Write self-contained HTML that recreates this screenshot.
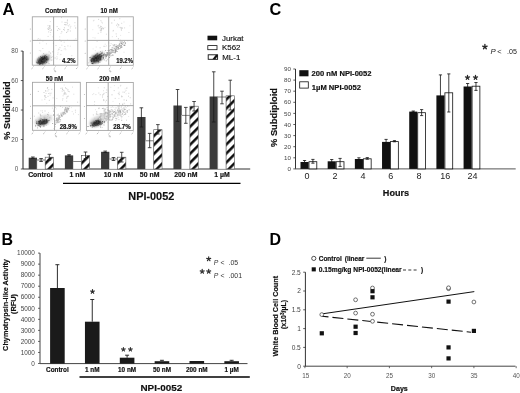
<!DOCTYPE html>
<html><head><meta charset="utf-8"><style>
html,body{margin:0;padding:0;background:#fff;}
svg{display:block;font-family:"Liberation Sans", sans-serif;will-change:transform;}
</style></head><body>
<svg width="520" height="393" viewBox="0 0 520 393">
<defs>
<pattern id="hatch" patternUnits="userSpaceOnUse" width="9" height="9" patternTransform="skewY(-45)">
<rect width="9" height="9" fill="#fff"/><rect y="0" width="9" height="3.6" fill="#111"/>
</pattern>
<pattern id="hatchL" patternUnits="userSpaceOnUse" width="8" height="8" patternTransform="rotate(-45)">
<rect width="8" height="8" fill="#fff"/><rect y="0" width="8" height="3" fill="#111"/>
</pattern>
<filter id="blur1" x="-50%" y="-50%" width="200%" height="200%"><feGaussianBlur stdDeviation="0.9"/></filter>
<filter id="soft" x="-10%" y="-10%" width="120%" height="120%"><feGaussianBlur stdDeviation="0.45"/></filter>
</defs>
<rect width="520" height="393" fill="#fff"/>
<text x="2.4" y="15.4" font-size="16.6" font-weight="bold" text-anchor="start" fill="#000">A</text>
<rect x="32.3" y="16.8" width="45.5" height="48.4" fill="#fff" stroke="none" stroke-width="1"/>
<circle cx="30.299999999999997" cy="28.9" r="0.5" fill="#aaa"/>
<circle cx="30.299999999999997" cy="41.0" r="0.5" fill="#aaa"/>
<circle cx="30.299999999999997" cy="53.099999999999994" r="0.5" fill="#aaa"/>
<path d="M31.5 68.9L32.8 67.7M33.1 66.8L33.6 66.4" stroke="#9a9a9a" stroke-width="0.7" fill="none"/>
<path d="M42.4 68.9L43.7 67.7M44.0 66.8L44.5 66.4" stroke="#9a9a9a" stroke-width="0.7" fill="none"/>
<path d="M53.6 68.9L54.9 67.7M55.2 66.8L55.7 66.4" stroke="#9a9a9a" stroke-width="0.7" fill="none"/>
<path d="M64.5 68.9L65.8 67.7M66.1 66.8L66.6 66.4" stroke="#9a9a9a" stroke-width="0.7" fill="none"/>
<path d="M76.1 68.9L77.4 67.7M77.7 66.8L78.2 66.4" stroke="#9a9a9a" stroke-width="0.7" fill="none"/>
<path d="M53.9 69.8l1.2 0.6M54.2 71.2l1.6 -0.2l-0.3 1.2" stroke="#aaa" stroke-width="0.7" fill="none"/>
<text x="55.95" y="12.9" font-size="6.6" font-weight="bold" text-anchor="middle" fill="#111" textLength="21.9" lengthAdjust="spacingAndGlyphs" stroke="#111" stroke-width="0.18">Control</text>
<g filter="url(#soft)">
<rect x="49.2" y="25.4" width="1.0" height="1.0" fill="#dcdcdc" opacity="1.0"/>
<rect x="39.2" y="42.6" width="1.0" height="1.0" fill="#d4d4d4" opacity="1.0"/>
<rect x="59.4" y="59.2" width="1.0" height="1.0" fill="#e2e2e2" opacity="1.0"/>
<rect x="37.8" y="38.0" width="1.0" height="1.0" fill="#dcdcdc" opacity="1.0"/>
<rect x="45.9" y="43.3" width="1.0" height="1.0" fill="#dcdcdc" opacity="1.0"/>
<rect x="69.1" y="24.2" width="1.0" height="1.0" fill="#e2e2e2" opacity="1.0"/>
<rect x="61.3" y="44.7" width="1.0" height="1.0" fill="#dcdcdc" opacity="1.0"/>
<rect x="59.2" y="36.4" width="1.0" height="1.0" fill="#e2e2e2" opacity="1.0"/>
<rect x="38.2" y="56.9" width="1.0" height="1.0" fill="#d4d4d4" opacity="1.0"/>
<rect x="52.9" y="42.8" width="1.0" height="1.0" fill="#d4d4d4" opacity="1.0"/>
<rect x="58.5" y="49.1" width="1.0" height="1.0" fill="#dcdcdc" opacity="1.0"/>
<rect x="59.4" y="47.2" width="1.0" height="1.0" fill="#d4d4d4" opacity="1.0"/>
<rect x="40.2" y="50.4" width="1.0" height="1.0" fill="#dcdcdc" opacity="1.0"/>
<rect x="60.9" y="40.8" width="1.0" height="1.0" fill="#e8e8e8" opacity="1.0"/>
<rect x="67.1" y="39.5" width="1.0" height="1.0" fill="#e8e8e8" opacity="1.0"/>
<rect x="50.7" y="29.8" width="1.0" height="1.0" fill="#e2e2e2" opacity="1.0"/>
<rect x="64.0" y="29.6" width="1.0" height="1.0" fill="#d4d4d4" opacity="1.0"/>
<rect x="57.1" y="57.7" width="1.0" height="1.0" fill="#e8e8e8" opacity="1.0"/>
<rect x="47.7" y="62.4" width="1.0" height="1.0" fill="#dcdcdc" opacity="1.0"/>
<rect x="56.6" y="26.1" width="1.0" height="1.0" fill="#d4d4d4" opacity="1.0"/>
<rect x="42.4" y="40.5" width="1.0" height="1.0" fill="#dcdcdc" opacity="1.0"/>
<rect x="74.4" y="22.2" width="1.0" height="1.0" fill="#d4d4d4" opacity="1.0"/>
<rect x="49.8" y="34.3" width="1.0" height="1.0" fill="#e8e8e8" opacity="1.0"/>
<rect x="59.3" y="39.0" width="1.0" height="1.0" fill="#dcdcdc" opacity="1.0"/>
<rect x="73.7" y="39.8" width="1.0" height="1.0" fill="#dcdcdc" opacity="1.0"/>
<rect x="38.8" y="50.0" width="1.0" height="1.0" fill="#e8e8e8" opacity="1.0"/>
<rect x="47.6" y="35.9" width="1.0" height="1.0" fill="#d4d4d4" opacity="1.0"/>
<rect x="37.2" y="39.3" width="1.0" height="1.0" fill="#e2e2e2" opacity="1.0"/>
<rect x="60.5" y="40.7" width="1.0" height="1.0" fill="#e2e2e2" opacity="1.0"/>
<rect x="66.8" y="24.5" width="1.0" height="1.0" fill="#e2e2e2" opacity="1.0"/>
<rect x="52.1" y="59.5" width="1.0" height="1.0" fill="#e8e8e8" opacity="1.0"/>
<rect x="39.5" y="38.7" width="1.0" height="1.0" fill="#d4d4d4" opacity="1.0"/>
<rect x="71.3" y="55.2" width="1.0" height="1.0" fill="#d4d4d4" opacity="1.0"/>
<rect x="64.3" y="62.6" width="1.0" height="1.0" fill="#e8e8e8" opacity="1.0"/>
<rect x="74.3" y="25.4" width="1.0" height="1.0" fill="#e2e2e2" opacity="1.0"/>
<rect x="42.3" y="48.0" width="1.0" height="1.0" fill="#dcdcdc" opacity="1.0"/>
<rect x="55.5" y="45.0" width="1.0" height="1.0" fill="#d4d4d4" opacity="1.0"/>
<rect x="47.5" y="25.2" width="1.0" height="1.0" fill="#d4d4d4" opacity="1.0"/>
<rect x="60.5" y="32.9" width="1.0" height="1.0" fill="#e2e2e2" opacity="1.0"/>
<rect x="63.7" y="41.7" width="1.0" height="1.0" fill="#dcdcdc" opacity="1.0"/>
<rect x="54.4" y="57.5" width="1.0" height="1.0" fill="#e8e8e8" opacity="1.0"/>
<rect x="52.1" y="36.3" width="1.0" height="1.0" fill="#e8e8e8" opacity="1.0"/>
<rect x="61.5" y="21.5" width="1.0" height="1.0" fill="#dcdcdc" opacity="1.0"/>
<rect x="75.3" y="38.3" width="1.0" height="1.0" fill="#dcdcdc" opacity="1.0"/>
<rect x="49.8" y="21.1" width="1.0" height="1.0" fill="#dcdcdc" opacity="1.0"/>
<rect x="48.1" y="27.2" width="1.0" height="1.0" fill="#d8d8d8" opacity="1.0"/>
<rect x="48.8" y="27.9" width="1.0" height="1.0" fill="#cfcfcf" opacity="1.0"/>
<rect x="48.7" y="27.6" width="1.0" height="1.0" fill="#d8d8d8" opacity="1.0"/>
<rect x="50.0" y="27.6" width="1.0" height="1.0" fill="#d8d8d8" opacity="1.0"/>
<rect x="50.1" y="31.9" width="1.0" height="1.0" fill="#d8d8d8" opacity="1.0"/>
<rect x="48.3" y="28.8" width="1.0" height="1.0" fill="#cfcfcf" opacity="1.0"/>
<rect x="49.6" y="29.9" width="1.0" height="1.0" fill="#d8d8d8" opacity="1.0"/>
<rect x="47.8" y="29.0" width="1.0" height="1.0" fill="#c8c8c8" opacity="1.0"/>
<rect x="50.9" y="29.4" width="1.0" height="1.0" fill="#c8c8c8" opacity="1.0"/>
<rect x="48.2" y="31.4" width="1.0" height="1.0" fill="#cfcfcf" opacity="1.0"/>
<rect x="49.0" y="26.4" width="1.0" height="1.0" fill="#c8c8c8" opacity="1.0"/>
<rect x="49.8" y="25.6" width="1.0" height="1.0" fill="#d8d8d8" opacity="1.0"/>
<rect x="47.3" y="27.9" width="1.0" height="1.0" fill="#d8d8d8" opacity="1.0"/>
<rect x="49.1" y="25.4" width="1.0" height="1.0" fill="#c8c8c8" opacity="1.0"/>
<rect x="63.1" y="29.0" width="1.0" height="1.0" fill="#cfcfcf" opacity="1.0"/>
<rect x="67.0" y="19.6" width="1.0" height="1.0" fill="#c8c8c8" opacity="1.0"/>
<rect x="65.4" y="24.0" width="1.0" height="1.0" fill="#d8d8d8" opacity="1.0"/>
<rect x="63.9" y="27.3" width="1.0" height="1.0" fill="#cfcfcf" opacity="1.0"/>
<rect x="65.6" y="22.1" width="1.0" height="1.0" fill="#cfcfcf" opacity="1.0"/>
<rect x="61.0" y="17.1" width="1.0" height="1.0" fill="#d8d8d8" opacity="1.0"/>
<rect x="66.8" y="20.5" width="1.0" height="1.0" fill="#d8d8d8" opacity="1.0"/>
<rect x="68.2" y="25.4" width="1.0" height="1.0" fill="#cfcfcf" opacity="1.0"/>
<rect x="68.1" y="29.2" width="1.0" height="1.0" fill="#d8d8d8" opacity="1.0"/>
<rect x="66.1" y="31.9" width="1.0" height="1.0" fill="#c8c8c8" opacity="1.0"/>
<rect x="67.0" y="22.6" width="1.0" height="1.0" fill="#c8c8c8" opacity="1.0"/>
<rect x="61.3" y="31.3" width="1.0" height="1.0" fill="#c8c8c8" opacity="1.0"/>
<rect x="67.4" y="29.2" width="1.0" height="1.0" fill="#c8c8c8" opacity="1.0"/>
<rect x="64.5" y="21.9" width="1.0" height="1.0" fill="#cfcfcf" opacity="1.0"/>
<rect x="59.3" y="28.8" width="1.0" height="1.0" fill="#cfcfcf" opacity="1.0"/>
<rect x="58.1" y="28.0" width="1.0" height="1.0" fill="#cfcfcf" opacity="1.0"/>
<rect x="64.1" y="24.1" width="1.0" height="1.0" fill="#cfcfcf" opacity="1.0"/>
<rect x="69.8" y="27.4" width="1.0" height="1.0" fill="#d8d8d8" opacity="1.0"/>
<rect x="65.3" y="24.4" width="1.0" height="1.0" fill="#c8c8c8" opacity="1.0"/>
<rect x="70.3" y="25.8" width="1.0" height="1.0" fill="#d8d8d8" opacity="1.0"/>
<rect x="67.3" y="30.7" width="1.0" height="1.0" fill="#cfcfcf" opacity="1.0"/>
<rect x="75.1" y="27.5" width="1.0" height="1.0" fill="#c8c8c8" opacity="1.0"/>
<rect x="69.8" y="30.5" width="1.0" height="1.0" fill="#cfcfcf" opacity="1.0"/>
<rect x="57.1" y="29.8" width="1.0" height="1.0" fill="#cfcfcf" opacity="1.0"/>
<ellipse cx="43.8" cy="59.900000000000006" rx="8" ry="4.3" fill="#a0a0a0" opacity="0.6" transform="rotate(-28 42.8 60.2)" filter="url(#blur1)"/>
<rect x="46.6" y="57.5" width="1.0" height="1.0" fill="#c4c4c4" opacity="0.8"/>
<rect x="45.7" y="61.5" width="1.0" height="1.0" fill="#bababa" opacity="0.8"/>
<rect x="35.9" y="61.4" width="1.0" height="1.0" fill="#a6a6a6" opacity="0.8"/>
<rect x="46.3" y="55.9" width="1.0" height="1.0" fill="#acacac" opacity="0.8"/>
<rect x="38.1" y="57.3" width="1.0" height="1.0" fill="#c4c4c4" opacity="0.8"/>
<rect x="45.8" y="58.8" width="1.0" height="1.0" fill="#c4c4c4" opacity="0.8"/>
<rect x="48.2" y="56.7" width="1.0" height="1.0" fill="#b0b0b0" opacity="0.8"/>
<rect x="37.2" y="59.1" width="1.0" height="1.0" fill="#b0b0b0" opacity="0.8"/>
<rect x="47.1" y="59.8" width="1.0" height="1.0" fill="#a6a6a6" opacity="0.8"/>
<rect x="40.1" y="59.8" width="1.0" height="1.0" fill="#c4c4c4" opacity="0.8"/>
<rect x="39.1" y="60.6" width="1.0" height="1.0" fill="#a6a6a6" opacity="0.8"/>
<rect x="44.5" y="57.7" width="1.0" height="1.0" fill="#b0b0b0" opacity="0.8"/>
<rect x="44.6" y="63.1" width="1.0" height="1.0" fill="#c4c4c4" opacity="0.8"/>
<rect x="43.0" y="59.3" width="1.0" height="1.0" fill="#a6a6a6" opacity="0.8"/>
<rect x="39.2" y="62.5" width="1.0" height="1.0" fill="#c4c4c4" opacity="0.8"/>
<rect x="41.2" y="58.9" width="1.0" height="1.0" fill="#bababa" opacity="0.8"/>
<rect x="39.5" y="62.0" width="1.0" height="1.0" fill="#acacac" opacity="0.8"/>
<rect x="40.8" y="60.2" width="1.0" height="1.0" fill="#c4c4c4" opacity="0.8"/>
<rect x="48.6" y="51.4" width="1.0" height="1.0" fill="#bababa" opacity="0.8"/>
<rect x="50.1" y="52.6" width="1.0" height="1.0" fill="#b0b0b0" opacity="0.8"/>
<rect x="44.4" y="57.1" width="1.0" height="1.0" fill="#a6a6a6" opacity="0.8"/>
<rect x="41.7" y="61.3" width="1.0" height="1.0" fill="#b0b0b0" opacity="0.8"/>
<rect x="41.7" y="60.7" width="1.0" height="1.0" fill="#bababa" opacity="0.8"/>
<rect x="43.1" y="53.1" width="1.0" height="1.0" fill="#b0b0b0" opacity="0.8"/>
<rect x="48.5" y="54.7" width="1.0" height="1.0" fill="#bababa" opacity="0.8"/>
<rect x="50.8" y="59.6" width="1.0" height="1.0" fill="#acacac" opacity="0.8"/>
<rect x="48.5" y="63.1" width="1.0" height="1.0" fill="#acacac" opacity="0.8"/>
<rect x="45.1" y="56.9" width="1.0" height="1.0" fill="#b0b0b0" opacity="0.8"/>
<rect x="47.1" y="59.5" width="1.0" height="1.0" fill="#c4c4c4" opacity="0.8"/>
<rect x="41.1" y="61.8" width="1.0" height="1.0" fill="#bababa" opacity="0.8"/>
<rect x="42.9" y="63.3" width="1.0" height="1.0" fill="#a6a6a6" opacity="0.8"/>
<rect x="42.6" y="62.0" width="1.0" height="1.0" fill="#a6a6a6" opacity="0.8"/>
<rect x="41.2" y="62.4" width="1.0" height="1.0" fill="#bababa" opacity="0.8"/>
<rect x="42.3" y="59.4" width="1.0" height="1.0" fill="#b0b0b0" opacity="0.8"/>
<rect x="45.5" y="57.5" width="1.0" height="1.0" fill="#bababa" opacity="0.8"/>
<rect x="44.1" y="60.0" width="1.0" height="1.0" fill="#acacac" opacity="0.8"/>
<rect x="45.9" y="54.2" width="1.0" height="1.0" fill="#bababa" opacity="0.8"/>
<rect x="40.5" y="62.4" width="1.0" height="1.0" fill="#c4c4c4" opacity="0.8"/>
<rect x="37.4" y="60.2" width="1.0" height="1.0" fill="#a6a6a6" opacity="0.8"/>
<rect x="44.6" y="63.3" width="1.0" height="1.0" fill="#b0b0b0" opacity="0.8"/>
<rect x="42.6" y="59.8" width="1.0" height="1.0" fill="#a6a6a6" opacity="0.8"/>
<rect x="37.5" y="58.3" width="1.0" height="1.0" fill="#a6a6a6" opacity="0.8"/>
<rect x="41.1" y="58.9" width="1.0" height="1.0" fill="#bababa" opacity="0.8"/>
<rect x="45.7" y="55.3" width="1.0" height="1.0" fill="#bababa" opacity="0.8"/>
<rect x="47.9" y="56.4" width="1.0" height="1.0" fill="#bababa" opacity="0.8"/>
<rect x="42.7" y="58.7" width="1.0" height="1.0" fill="#b0b0b0" opacity="0.8"/>
<rect x="52.3" y="51.3" width="1.0" height="1.0" fill="#bababa" opacity="0.8"/>
<rect x="46.6" y="57.8" width="1.0" height="1.0" fill="#bababa" opacity="0.8"/>
<rect x="60.6" y="50.0" width="1.0" height="1.0" fill="#e8e8e8" opacity="1.0"/>
<rect x="60.4" y="53.8" width="1.0" height="1.0" fill="#dcdcdc" opacity="1.0"/>
<rect x="69.8" y="45.7" width="1.0" height="1.0" fill="#e2e2e2" opacity="1.0"/>
<rect x="59.8" y="54.2" width="1.0" height="1.0" fill="#e8e8e8" opacity="1.0"/>
<rect x="58.2" y="48.7" width="1.0" height="1.0" fill="#d4d4d4" opacity="1.0"/>
<rect x="65.3" y="49.3" width="1.0" height="1.0" fill="#e2e2e2" opacity="1.0"/>
<rect x="57.2" y="53.8" width="1.0" height="1.0" fill="#e2e2e2" opacity="1.0"/>
<rect x="46.6" y="55.1" width="1.0" height="1.0" fill="#e8e8e8" opacity="1.0"/>
<rect x="56.4" y="58.5" width="1.0" height="1.0" fill="#d4d4d4" opacity="1.0"/>
<rect x="61.2" y="50.1" width="1.0" height="1.0" fill="#e2e2e2" opacity="1.0"/>
<rect x="51.0" y="57.0" width="1.0" height="1.0" fill="#d4d4d4" opacity="1.0"/>
<rect x="67.4" y="45.4" width="1.0" height="1.0" fill="#d4d4d4" opacity="1.0"/>
<rect x="54.7" y="57.5" width="1.0" height="1.0" fill="#dcdcdc" opacity="1.0"/>
<rect x="57.5" y="52.3" width="1.0" height="1.0" fill="#dcdcdc" opacity="1.0"/>
<rect x="51.8" y="56.2" width="1.0" height="1.0" fill="#dcdcdc" opacity="1.0"/>
<rect x="56.4" y="56.3" width="1.0" height="1.0" fill="#dcdcdc" opacity="1.0"/>
<rect x="57.6" y="50.2" width="1.0" height="1.0" fill="#e8e8e8" opacity="1.0"/>
<rect x="64.3" y="46.0" width="1.0" height="1.0" fill="#d4d4d4" opacity="1.0"/>
<rect x="63.6" y="48.6" width="1.0" height="1.0" fill="#e8e8e8" opacity="1.0"/>
<rect x="64.6" y="47.8" width="1.0" height="1.0" fill="#dcdcdc" opacity="1.0"/>
<ellipse cx="42.8" cy="60.2" rx="5.6" ry="3.4" fill="#222" opacity="1" transform="rotate(-25 42.8 60.2)" filter="url(#blur1)"/>
<rect x="42.9" y="57.4" width="1.0" height="1.0" fill="#555" opacity="0.7"/>
<rect x="39.9" y="58.6" width="1.0" height="1.0" fill="#2a2a2a" opacity="0.7"/>
<rect x="43.0" y="59.6" width="1.0" height="1.0" fill="#555" opacity="0.7"/>
<rect x="41.9" y="60.5" width="1.0" height="1.0" fill="#4a4a4a" opacity="0.7"/>
<rect x="38.9" y="60.6" width="1.0" height="1.0" fill="#555" opacity="0.7"/>
<rect x="40.5" y="60.4" width="1.0" height="1.0" fill="#3a3a3a" opacity="0.7"/>
<rect x="46.4" y="57.6" width="1.0" height="1.0" fill="#555" opacity="0.7"/>
<rect x="46.2" y="56.2" width="1.0" height="1.0" fill="#1a1a1a" opacity="0.7"/>
<rect x="41.6" y="59.5" width="1.0" height="1.0" fill="#555" opacity="0.7"/>
<rect x="38.4" y="62.3" width="1.0" height="1.0" fill="#3a3a3a" opacity="0.7"/>
<rect x="43.8" y="61.7" width="1.0" height="1.0" fill="#2a2a2a" opacity="0.7"/>
<rect x="40.0" y="56.3" width="1.0" height="1.0" fill="#4a4a4a" opacity="0.7"/>
<rect x="42.6" y="59.0" width="1.0" height="1.0" fill="#555" opacity="0.7"/>
<rect x="42.3" y="60.2" width="1.0" height="1.0" fill="#555" opacity="0.7"/>
<rect x="41.5" y="59.6" width="1.0" height="1.0" fill="#2a2a2a" opacity="0.7"/>
<rect x="41.6" y="62.2" width="1.0" height="1.0" fill="#555" opacity="0.7"/>
<rect x="42.2" y="61.8" width="1.0" height="1.0" fill="#1a1a1a" opacity="0.7"/>
<rect x="39.8" y="61.3" width="1.0" height="1.0" fill="#555" opacity="0.7"/>
<rect x="43.9" y="59.5" width="1.0" height="1.0" fill="#4a4a4a" opacity="0.7"/>
<rect x="42.4" y="61.6" width="1.0" height="1.0" fill="#4a4a4a" opacity="0.7"/>
<rect x="38.7" y="62.2" width="1.0" height="1.0" fill="#222" opacity="0.7"/>
<rect x="46.1" y="62.1" width="1.0" height="1.0" fill="#4a4a4a" opacity="0.7"/>
<rect x="44.9" y="58.5" width="1.0" height="1.0" fill="#222" opacity="0.7"/>
<rect x="44.6" y="58.1" width="1.0" height="1.0" fill="#3a3a3a" opacity="0.7"/>
<rect x="39.4" y="63.7" width="1.0" height="1.0" fill="#2a2a2a" opacity="0.7"/>
<rect x="43.3" y="59.5" width="1.0" height="1.0" fill="#555" opacity="0.7"/>
<rect x="36.4" y="62.2" width="1.0" height="1.0" fill="#2a2a2a" opacity="0.7"/>
<rect x="39.1" y="59.9" width="1.0" height="1.0" fill="#3a3a3a" opacity="0.7"/>
<rect x="44.3" y="56.9" width="1.0" height="1.0" fill="#2a2a2a" opacity="0.7"/>
<rect x="37.6" y="62.2" width="1.0" height="1.0" fill="#4a4a4a" opacity="0.7"/>
<rect x="42.5" y="59.6" width="1.0" height="1.0" fill="#4a4a4a" opacity="0.7"/>
<rect x="40.7" y="59.0" width="1.0" height="1.0" fill="#555" opacity="0.7"/>
<rect x="44.1" y="59.9" width="1.0" height="1.0" fill="#3a3a3a" opacity="0.7"/>
<rect x="44.2" y="59.7" width="1.0" height="1.0" fill="#3a3a3a" opacity="0.7"/>
<rect x="41.0" y="57.2" width="1.0" height="1.0" fill="#1a1a1a" opacity="0.7"/>
<rect x="43.5" y="58.6" width="1.0" height="1.0" fill="#1a1a1a" opacity="0.7"/>
<rect x="43.5" y="58.2" width="1.0" height="1.0" fill="#3a3a3a" opacity="0.7"/>
<rect x="44.7" y="59.1" width="1.0" height="1.0" fill="#222" opacity="0.7"/>
<rect x="47.7" y="58.6" width="1.0" height="1.0" fill="#3a3a3a" opacity="0.7"/>
<rect x="43.0" y="58.2" width="1.0" height="1.0" fill="#1a1a1a" opacity="0.7"/>
<rect x="42.8" y="58.3" width="1.0" height="1.0" fill="#2a2a2a" opacity="0.7"/>
<rect x="42.9" y="60.7" width="1.0" height="1.0" fill="#222" opacity="0.7"/>
<rect x="41.8" y="62.6" width="1.0" height="1.0" fill="#4a4a4a" opacity="0.7"/>
<rect x="44.6" y="56.4" width="1.0" height="1.0" fill="#555" opacity="0.7"/>
<rect x="39.4" y="63.3" width="1.0" height="1.0" fill="#222" opacity="0.7"/>
<rect x="38.5" y="60.9" width="1.0" height="1.0" fill="#1a1a1a" opacity="0.7"/>
<rect x="44.2" y="58.0" width="1.0" height="1.0" fill="#222" opacity="0.7"/>
<rect x="41.3" y="57.8" width="1.0" height="1.0" fill="#3a3a3a" opacity="0.7"/>
<rect x="37.4" y="62.6" width="1.0" height="1.0" fill="#222" opacity="0.7"/>
<rect x="44.7" y="59.8" width="1.0" height="1.0" fill="#3a3a3a" opacity="0.7"/>
<rect x="42.5" y="60.9" width="1.0" height="1.0" fill="#555" opacity="0.7"/>
<rect x="44.0" y="58.6" width="1.0" height="1.0" fill="#555" opacity="0.7"/>
<rect x="43.3" y="61.1" width="1.0" height="1.0" fill="#555" opacity="0.7"/>
<rect x="41.5" y="60.8" width="1.0" height="1.0" fill="#2a2a2a" opacity="0.7"/>
<rect x="45.1" y="59.1" width="1.0" height="1.0" fill="#4a4a4a" opacity="0.7"/>
<rect x="39.7" y="60.5" width="1.0" height="1.0" fill="#3a3a3a" opacity="0.7"/>
<rect x="44.8" y="58.3" width="1.0" height="1.0" fill="#2a2a2a" opacity="0.7"/>
<rect x="40.5" y="60.3" width="1.0" height="1.0" fill="#2a2a2a" opacity="0.7"/>
<rect x="42.0" y="60.5" width="1.0" height="1.0" fill="#2a2a2a" opacity="0.7"/>
<rect x="40.4" y="63.0" width="1.0" height="1.0" fill="#2a2a2a" opacity="0.7"/>
<rect x="44.4" y="56.7" width="1.0" height="1.0" fill="#4a4a4a" opacity="0.7"/>
<rect x="40.3" y="62.7" width="1.0" height="1.0" fill="#2a2a2a" opacity="0.7"/>
<rect x="41.3" y="61.3" width="1.0" height="1.0" fill="#1a1a1a" opacity="0.7"/>
<rect x="39.3" y="61.3" width="1.0" height="1.0" fill="#3a3a3a" opacity="0.7"/>
<rect x="44.8" y="59.8" width="1.0" height="1.0" fill="#555" opacity="0.7"/>
<rect x="42.1" y="56.6" width="1.0" height="1.0" fill="#1a1a1a" opacity="0.7"/>
<rect x="42.6" y="60.8" width="1.0" height="1.0" fill="#4a4a4a" opacity="0.7"/>
<rect x="40.2" y="59.4" width="1.0" height="1.0" fill="#3a3a3a" opacity="0.7"/>
<rect x="43.8" y="56.1" width="1.0" height="1.0" fill="#1a1a1a" opacity="0.7"/>
<rect x="44.5" y="59.8" width="1.0" height="1.0" fill="#4a4a4a" opacity="0.7"/>
<rect x="44.7" y="58.0" width="1.0" height="1.0" fill="#1a1a1a" opacity="0.7"/>
<rect x="39.2" y="63.8" width="1.0" height="1.0" fill="#222" opacity="0.7"/>
<rect x="44.6" y="54.9" width="1.0" height="1.0" fill="#2a2a2a" opacity="0.7"/>
<rect x="42.1" y="58.6" width="1.0" height="1.0" fill="#2a2a2a" opacity="0.7"/>
<rect x="38.7" y="61.2" width="1.0" height="1.0" fill="#555" opacity="0.7"/>
<rect x="39.7" y="58.0" width="1.0" height="1.0" fill="#4a4a4a" opacity="0.7"/>
<rect x="46.3" y="59.0" width="1.0" height="1.0" fill="#1a1a1a" opacity="0.7"/>
<rect x="42.1" y="58.6" width="1.0" height="1.0" fill="#1a1a1a" opacity="0.7"/>
<rect x="40.6" y="59.4" width="1.0" height="1.0" fill="#2a2a2a" opacity="0.7"/>
<rect x="39.7" y="59.6" width="1.0" height="1.0" fill="#4a4a4a" opacity="0.7"/>
<rect x="41.6" y="59.3" width="1.0" height="1.0" fill="#1a1a1a" opacity="0.7"/>
<rect x="42.2" y="63.6" width="1.0" height="1.0" fill="#2a2a2a" opacity="0.7"/>
<rect x="41.4" y="61.0" width="1.0" height="1.0" fill="#222" opacity="0.7"/>
<rect x="45.2" y="58.2" width="1.0" height="1.0" fill="#4a4a4a" opacity="0.7"/>
<rect x="42.5" y="61.0" width="1.0" height="1.0" fill="#2a2a2a" opacity="0.7"/>
<rect x="40.7" y="60.7" width="1.0" height="1.0" fill="#2a2a2a" opacity="0.7"/>
<rect x="44.8" y="58.7" width="1.0" height="1.0" fill="#555" opacity="0.7"/>
<rect x="42.3" y="60.1" width="1.0" height="1.0" fill="#4a4a4a" opacity="0.7"/>
<rect x="44.1" y="57.1" width="1.0" height="1.0" fill="#1a1a1a" opacity="0.7"/>
<rect x="43.2" y="61.7" width="1.0" height="1.0" fill="#3a3a3a" opacity="0.7"/>
</g>
<rect x="32.3" y="16.8" width="45.5" height="48.4" fill="none" stroke="#a2a2a2" stroke-width="0.85"/>
<line x1="53.6" y1="16.8" x2="53.6" y2="65.2" stroke="#999" stroke-width="0.85"/>
<line x1="32.3" y1="40.4" x2="77.8" y2="40.4" stroke="#999" stroke-width="0.85"/>
<text x="62" y="62.6" font-size="6.3" font-weight="bold" text-anchor="start" fill="#111" textLength="13.6" lengthAdjust="spacingAndGlyphs" stroke="#111" stroke-width="0.18">4.2%</text>
<rect x="87.2" y="16.8" width="46.1" height="48.5" fill="#fff" stroke="none" stroke-width="1"/>
<circle cx="85.2" cy="28.925" r="0.5" fill="#aaa"/>
<circle cx="85.2" cy="41.05" r="0.5" fill="#aaa"/>
<circle cx="85.2" cy="53.175" r="0.5" fill="#aaa"/>
<path d="M86.4 69.0L87.7 67.8M88.0 66.9L88.5 66.5" stroke="#9a9a9a" stroke-width="0.7" fill="none"/>
<path d="M97.5 69.0L98.8 67.8M99.1 66.9L99.6 66.5" stroke="#9a9a9a" stroke-width="0.7" fill="none"/>
<path d="M108.8 69.0L110.1 67.8M110.4 66.9L110.9 66.5" stroke="#9a9a9a" stroke-width="0.7" fill="none"/>
<path d="M119.9 69.0L121.2 67.8M121.5 66.9L122.0 66.5" stroke="#9a9a9a" stroke-width="0.7" fill="none"/>
<path d="M131.6 69.0L132.9 67.8M133.2 66.9L133.7 66.5" stroke="#9a9a9a" stroke-width="0.7" fill="none"/>
<path d="M109.0 69.9l1.2 0.6M109.3 71.3l1.6 -0.2l-0.3 1.2" stroke="#aaa" stroke-width="0.7" fill="none"/>
<text x="109.1" y="12.9" font-size="6.6" font-weight="bold" text-anchor="middle" fill="#111" textLength="17.3" lengthAdjust="spacingAndGlyphs" stroke="#111" stroke-width="0.18">10 nM</text>
<g filter="url(#soft)">
<rect x="100.4" y="20.2" width="1.0" height="1.0" fill="#d4d4d4" opacity="1.0"/>
<rect x="120.1" y="34.9" width="1.0" height="1.0" fill="#e8e8e8" opacity="1.0"/>
<rect x="99.3" y="54.3" width="1.0" height="1.0" fill="#dcdcdc" opacity="1.0"/>
<rect x="99.5" y="62.0" width="1.0" height="1.0" fill="#d4d4d4" opacity="1.0"/>
<rect x="122.0" y="27.4" width="1.0" height="1.0" fill="#e8e8e8" opacity="1.0"/>
<rect x="100.2" y="52.7" width="1.0" height="1.0" fill="#d4d4d4" opacity="1.0"/>
<rect x="95.7" y="46.5" width="1.0" height="1.0" fill="#e2e2e2" opacity="1.0"/>
<rect x="127.3" y="40.4" width="1.0" height="1.0" fill="#dcdcdc" opacity="1.0"/>
<rect x="129.4" y="25.3" width="1.0" height="1.0" fill="#e8e8e8" opacity="1.0"/>
<rect x="93.5" y="19.8" width="1.0" height="1.0" fill="#e2e2e2" opacity="1.0"/>
<rect x="108.0" y="50.4" width="1.0" height="1.0" fill="#e2e2e2" opacity="1.0"/>
<rect x="107.1" y="58.8" width="1.0" height="1.0" fill="#d4d4d4" opacity="1.0"/>
<rect x="120.7" y="63.2" width="1.0" height="1.0" fill="#e2e2e2" opacity="1.0"/>
<rect x="104.5" y="27.0" width="1.0" height="1.0" fill="#e8e8e8" opacity="1.0"/>
<rect x="92.6" y="48.4" width="1.0" height="1.0" fill="#e8e8e8" opacity="1.0"/>
<rect x="125.0" y="62.7" width="1.0" height="1.0" fill="#e8e8e8" opacity="1.0"/>
<rect x="98.1" y="18.9" width="1.0" height="1.0" fill="#d4d4d4" opacity="1.0"/>
<rect x="94.5" y="37.5" width="1.0" height="1.0" fill="#dcdcdc" opacity="1.0"/>
<rect x="113.8" y="52.6" width="1.0" height="1.0" fill="#e8e8e8" opacity="1.0"/>
<rect x="105.6" y="55.4" width="1.0" height="1.0" fill="#e8e8e8" opacity="1.0"/>
<rect x="94.8" y="50.2" width="1.0" height="1.0" fill="#e2e2e2" opacity="1.0"/>
<rect x="106.3" y="59.8" width="1.0" height="1.0" fill="#e2e2e2" opacity="1.0"/>
<rect x="104.3" y="51.6" width="1.0" height="1.0" fill="#e8e8e8" opacity="1.0"/>
<rect x="92.5" y="37.1" width="1.0" height="1.0" fill="#e8e8e8" opacity="1.0"/>
<rect x="92.9" y="20.3" width="1.0" height="1.0" fill="#dcdcdc" opacity="1.0"/>
<rect x="123.5" y="21.5" width="1.0" height="1.0" fill="#e2e2e2" opacity="1.0"/>
<rect x="121.3" y="58.8" width="1.0" height="1.0" fill="#d4d4d4" opacity="1.0"/>
<rect x="105.9" y="33.7" width="1.0" height="1.0" fill="#dcdcdc" opacity="1.0"/>
<rect x="101.8" y="50.7" width="1.0" height="1.0" fill="#d4d4d4" opacity="1.0"/>
<rect x="128.4" y="32.0" width="1.0" height="1.0" fill="#dcdcdc" opacity="1.0"/>
<rect x="92.3" y="29.2" width="1.0" height="1.0" fill="#e8e8e8" opacity="1.0"/>
<rect x="120.0" y="39.5" width="1.0" height="1.0" fill="#e8e8e8" opacity="1.0"/>
<rect x="123.0" y="59.5" width="1.0" height="1.0" fill="#e8e8e8" opacity="1.0"/>
<rect x="96.6" y="40.9" width="1.0" height="1.0" fill="#dcdcdc" opacity="1.0"/>
<rect x="123.5" y="51.7" width="1.0" height="1.0" fill="#e2e2e2" opacity="1.0"/>
<rect x="115.7" y="33.4" width="1.0" height="1.0" fill="#d4d4d4" opacity="1.0"/>
<rect x="109.8" y="53.7" width="1.0" height="1.0" fill="#dcdcdc" opacity="1.0"/>
<rect x="111.8" y="36.2" width="1.0" height="1.0" fill="#e2e2e2" opacity="1.0"/>
<rect x="101.2" y="21.6" width="1.0" height="1.0" fill="#dcdcdc" opacity="1.0"/>
<rect x="110.6" y="43.0" width="1.0" height="1.0" fill="#e2e2e2" opacity="1.0"/>
<rect x="130.6" y="58.1" width="1.0" height="1.0" fill="#dcdcdc" opacity="1.0"/>
<rect x="101.9" y="22.5" width="1.0" height="1.0" fill="#dcdcdc" opacity="1.0"/>
<rect x="108.2" y="62.8" width="1.0" height="1.0" fill="#e8e8e8" opacity="1.0"/>
<rect x="98.3" y="24.7" width="1.0" height="1.0" fill="#e8e8e8" opacity="1.0"/>
<rect x="116.2" y="48.8" width="1.0" height="1.0" fill="#dcdcdc" opacity="1.0"/>
<rect x="100.8" y="26.0" width="1.0" height="1.0" fill="#d8d8d8" opacity="1.0"/>
<rect x="98.7" y="27.3" width="1.0" height="1.0" fill="#c8c8c8" opacity="1.0"/>
<rect x="100.4" y="31.7" width="1.0" height="1.0" fill="#cfcfcf" opacity="1.0"/>
<rect x="100.5" y="30.2" width="1.0" height="1.0" fill="#c8c8c8" opacity="1.0"/>
<rect x="100.8" y="29.5" width="1.0" height="1.0" fill="#d8d8d8" opacity="1.0"/>
<rect x="102.9" y="28.3" width="1.0" height="1.0" fill="#cfcfcf" opacity="1.0"/>
<rect x="100.0" y="27.4" width="1.0" height="1.0" fill="#d8d8d8" opacity="1.0"/>
<rect x="101.4" y="28.4" width="1.0" height="1.0" fill="#d8d8d8" opacity="1.0"/>
<rect x="101.6" y="27.0" width="1.0" height="1.0" fill="#d8d8d8" opacity="1.0"/>
<rect x="101.0" y="28.1" width="1.0" height="1.0" fill="#d8d8d8" opacity="1.0"/>
<rect x="100.6" y="29.5" width="1.0" height="1.0" fill="#c8c8c8" opacity="1.0"/>
<rect x="103.1" y="27.8" width="1.0" height="1.0" fill="#cfcfcf" opacity="1.0"/>
<rect x="97.7" y="32.8" width="1.0" height="1.0" fill="#d8d8d8" opacity="1.0"/>
<rect x="97.7" y="25.4" width="1.0" height="1.0" fill="#c8c8c8" opacity="1.0"/>
<rect x="101.4" y="28.0" width="1.0" height="1.0" fill="#c8c8c8" opacity="1.0"/>
<rect x="100.0" y="25.8" width="1.0" height="1.0" fill="#cfcfcf" opacity="1.0"/>
<rect x="99.8" y="29.7" width="1.0" height="1.0" fill="#cfcfcf" opacity="1.0"/>
<rect x="101.1" y="28.5" width="1.0" height="1.0" fill="#c8c8c8" opacity="1.0"/>
<rect x="117.9" y="24.3" width="1.0" height="1.0" fill="#cfcfcf" opacity="1.0"/>
<rect x="121.2" y="22.8" width="1.0" height="1.0" fill="#d8d8d8" opacity="1.0"/>
<rect x="120.9" y="29.7" width="1.0" height="1.0" fill="#cfcfcf" opacity="1.0"/>
<rect x="124.1" y="27.4" width="1.0" height="1.0" fill="#d8d8d8" opacity="1.0"/>
<rect x="121.2" y="27.2" width="1.0" height="1.0" fill="#d8d8d8" opacity="1.0"/>
<rect x="118.3" y="24.5" width="1.0" height="1.0" fill="#c8c8c8" opacity="1.0"/>
<rect x="121.5" y="27.8" width="1.0" height="1.0" fill="#c8c8c8" opacity="1.0"/>
<rect x="117.9" y="38.3" width="1.0" height="1.0" fill="#c8c8c8" opacity="1.0"/>
<rect x="116.0" y="35.8" width="1.0" height="1.0" fill="#d8d8d8" opacity="1.0"/>
<rect x="119.3" y="18.2" width="1.0" height="1.0" fill="#d8d8d8" opacity="1.0"/>
<rect x="112.6" y="30.5" width="1.0" height="1.0" fill="#d8d8d8" opacity="1.0"/>
<rect x="117.0" y="23.4" width="1.0" height="1.0" fill="#d8d8d8" opacity="1.0"/>
<rect x="119.6" y="26.9" width="1.0" height="1.0" fill="#cfcfcf" opacity="1.0"/>
<rect x="112.9" y="29.9" width="1.0" height="1.0" fill="#d8d8d8" opacity="1.0"/>
<rect x="116.1" y="24.7" width="1.0" height="1.0" fill="#cfcfcf" opacity="1.0"/>
<rect x="120.4" y="27.4" width="1.0" height="1.0" fill="#cfcfcf" opacity="1.0"/>
<rect x="113.9" y="19.7" width="1.0" height="1.0" fill="#cfcfcf" opacity="1.0"/>
<rect x="111.3" y="22.5" width="1.0" height="1.0" fill="#c8c8c8" opacity="1.0"/>
<rect x="117.3" y="26.4" width="1.0" height="1.0" fill="#d8d8d8" opacity="1.0"/>
<rect x="120.8" y="28.6" width="1.0" height="1.0" fill="#cfcfcf" opacity="1.0"/>
<ellipse cx="97.5" cy="58.1" rx="8.5" ry="4.4" fill="#a0a0a0" opacity="0.55" transform="rotate(-30 96.5 58.4)" filter="url(#blur1)"/>
<rect x="102.9" y="56.3" width="1.0" height="1.0" fill="#b0b0b0" opacity="0.8"/>
<rect x="97.7" y="62.5" width="1.0" height="1.0" fill="#a6a6a6" opacity="0.8"/>
<rect x="102.7" y="53.7" width="1.0" height="1.0" fill="#a6a6a6" opacity="0.8"/>
<rect x="92.0" y="57.7" width="1.0" height="1.0" fill="#a6a6a6" opacity="0.8"/>
<rect x="101.9" y="52.3" width="1.0" height="1.0" fill="#b0b0b0" opacity="0.8"/>
<rect x="90.6" y="56.6" width="1.0" height="1.0" fill="#c4c4c4" opacity="0.8"/>
<rect x="92.5" y="63.4" width="1.0" height="1.0" fill="#acacac" opacity="0.8"/>
<rect x="100.1" y="57.6" width="1.0" height="1.0" fill="#acacac" opacity="0.8"/>
<rect x="100.1" y="55.1" width="1.0" height="1.0" fill="#bababa" opacity="0.8"/>
<rect x="101.0" y="56.7" width="1.0" height="1.0" fill="#b0b0b0" opacity="0.8"/>
<rect x="103.8" y="54.5" width="1.0" height="1.0" fill="#a6a6a6" opacity="0.8"/>
<rect x="95.1" y="56.3" width="1.0" height="1.0" fill="#acacac" opacity="0.8"/>
<rect x="92.6" y="57.8" width="1.0" height="1.0" fill="#bababa" opacity="0.8"/>
<rect x="94.9" y="56.6" width="1.0" height="1.0" fill="#b0b0b0" opacity="0.8"/>
<rect x="93.2" y="61.7" width="1.0" height="1.0" fill="#acacac" opacity="0.8"/>
<rect x="95.3" y="58.4" width="1.0" height="1.0" fill="#a6a6a6" opacity="0.8"/>
<rect x="93.3" y="57.3" width="1.0" height="1.0" fill="#b0b0b0" opacity="0.8"/>
<rect x="92.9" y="61.2" width="1.0" height="1.0" fill="#acacac" opacity="0.8"/>
<rect x="100.1" y="51.0" width="1.0" height="1.0" fill="#acacac" opacity="0.8"/>
<rect x="100.2" y="56.6" width="1.0" height="1.0" fill="#acacac" opacity="0.8"/>
<rect x="94.6" y="62.9" width="1.0" height="1.0" fill="#c4c4c4" opacity="0.8"/>
<rect x="96.7" y="57.6" width="1.0" height="1.0" fill="#b0b0b0" opacity="0.8"/>
<rect x="105.2" y="55.2" width="1.0" height="1.0" fill="#c4c4c4" opacity="0.8"/>
<rect x="105.4" y="55.1" width="1.0" height="1.0" fill="#acacac" opacity="0.8"/>
<rect x="91.8" y="56.2" width="1.0" height="1.0" fill="#a6a6a6" opacity="0.8"/>
<rect x="103.6" y="45.8" width="1.0" height="1.0" fill="#a6a6a6" opacity="0.8"/>
<rect x="105.7" y="60.4" width="1.0" height="1.0" fill="#acacac" opacity="0.8"/>
<rect x="98.4" y="62.0" width="1.0" height="1.0" fill="#b0b0b0" opacity="0.8"/>
<rect x="93.4" y="55.1" width="1.0" height="1.0" fill="#b0b0b0" opacity="0.8"/>
<rect x="102.2" y="55.6" width="1.0" height="1.0" fill="#bababa" opacity="0.8"/>
<rect x="105.3" y="58.0" width="1.0" height="1.0" fill="#bababa" opacity="0.8"/>
<rect x="101.1" y="53.2" width="1.0" height="1.0" fill="#bababa" opacity="0.8"/>
<rect x="88.2" y="62.4" width="1.0" height="1.0" fill="#b0b0b0" opacity="0.8"/>
<rect x="92.0" y="58.1" width="1.0" height="1.0" fill="#b0b0b0" opacity="0.8"/>
<rect x="97.8" y="57.7" width="1.0" height="1.0" fill="#b0b0b0" opacity="0.8"/>
<rect x="94.0" y="61.6" width="1.0" height="1.0" fill="#bababa" opacity="0.8"/>
<rect x="91.6" y="54.8" width="1.0" height="1.0" fill="#b0b0b0" opacity="0.8"/>
<rect x="97.9" y="54.7" width="1.0" height="1.0" fill="#c4c4c4" opacity="0.8"/>
<rect x="106.9" y="53.5" width="1.0" height="1.0" fill="#acacac" opacity="0.8"/>
<rect x="92.1" y="59.0" width="1.0" height="1.0" fill="#a6a6a6" opacity="0.8"/>
<rect x="99.5" y="59.7" width="1.0" height="1.0" fill="#acacac" opacity="0.8"/>
<rect x="96.4" y="54.9" width="1.0" height="1.0" fill="#acacac" opacity="0.8"/>
<rect x="103.6" y="53.4" width="1.0" height="1.0" fill="#bababa" opacity="0.8"/>
<rect x="97.6" y="58.2" width="1.0" height="1.0" fill="#b0b0b0" opacity="0.8"/>
<rect x="103.1" y="58.4" width="1.0" height="1.0" fill="#a6a6a6" opacity="0.8"/>
<rect x="98.0" y="60.4" width="1.0" height="1.0" fill="#bababa" opacity="0.8"/>
<rect x="105.1" y="50.0" width="1.0" height="1.0" fill="#a6a6a6" opacity="0.8"/>
<rect x="97.0" y="55.3" width="1.0" height="1.0" fill="#bababa" opacity="0.8"/>
<rect x="93.6" y="57.3" width="1.0" height="1.0" fill="#c4c4c4" opacity="0.8"/>
<rect x="97.4" y="57.9" width="1.0" height="1.0" fill="#acacac" opacity="0.8"/>
<rect x="100.8" y="59.6" width="1.0" height="1.0" fill="#a6a6a6" opacity="0.8"/>
<rect x="103.8" y="54.8" width="1.0" height="1.0" fill="#bababa" opacity="0.8"/>
<rect x="102.0" y="56.4" width="1.0" height="1.0" fill="#b0b0b0" opacity="0.8"/>
<rect x="95.4" y="59.7" width="1.0" height="1.0" fill="#b0b0b0" opacity="0.8"/>
<rect x="101.5" y="58.9" width="1.0" height="1.0" fill="#acacac" opacity="0.8"/>
<rect x="98.6" y="57.0" width="1.0" height="1.0" fill="#b0b0b0" opacity="0.8"/>
<rect x="95.4" y="55.2" width="1.0" height="1.0" fill="#a6a6a6" opacity="0.8"/>
<rect x="90.3" y="56.7" width="1.0" height="1.0" fill="#bababa" opacity="0.8"/>
<rect x="95.8" y="59.5" width="1.0" height="1.0" fill="#a6a6a6" opacity="0.8"/>
<rect x="106.0" y="52.9" width="1.0" height="1.0" fill="#b0b0b0" opacity="0.9"/>
<rect x="113.8" y="48.2" width="1.0" height="1.0" fill="#999" opacity="0.9"/>
<rect x="123.3" y="44.8" width="1.0" height="1.0" fill="#b0b0b0" opacity="0.9"/>
<rect x="109.0" y="56.8" width="1.0" height="1.0" fill="#888" opacity="0.9"/>
<rect x="100.4" y="55.2" width="1.0" height="1.0" fill="#999" opacity="0.9"/>
<rect x="109.6" y="50.7" width="1.0" height="1.0" fill="#b0b0b0" opacity="0.9"/>
<rect x="120.4" y="46.7" width="1.0" height="1.0" fill="#a5a5a5" opacity="0.9"/>
<rect x="118.4" y="48.0" width="1.0" height="1.0" fill="#b0b0b0" opacity="0.9"/>
<rect x="120.7" y="47.0" width="1.0" height="1.0" fill="#b0b0b0" opacity="0.9"/>
<rect x="104.6" y="54.6" width="1.0" height="1.0" fill="#888" opacity="0.9"/>
<rect x="108.3" y="52.4" width="1.0" height="1.0" fill="#a5a5a5" opacity="0.9"/>
<rect x="117.5" y="48.8" width="1.0" height="1.0" fill="#b0b0b0" opacity="0.9"/>
<rect x="120.7" y="45.3" width="1.0" height="1.0" fill="#a5a5a5" opacity="0.9"/>
<rect x="117.4" y="47.6" width="1.0" height="1.0" fill="#888" opacity="0.9"/>
<rect x="109.3" y="52.6" width="1.0" height="1.0" fill="#999" opacity="0.9"/>
<rect x="122.4" y="42.4" width="1.0" height="1.0" fill="#b0b0b0" opacity="0.9"/>
<rect x="110.3" y="55.3" width="1.0" height="1.0" fill="#b0b0b0" opacity="0.9"/>
<rect x="112.8" y="50.1" width="1.0" height="1.0" fill="#888" opacity="0.9"/>
<rect x="111.9" y="48.7" width="1.0" height="1.0" fill="#a5a5a5" opacity="0.9"/>
<rect x="117.7" y="47.1" width="1.0" height="1.0" fill="#999" opacity="0.9"/>
<rect x="107.1" y="54.7" width="1.0" height="1.0" fill="#999" opacity="0.9"/>
<rect x="110.6" y="52.1" width="1.0" height="1.0" fill="#888" opacity="0.9"/>
<rect x="106.0" y="54.3" width="1.0" height="1.0" fill="#888" opacity="0.9"/>
<rect x="120.1" y="47.4" width="1.0" height="1.0" fill="#a5a5a5" opacity="0.9"/>
<rect x="109.3" y="53.3" width="1.0" height="1.0" fill="#888" opacity="0.9"/>
<rect x="121.2" y="42.3" width="1.0" height="1.0" fill="#b0b0b0" opacity="0.9"/>
<rect x="105.8" y="55.8" width="1.0" height="1.0" fill="#888" opacity="0.9"/>
<rect x="124.6" y="42.4" width="1.0" height="1.0" fill="#888" opacity="0.9"/>
<rect x="119.2" y="44.5" width="1.0" height="1.0" fill="#888" opacity="0.9"/>
<rect x="106.7" y="52.6" width="1.0" height="1.0" fill="#a5a5a5" opacity="0.9"/>
<rect x="109.6" y="52.3" width="1.0" height="1.0" fill="#a5a5a5" opacity="0.9"/>
<rect x="124.5" y="44.7" width="1.0" height="1.0" fill="#a5a5a5" opacity="0.9"/>
<rect x="117.5" y="45.1" width="1.0" height="1.0" fill="#a5a5a5" opacity="0.9"/>
<rect x="117.4" y="48.5" width="1.0" height="1.0" fill="#b0b0b0" opacity="0.9"/>
<rect x="115.2" y="50.5" width="1.0" height="1.0" fill="#888" opacity="0.9"/>
<rect x="114.9" y="52.2" width="1.0" height="1.0" fill="#888" opacity="0.9"/>
<rect x="114.6" y="50.3" width="1.0" height="1.0" fill="#999" opacity="0.9"/>
<rect x="109.3" y="52.1" width="1.0" height="1.0" fill="#a5a5a5" opacity="0.9"/>
<rect x="110.6" y="50.0" width="1.0" height="1.0" fill="#999" opacity="0.9"/>
<rect x="119.7" y="41.4" width="1.0" height="1.0" fill="#a5a5a5" opacity="0.9"/>
<rect x="116.6" y="51.0" width="1.0" height="1.0" fill="#999" opacity="0.9"/>
<rect x="115.1" y="51.1" width="1.0" height="1.0" fill="#888" opacity="0.9"/>
<rect x="115.2" y="49.8" width="1.0" height="1.0" fill="#888" opacity="0.9"/>
<rect x="115.1" y="49.2" width="1.0" height="1.0" fill="#b0b0b0" opacity="0.9"/>
<rect x="121.3" y="42.9" width="1.0" height="1.0" fill="#888" opacity="0.9"/>
<rect x="110.4" y="53.0" width="1.0" height="1.0" fill="#999" opacity="0.9"/>
<rect x="111.9" y="50.7" width="1.0" height="1.0" fill="#b0b0b0" opacity="0.9"/>
<rect x="104.1" y="53.5" width="1.0" height="1.0" fill="#888" opacity="0.9"/>
<rect x="110.1" y="52.6" width="1.0" height="1.0" fill="#b0b0b0" opacity="0.9"/>
<rect x="116.7" y="46.6" width="1.0" height="1.0" fill="#b0b0b0" opacity="0.9"/>
<rect x="117.2" y="48.3" width="1.0" height="1.0" fill="#a5a5a5" opacity="0.9"/>
<rect x="113.6" y="49.5" width="1.0" height="1.0" fill="#999" opacity="0.9"/>
<rect x="108.9" y="50.1" width="1.0" height="1.0" fill="#999" opacity="0.9"/>
<rect x="120.3" y="46.4" width="1.0" height="1.0" fill="#a5a5a5" opacity="0.9"/>
<rect x="106.3" y="55.2" width="1.0" height="1.0" fill="#888" opacity="0.9"/>
<rect x="106.3" y="53.4" width="1.0" height="1.0" fill="#999" opacity="0.9"/>
<rect x="123.9" y="40.9" width="1.0" height="1.0" fill="#b0b0b0" opacity="0.9"/>
<rect x="111.5" y="54.9" width="1.0" height="1.0" fill="#a5a5a5" opacity="0.9"/>
<rect x="107.3" y="54.0" width="1.0" height="1.0" fill="#b0b0b0" opacity="0.9"/>
<rect x="119.6" y="45.4" width="1.0" height="1.0" fill="#a5a5a5" opacity="0.9"/>
<rect x="114.0" y="51.8" width="1.0" height="1.0" fill="#b0b0b0" opacity="0.9"/>
<rect x="103.8" y="59.4" width="1.0" height="1.0" fill="#b0b0b0" opacity="0.9"/>
<rect x="119.3" y="43.2" width="1.0" height="1.0" fill="#999" opacity="0.9"/>
<rect x="116.1" y="46.0" width="1.0" height="1.0" fill="#a5a5a5" opacity="0.9"/>
<rect x="107.7" y="50.0" width="1.0" height="1.0" fill="#999" opacity="0.9"/>
<rect x="118.7" y="43.9" width="1.0" height="1.0" fill="#a5a5a5" opacity="0.9"/>
<rect x="120.2" y="45.1" width="1.0" height="1.0" fill="#b0b0b0" opacity="0.9"/>
<rect x="112.3" y="46.9" width="1.0" height="1.0" fill="#a5a5a5" opacity="0.9"/>
<rect x="117.7" y="47.1" width="1.0" height="1.0" fill="#888" opacity="0.9"/>
<rect x="103.4" y="55.7" width="1.0" height="1.0" fill="#999" opacity="0.9"/>
<rect x="115.5" y="50.7" width="1.0" height="1.0" fill="#999" opacity="0.9"/>
<rect x="115.7" y="46.7" width="1.0" height="1.0" fill="#a5a5a5" opacity="0.9"/>
<rect x="110.9" y="51.4" width="1.0" height="1.0" fill="#999" opacity="0.9"/>
<rect x="124.0" y="44.8" width="1.0" height="1.0" fill="#888" opacity="0.9"/>
<rect x="116.5" y="45.3" width="1.0" height="1.0" fill="#a5a5a5" opacity="0.9"/>
<rect x="108.8" y="52.9" width="1.0" height="1.0" fill="#b0b0b0" opacity="0.9"/>
<rect x="120.3" y="42.5" width="1.0" height="1.0" fill="#a5a5a5" opacity="0.9"/>
<rect x="105.2" y="56.5" width="1.0" height="1.0" fill="#999" opacity="0.9"/>
<rect x="125.0" y="42.7" width="1.0" height="1.0" fill="#999" opacity="0.9"/>
<rect x="106.5" y="52.1" width="1.0" height="1.0" fill="#999" opacity="0.9"/>
<rect x="111.9" y="49.8" width="1.0" height="1.0" fill="#999" opacity="0.9"/>
<rect x="108.8" y="49.6" width="1.0" height="1.0" fill="#b0b0b0" opacity="0.9"/>
<rect x="112.3" y="52.0" width="1.0" height="1.0" fill="#999" opacity="0.9"/>
<rect x="116.5" y="46.5" width="1.0" height="1.0" fill="#999" opacity="0.9"/>
<rect x="108.0" y="53.7" width="1.0" height="1.0" fill="#b0b0b0" opacity="0.9"/>
<rect x="114.4" y="47.6" width="1.0" height="1.0" fill="#a5a5a5" opacity="0.9"/>
<rect x="109.9" y="50.6" width="1.0" height="1.0" fill="#b0b0b0" opacity="0.9"/>
<rect x="110.6" y="49.0" width="1.0" height="1.0" fill="#a5a5a5" opacity="0.9"/>
<rect x="106.1" y="55.8" width="1.0" height="1.0" fill="#888" opacity="0.9"/>
<rect x="122.2" y="43.9" width="1.0" height="1.0" fill="#999" opacity="0.9"/>
<rect x="113.0" y="51.0" width="1.0" height="1.0" fill="#888" opacity="0.9"/>
<rect x="108.8" y="54.2" width="1.0" height="1.0" fill="#888" opacity="0.9"/>
<rect x="115.7" y="47.9" width="1.0" height="1.0" fill="#b0b0b0" opacity="0.9"/>
<rect x="112.3" y="54.5" width="1.0" height="1.0" fill="#999" opacity="0.9"/>
<rect x="114.1" y="44.5" width="1.0" height="1.0" fill="#888" opacity="0.9"/>
<rect x="118.9" y="45.8" width="1.0" height="1.0" fill="#a5a5a5" opacity="0.9"/>
<rect x="106.8" y="52.1" width="1.0" height="1.0" fill="#b0b0b0" opacity="0.9"/>
<rect x="117.5" y="47.9" width="1.0" height="1.0" fill="#b0b0b0" opacity="0.9"/>
<rect x="109.3" y="54.7" width="1.0" height="1.0" fill="#888" opacity="0.9"/>
<rect x="115.1" y="48.7" width="1.0" height="1.0" fill="#999" opacity="0.9"/>
<rect x="110.6" y="49.0" width="1.0" height="1.0" fill="#888" opacity="0.9"/>
<rect x="105.7" y="56.4" width="1.0" height="1.0" fill="#b0b0b0" opacity="0.9"/>
<rect x="117.6" y="46.3" width="1.0" height="1.0" fill="#b0b0b0" opacity="0.9"/>
<rect x="123.1" y="42.2" width="1.0" height="1.0" fill="#a5a5a5" opacity="0.9"/>
<rect x="118.2" y="48.3" width="1.0" height="1.0" fill="#a5a5a5" opacity="0.9"/>
<rect x="121.1" y="46.5" width="1.0" height="1.0" fill="#999" opacity="0.9"/>
<rect x="103.8" y="54.0" width="1.0" height="1.0" fill="#a5a5a5" opacity="0.9"/>
<rect x="104.6" y="54.1" width="1.0" height="1.0" fill="#999" opacity="0.9"/>
<rect x="108.6" y="53.6" width="1.0" height="1.0" fill="#888" opacity="0.9"/>
<rect x="119.3" y="48.1" width="1.0" height="1.0" fill="#b0b0b0" opacity="0.9"/>
<rect x="113.2" y="51.7" width="1.0" height="1.0" fill="#a5a5a5" opacity="0.9"/>
<rect x="121.5" y="41.1" width="1.0" height="1.0" fill="#a5a5a5" opacity="0.9"/>
<rect x="107.2" y="53.1" width="1.0" height="1.0" fill="#888" opacity="0.9"/>
<rect x="121.5" y="46.5" width="1.0" height="1.0" fill="#b0b0b0" opacity="0.9"/>
<rect x="115.6" y="49.5" width="1.0" height="1.0" fill="#888" opacity="0.9"/>
<rect x="105.2" y="54.3" width="1.0" height="1.0" fill="#888" opacity="0.9"/>
<rect x="121.0" y="44.7" width="1.0" height="1.0" fill="#999" opacity="0.9"/>
<rect x="115.4" y="46.1" width="1.0" height="1.0" fill="#888" opacity="0.9"/>
<rect x="106.9" y="52.2" width="1.0" height="1.0" fill="#999" opacity="0.9"/>
<rect x="105.7" y="55.5" width="1.0" height="1.0" fill="#888" opacity="0.9"/>
<rect x="121.0" y="43.0" width="1.0" height="1.0" fill="#999" opacity="0.9"/>
<rect x="118.2" y="45.4" width="1.0" height="1.0" fill="#a5a5a5" opacity="0.9"/>
<rect x="107.5" y="54.1" width="1.0" height="1.0" fill="#888" opacity="0.9"/>
<rect x="110.7" y="49.4" width="1.0" height="1.0" fill="#b0b0b0" opacity="0.9"/>
<rect x="116.4" y="47.9" width="1.0" height="1.0" fill="#888" opacity="0.9"/>
<rect x="113.2" y="44.7" width="1.0" height="1.0" fill="#999" opacity="0.9"/>
<rect x="112.4" y="50.4" width="1.0" height="1.0" fill="#b0b0b0" opacity="0.9"/>
<rect x="107.9" y="53.9" width="1.0" height="1.0" fill="#888" opacity="0.9"/>
<rect x="101.5" y="52.5" width="1.0" height="1.0" fill="#888" opacity="0.9"/>
<rect x="109.1" y="54.7" width="1.0" height="1.0" fill="#a5a5a5" opacity="0.9"/>
<rect x="113.2" y="50.9" width="1.0" height="1.0" fill="#e2e2e2" opacity="1.0"/>
<rect x="113.0" y="47.9" width="1.0" height="1.0" fill="#e2e2e2" opacity="1.0"/>
<rect x="116.8" y="48.1" width="1.0" height="1.0" fill="#e8e8e8" opacity="1.0"/>
<rect x="111.0" y="47.4" width="1.0" height="1.0" fill="#dcdcdc" opacity="1.0"/>
<rect x="113.5" y="46.1" width="1.0" height="1.0" fill="#dcdcdc" opacity="1.0"/>
<rect x="106.2" y="52.8" width="1.0" height="1.0" fill="#e8e8e8" opacity="1.0"/>
<rect x="108.3" y="53.7" width="1.0" height="1.0" fill="#e8e8e8" opacity="1.0"/>
<rect x="112.9" y="55.0" width="1.0" height="1.0" fill="#dcdcdc" opacity="1.0"/>
<rect x="104.7" y="45.9" width="1.0" height="1.0" fill="#e8e8e8" opacity="1.0"/>
<rect x="109.7" y="45.0" width="1.0" height="1.0" fill="#d4d4d4" opacity="1.0"/>
<rect x="111.8" y="44.4" width="1.0" height="1.0" fill="#dcdcdc" opacity="1.0"/>
<rect x="108.3" y="42.5" width="1.0" height="1.0" fill="#d4d4d4" opacity="1.0"/>
<rect x="115.3" y="44.1" width="1.0" height="1.0" fill="#e2e2e2" opacity="1.0"/>
<rect x="110.0" y="50.1" width="1.0" height="1.0" fill="#e2e2e2" opacity="1.0"/>
<rect x="105.9" y="45.4" width="1.0" height="1.0" fill="#e2e2e2" opacity="1.0"/>
<rect x="114.4" y="45.4" width="1.0" height="1.0" fill="#d4d4d4" opacity="1.0"/>
<rect x="109.5" y="55.7" width="1.0" height="1.0" fill="#dcdcdc" opacity="1.0"/>
<rect x="110.1" y="54.8" width="1.0" height="1.0" fill="#e2e2e2" opacity="1.0"/>
<rect x="109.1" y="45.7" width="1.0" height="1.0" fill="#e8e8e8" opacity="1.0"/>
<rect x="110.3" y="51.3" width="1.0" height="1.0" fill="#e8e8e8" opacity="1.0"/>
<rect x="104.7" y="43.7" width="1.0" height="1.0" fill="#e2e2e2" opacity="1.0"/>
<rect x="109.3" y="50.8" width="1.0" height="1.0" fill="#e2e2e2" opacity="1.0"/>
<rect x="116.0" y="44.0" width="1.0" height="1.0" fill="#e8e8e8" opacity="1.0"/>
<rect x="113.5" y="51.2" width="1.0" height="1.0" fill="#dcdcdc" opacity="1.0"/>
<rect x="99.6" y="47.3" width="1.0" height="1.0" fill="#d4d4d4" opacity="1.0"/>
<ellipse cx="96.2" cy="58.699999999999996" rx="5.8" ry="3.3" fill="#262626" opacity="1" transform="rotate(-28 96.5 58.4)" filter="url(#blur1)"/>
<rect x="92.7" y="60.2" width="1.0" height="1.0" fill="#2a2a2a" opacity="0.7"/>
<rect x="96.6" y="58.4" width="1.0" height="1.0" fill="#555" opacity="0.7"/>
<rect x="96.2" y="60.3" width="1.0" height="1.0" fill="#3a3a3a" opacity="0.7"/>
<rect x="94.0" y="60.4" width="1.0" height="1.0" fill="#2a2a2a" opacity="0.7"/>
<rect x="98.1" y="61.2" width="1.0" height="1.0" fill="#4a4a4a" opacity="0.7"/>
<rect x="95.4" y="58.9" width="1.0" height="1.0" fill="#555" opacity="0.7"/>
<rect x="95.0" y="58.6" width="1.0" height="1.0" fill="#3a3a3a" opacity="0.7"/>
<rect x="93.6" y="58.3" width="1.0" height="1.0" fill="#222" opacity="0.7"/>
<rect x="94.9" y="58.0" width="1.0" height="1.0" fill="#2a2a2a" opacity="0.7"/>
<rect x="101.1" y="54.7" width="1.0" height="1.0" fill="#4a4a4a" opacity="0.7"/>
<rect x="94.2" y="58.3" width="1.0" height="1.0" fill="#3a3a3a" opacity="0.7"/>
<rect x="91.3" y="62.7" width="1.0" height="1.0" fill="#222" opacity="0.7"/>
<rect x="96.8" y="52.8" width="1.0" height="1.0" fill="#3a3a3a" opacity="0.7"/>
<rect x="96.7" y="56.0" width="1.0" height="1.0" fill="#2a2a2a" opacity="0.7"/>
<rect x="95.7" y="58.4" width="1.0" height="1.0" fill="#1a1a1a" opacity="0.7"/>
<rect x="90.5" y="59.7" width="1.0" height="1.0" fill="#4a4a4a" opacity="0.7"/>
<rect x="91.1" y="61.0" width="1.0" height="1.0" fill="#1a1a1a" opacity="0.7"/>
<rect x="97.5" y="54.9" width="1.0" height="1.0" fill="#1a1a1a" opacity="0.7"/>
<rect x="95.3" y="57.5" width="1.0" height="1.0" fill="#3a3a3a" opacity="0.7"/>
<rect x="92.1" y="59.0" width="1.0" height="1.0" fill="#555" opacity="0.7"/>
<rect x="94.3" y="58.8" width="1.0" height="1.0" fill="#2a2a2a" opacity="0.7"/>
<rect x="95.1" y="59.4" width="1.0" height="1.0" fill="#555" opacity="0.7"/>
<rect x="96.4" y="58.2" width="1.0" height="1.0" fill="#3a3a3a" opacity="0.7"/>
<rect x="96.7" y="57.2" width="1.0" height="1.0" fill="#222" opacity="0.7"/>
<rect x="99.2" y="54.0" width="1.0" height="1.0" fill="#1a1a1a" opacity="0.7"/>
<rect x="96.9" y="59.8" width="1.0" height="1.0" fill="#555" opacity="0.7"/>
<rect x="89.5" y="57.1" width="1.0" height="1.0" fill="#1a1a1a" opacity="0.7"/>
<rect x="98.3" y="57.6" width="1.0" height="1.0" fill="#1a1a1a" opacity="0.7"/>
<rect x="99.2" y="55.0" width="1.0" height="1.0" fill="#3a3a3a" opacity="0.7"/>
<rect x="93.1" y="58.4" width="1.0" height="1.0" fill="#555" opacity="0.7"/>
<rect x="98.3" y="57.7" width="1.0" height="1.0" fill="#3a3a3a" opacity="0.7"/>
<rect x="94.6" y="59.9" width="1.0" height="1.0" fill="#4a4a4a" opacity="0.7"/>
<rect x="97.5" y="58.3" width="1.0" height="1.0" fill="#2a2a2a" opacity="0.7"/>
<rect x="99.8" y="53.6" width="1.0" height="1.0" fill="#4a4a4a" opacity="0.7"/>
<rect x="95.1" y="57.2" width="1.0" height="1.0" fill="#1a1a1a" opacity="0.7"/>
<rect x="100.1" y="58.7" width="1.0" height="1.0" fill="#1a1a1a" opacity="0.7"/>
<rect x="100.1" y="54.0" width="1.0" height="1.0" fill="#555" opacity="0.7"/>
<rect x="98.5" y="58.1" width="1.0" height="1.0" fill="#1a1a1a" opacity="0.7"/>
<rect x="97.9" y="55.9" width="1.0" height="1.0" fill="#1a1a1a" opacity="0.7"/>
<rect x="93.4" y="57.9" width="1.0" height="1.0" fill="#3a3a3a" opacity="0.7"/>
<rect x="95.7" y="59.3" width="1.0" height="1.0" fill="#1a1a1a" opacity="0.7"/>
<rect x="94.7" y="57.9" width="1.0" height="1.0" fill="#2a2a2a" opacity="0.7"/>
<rect x="95.3" y="57.1" width="1.0" height="1.0" fill="#4a4a4a" opacity="0.7"/>
<rect x="94.5" y="58.4" width="1.0" height="1.0" fill="#2a2a2a" opacity="0.7"/>
<rect x="96.6" y="59.6" width="1.0" height="1.0" fill="#2a2a2a" opacity="0.7"/>
<rect x="99.5" y="56.3" width="1.0" height="1.0" fill="#3a3a3a" opacity="0.7"/>
<rect x="95.6" y="59.1" width="1.0" height="1.0" fill="#4a4a4a" opacity="0.7"/>
<rect x="98.8" y="57.6" width="1.0" height="1.0" fill="#4a4a4a" opacity="0.7"/>
<rect x="103.0" y="57.4" width="1.0" height="1.0" fill="#1a1a1a" opacity="0.7"/>
<rect x="91.8" y="57.8" width="1.0" height="1.0" fill="#2a2a2a" opacity="0.7"/>
<rect x="90.8" y="59.5" width="1.0" height="1.0" fill="#1a1a1a" opacity="0.7"/>
<rect x="96.5" y="58.9" width="1.0" height="1.0" fill="#3a3a3a" opacity="0.7"/>
<rect x="94.4" y="59.4" width="1.0" height="1.0" fill="#2a2a2a" opacity="0.7"/>
<rect x="96.9" y="57.0" width="1.0" height="1.0" fill="#3a3a3a" opacity="0.7"/>
<rect x="94.9" y="59.1" width="1.0" height="1.0" fill="#555" opacity="0.7"/>
<rect x="97.4" y="57.0" width="1.0" height="1.0" fill="#555" opacity="0.7"/>
<rect x="100.8" y="55.5" width="1.0" height="1.0" fill="#3a3a3a" opacity="0.7"/>
<rect x="93.1" y="59.4" width="1.0" height="1.0" fill="#222" opacity="0.7"/>
<rect x="96.2" y="59.6" width="1.0" height="1.0" fill="#1a1a1a" opacity="0.7"/>
<rect x="97.2" y="56.5" width="1.0" height="1.0" fill="#222" opacity="0.7"/>
<rect x="99.6" y="59.3" width="1.0" height="1.0" fill="#222" opacity="0.7"/>
<rect x="95.2" y="55.3" width="1.0" height="1.0" fill="#2a2a2a" opacity="0.7"/>
<rect x="91.1" y="58.5" width="1.0" height="1.0" fill="#222" opacity="0.7"/>
<rect x="94.0" y="55.7" width="1.0" height="1.0" fill="#2a2a2a" opacity="0.7"/>
<rect x="98.1" y="59.3" width="1.0" height="1.0" fill="#555" opacity="0.7"/>
<rect x="94.4" y="57.9" width="1.0" height="1.0" fill="#3a3a3a" opacity="0.7"/>
<rect x="96.6" y="58.3" width="1.0" height="1.0" fill="#555" opacity="0.7"/>
<rect x="90.9" y="60.4" width="1.0" height="1.0" fill="#1a1a1a" opacity="0.7"/>
<rect x="93.5" y="59.1" width="1.0" height="1.0" fill="#3a3a3a" opacity="0.7"/>
<rect x="97.4" y="53.8" width="1.0" height="1.0" fill="#4a4a4a" opacity="0.7"/>
<rect x="98.7" y="57.4" width="1.0" height="1.0" fill="#4a4a4a" opacity="0.7"/>
<rect x="99.5" y="58.0" width="1.0" height="1.0" fill="#2a2a2a" opacity="0.7"/>
<rect x="99.4" y="59.4" width="1.0" height="1.0" fill="#3a3a3a" opacity="0.7"/>
<rect x="100.2" y="56.2" width="1.0" height="1.0" fill="#222" opacity="0.7"/>
<rect x="95.7" y="57.9" width="1.0" height="1.0" fill="#222" opacity="0.7"/>
<rect x="101.3" y="52.7" width="1.0" height="1.0" fill="#1a1a1a" opacity="0.7"/>
<rect x="99.9" y="57.8" width="1.0" height="1.0" fill="#3a3a3a" opacity="0.7"/>
<rect x="95.3" y="54.4" width="1.0" height="1.0" fill="#222" opacity="0.7"/>
<rect x="95.7" y="57.4" width="1.0" height="1.0" fill="#1a1a1a" opacity="0.7"/>
<rect x="98.6" y="55.7" width="1.0" height="1.0" fill="#222" opacity="0.7"/>
<rect x="100.9" y="55.7" width="1.0" height="1.0" fill="#2a2a2a" opacity="0.7"/>
<rect x="103.0" y="54.5" width="1.0" height="1.0" fill="#2a2a2a" opacity="0.7"/>
<rect x="94.5" y="58.0" width="1.0" height="1.0" fill="#3a3a3a" opacity="0.7"/>
<rect x="97.6" y="60.6" width="1.0" height="1.0" fill="#1a1a1a" opacity="0.7"/>
<rect x="102.1" y="54.9" width="1.0" height="1.0" fill="#555" opacity="0.7"/>
<rect x="96.3" y="58.1" width="1.0" height="1.0" fill="#222" opacity="0.7"/>
<rect x="93.4" y="57.7" width="1.0" height="1.0" fill="#2a2a2a" opacity="0.7"/>
<rect x="95.3" y="57.4" width="1.0" height="1.0" fill="#1a1a1a" opacity="0.7"/>
<rect x="95.6" y="57.6" width="1.0" height="1.0" fill="#1a1a1a" opacity="0.7"/>
<rect x="92.9" y="60.3" width="1.0" height="1.0" fill="#3a3a3a" opacity="0.7"/>
<rect x="97.3" y="57.8" width="1.0" height="1.0" fill="#2a2a2a" opacity="0.7"/>
<rect x="94.0" y="58.7" width="1.0" height="1.0" fill="#2a2a2a" opacity="0.7"/>
<rect x="98.9" y="58.3" width="1.0" height="1.0" fill="#555" opacity="0.7"/>
<rect x="92.2" y="63.0" width="1.0" height="1.0" fill="#1a1a1a" opacity="0.7"/>
<rect x="98.1" y="56.0" width="1.0" height="1.0" fill="#4a4a4a" opacity="0.7"/>
<rect x="92.4" y="58.4" width="1.0" height="1.0" fill="#1a1a1a" opacity="0.7"/>
<rect x="92.3" y="62.9" width="1.0" height="1.0" fill="#3a3a3a" opacity="0.7"/>
<rect x="95.5" y="59.4" width="1.0" height="1.0" fill="#3a3a3a" opacity="0.7"/>
<rect x="93.3" y="55.8" width="1.0" height="1.0" fill="#222" opacity="0.7"/>
<rect x="96.2" y="53.7" width="1.0" height="1.0" fill="#4a4a4a" opacity="0.7"/>
</g>
<rect x="87.2" y="16.8" width="46.1" height="48.5" fill="none" stroke="#a2a2a2" stroke-width="0.85"/>
<line x1="108.7" y1="16.8" x2="108.7" y2="65.3" stroke="#999" stroke-width="0.85"/>
<line x1="87.2" y1="40.4" x2="133.3" y2="40.4" stroke="#999" stroke-width="0.85"/>
<text x="116.2" y="62.6" font-size="6.3" font-weight="bold" text-anchor="start" fill="#111" textLength="16.7" lengthAdjust="spacingAndGlyphs" stroke="#111" stroke-width="0.18">19.2%</text>
<rect x="32.5" y="82.3" width="47.8" height="48.0" fill="#fff" stroke="none" stroke-width="1"/>
<circle cx="30.5" cy="94.3" r="0.5" fill="#aaa"/>
<circle cx="30.5" cy="106.3" r="0.5" fill="#aaa"/>
<circle cx="30.5" cy="118.3" r="0.5" fill="#aaa"/>
<path d="M31.7 134.0L33.0 132.8M33.3 131.9L33.8 131.5" stroke="#9a9a9a" stroke-width="0.7" fill="none"/>
<path d="M43.2 134.0L44.5 132.8M44.8 131.9L45.3 131.5" stroke="#9a9a9a" stroke-width="0.7" fill="none"/>
<path d="M54.9 134.0L56.2 132.8M56.5 131.9L57.0 131.5" stroke="#9a9a9a" stroke-width="0.7" fill="none"/>
<path d="M66.4 134.0L67.7 132.8M68.0 131.9L68.5 131.5" stroke="#9a9a9a" stroke-width="0.7" fill="none"/>
<path d="M78.6 134.0L79.9 132.8M80.2 131.9L80.7 131.5" stroke="#9a9a9a" stroke-width="0.7" fill="none"/>
<path d="M54.8 134.9l1.2 0.6M55.1 136.3l1.6 -0.2l-0.3 1.2" stroke="#aaa" stroke-width="0.7" fill="none"/>
<text x="54.4" y="81" font-size="6.6" font-weight="bold" text-anchor="middle" fill="#111" textLength="17.3" lengthAdjust="spacingAndGlyphs" stroke="#111" stroke-width="0.18">50 nM</text>
<g filter="url(#soft)">
<rect x="72.0" y="86.6" width="1.0" height="1.0" fill="#e2e2e2" opacity="1.0"/>
<rect x="76.6" y="125.5" width="1.0" height="1.0" fill="#e2e2e2" opacity="1.0"/>
<rect x="73.0" y="113.5" width="1.0" height="1.0" fill="#dcdcdc" opacity="1.0"/>
<rect x="51.9" y="107.6" width="1.0" height="1.0" fill="#dcdcdc" opacity="1.0"/>
<rect x="50.3" y="93.1" width="1.0" height="1.0" fill="#dcdcdc" opacity="1.0"/>
<rect x="46.2" y="102.8" width="1.0" height="1.0" fill="#e8e8e8" opacity="1.0"/>
<rect x="69.1" y="125.6" width="1.0" height="1.0" fill="#dcdcdc" opacity="1.0"/>
<rect x="70.4" y="123.3" width="1.0" height="1.0" fill="#dcdcdc" opacity="1.0"/>
<rect x="38.2" y="112.5" width="1.0" height="1.0" fill="#d4d4d4" opacity="1.0"/>
<rect x="75.0" y="111.7" width="1.0" height="1.0" fill="#dcdcdc" opacity="1.0"/>
<rect x="62.6" y="95.3" width="1.0" height="1.0" fill="#dcdcdc" opacity="1.0"/>
<rect x="54.8" y="126.2" width="1.0" height="1.0" fill="#d4d4d4" opacity="1.0"/>
<rect x="41.5" y="99.5" width="1.0" height="1.0" fill="#e2e2e2" opacity="1.0"/>
<rect x="41.8" y="110.4" width="1.0" height="1.0" fill="#d4d4d4" opacity="1.0"/>
<rect x="40.3" y="110.3" width="1.0" height="1.0" fill="#e2e2e2" opacity="1.0"/>
<rect x="55.1" y="106.8" width="1.0" height="1.0" fill="#d4d4d4" opacity="1.0"/>
<rect x="74.9" y="109.7" width="1.0" height="1.0" fill="#d4d4d4" opacity="1.0"/>
<rect x="46.9" y="88.1" width="1.0" height="1.0" fill="#d4d4d4" opacity="1.0"/>
<rect x="71.7" y="111.1" width="1.0" height="1.0" fill="#e2e2e2" opacity="1.0"/>
<rect x="63.8" y="93.1" width="1.0" height="1.0" fill="#d4d4d4" opacity="1.0"/>
<rect x="55.9" y="108.4" width="1.0" height="1.0" fill="#e8e8e8" opacity="1.0"/>
<rect x="56.3" y="97.9" width="1.0" height="1.0" fill="#e2e2e2" opacity="1.0"/>
<rect x="50.7" y="92.5" width="1.0" height="1.0" fill="#e8e8e8" opacity="1.0"/>
<rect x="77.1" y="101.7" width="1.0" height="1.0" fill="#d4d4d4" opacity="1.0"/>
<rect x="43.5" y="126.2" width="1.0" height="1.0" fill="#d4d4d4" opacity="1.0"/>
<rect x="59.9" y="105.9" width="1.0" height="1.0" fill="#d4d4d4" opacity="1.0"/>
<rect x="73.3" y="93.7" width="1.0" height="1.0" fill="#dcdcdc" opacity="1.0"/>
<rect x="68.9" y="91.2" width="1.0" height="1.0" fill="#dcdcdc" opacity="1.0"/>
<rect x="62.0" y="99.6" width="1.0" height="1.0" fill="#dcdcdc" opacity="1.0"/>
<rect x="58.3" y="121.0" width="1.0" height="1.0" fill="#d4d4d4" opacity="1.0"/>
<rect x="67.4" y="89.0" width="1.0" height="1.0" fill="#e2e2e2" opacity="1.0"/>
<rect x="77.9" y="114.1" width="1.0" height="1.0" fill="#e2e2e2" opacity="1.0"/>
<rect x="54.1" y="113.7" width="1.0" height="1.0" fill="#e2e2e2" opacity="1.0"/>
<rect x="64.9" y="111.4" width="1.0" height="1.0" fill="#d4d4d4" opacity="1.0"/>
<rect x="70.9" y="107.1" width="1.0" height="1.0" fill="#e8e8e8" opacity="1.0"/>
<rect x="48.0" y="112.1" width="1.0" height="1.0" fill="#e2e2e2" opacity="1.0"/>
<rect x="54.0" y="88.8" width="1.0" height="1.0" fill="#e8e8e8" opacity="1.0"/>
<rect x="68.6" y="110.1" width="1.0" height="1.0" fill="#e8e8e8" opacity="1.0"/>
<rect x="53.3" y="128.0" width="1.0" height="1.0" fill="#e2e2e2" opacity="1.0"/>
<rect x="54.2" y="118.8" width="1.0" height="1.0" fill="#dcdcdc" opacity="1.0"/>
<rect x="52.6" y="104.2" width="1.0" height="1.0" fill="#e8e8e8" opacity="1.0"/>
<rect x="48.8" y="99.8" width="1.0" height="1.0" fill="#d4d4d4" opacity="1.0"/>
<rect x="53.0" y="108.7" width="1.0" height="1.0" fill="#e8e8e8" opacity="1.0"/>
<rect x="63.7" y="84.5" width="1.0" height="1.0" fill="#e8e8e8" opacity="1.0"/>
<rect x="52.6" y="97.4" width="1.0" height="1.0" fill="#d4d4d4" opacity="1.0"/>
<rect x="47.4" y="90.5" width="1.0" height="1.0" fill="#d8d8d8" opacity="1.0"/>
<rect x="45.6" y="92.9" width="1.0" height="1.0" fill="#d8d8d8" opacity="1.0"/>
<rect x="44.3" y="98.7" width="1.0" height="1.0" fill="#cfcfcf" opacity="1.0"/>
<rect x="48.1" y="93.0" width="1.0" height="1.0" fill="#d8d8d8" opacity="1.0"/>
<rect x="51.3" y="88.8" width="1.0" height="1.0" fill="#cfcfcf" opacity="1.0"/>
<rect x="49.6" y="94.6" width="1.0" height="1.0" fill="#d8d8d8" opacity="1.0"/>
<rect x="45.5" y="97.0" width="1.0" height="1.0" fill="#d8d8d8" opacity="1.0"/>
<rect x="37.8" y="90.9" width="1.0" height="1.0" fill="#c8c8c8" opacity="1.0"/>
<rect x="48.3" y="89.2" width="1.0" height="1.0" fill="#d8d8d8" opacity="1.0"/>
<rect x="44.7" y="95.3" width="1.0" height="1.0" fill="#c8c8c8" opacity="1.0"/>
<rect x="45.3" y="90.6" width="1.0" height="1.0" fill="#cfcfcf" opacity="1.0"/>
<rect x="45.1" y="90.2" width="1.0" height="1.0" fill="#cfcfcf" opacity="1.0"/>
<rect x="44.0" y="95.4" width="1.0" height="1.0" fill="#c8c8c8" opacity="1.0"/>
<rect x="43.5" y="92.0" width="1.0" height="1.0" fill="#cfcfcf" opacity="1.0"/>
<rect x="49.3" y="92.7" width="1.0" height="1.0" fill="#d8d8d8" opacity="1.0"/>
<rect x="47.1" y="87.1" width="1.0" height="1.0" fill="#c8c8c8" opacity="1.0"/>
<rect x="44.8" y="96.6" width="1.0" height="1.0" fill="#cfcfcf" opacity="1.0"/>
<rect x="47.5" y="95.8" width="1.0" height="1.0" fill="#cfcfcf" opacity="1.0"/>
<rect x="66.2" y="88.2" width="1.0" height="1.0" fill="#cfcfcf" opacity="1.0"/>
<rect x="63.1" y="89.7" width="1.0" height="1.0" fill="#d8d8d8" opacity="1.0"/>
<rect x="62.0" y="88.9" width="1.0" height="1.0" fill="#c8c8c8" opacity="1.0"/>
<rect x="66.2" y="100.7" width="1.0" height="1.0" fill="#d8d8d8" opacity="1.0"/>
<rect x="66.2" y="97.6" width="1.0" height="1.0" fill="#c8c8c8" opacity="1.0"/>
<rect x="67.6" y="95.7" width="1.0" height="1.0" fill="#c8c8c8" opacity="1.0"/>
<rect x="63.9" y="91.6" width="1.0" height="1.0" fill="#d8d8d8" opacity="1.0"/>
<rect x="64.7" y="92.5" width="1.0" height="1.0" fill="#c8c8c8" opacity="1.0"/>
<rect x="64.4" y="92.2" width="1.0" height="1.0" fill="#d8d8d8" opacity="1.0"/>
<rect x="63.4" y="93.6" width="1.0" height="1.0" fill="#cfcfcf" opacity="1.0"/>
<rect x="63.5" y="90.2" width="1.0" height="1.0" fill="#d8d8d8" opacity="1.0"/>
<rect x="65.0" y="87.4" width="1.0" height="1.0" fill="#c8c8c8" opacity="1.0"/>
<rect x="67.4" y="89.6" width="1.0" height="1.0" fill="#cfcfcf" opacity="1.0"/>
<rect x="61.7" y="90.6" width="1.0" height="1.0" fill="#cfcfcf" opacity="1.0"/>
<rect x="66.7" y="96.3" width="1.0" height="1.0" fill="#c8c8c8" opacity="1.0"/>
<rect x="65.6" y="93.6" width="1.0" height="1.0" fill="#cfcfcf" opacity="1.0"/>
<rect x="67.8" y="91.0" width="1.0" height="1.0" fill="#d8d8d8" opacity="1.0"/>
<rect x="60.4" y="87.8" width="1.0" height="1.0" fill="#cfcfcf" opacity="1.0"/>
<rect x="61.8" y="87.6" width="1.0" height="1.0" fill="#c8c8c8" opacity="1.0"/>
<rect x="62.4" y="98.2" width="1.0" height="1.0" fill="#d8d8d8" opacity="1.0"/>
<rect x="64.4" y="93.5" width="1.0" height="1.0" fill="#c8c8c8" opacity="1.0"/>
<ellipse cx="44.1" cy="120.4" rx="9.5" ry="4.6" fill="#b0b0b0" opacity="0.45" transform="rotate(-20 42.6 122.4)" filter="url(#blur1)"/>
<rect x="56.5" y="118.5" width="1.0" height="1.0" fill="#b0b0b0" opacity="0.8"/>
<rect x="42.6" y="122.1" width="1.0" height="1.0" fill="#e2e2e2" opacity="0.8"/>
<rect x="49.1" y="116.7" width="1.0" height="1.0" fill="#e2e2e2" opacity="0.8"/>
<rect x="49.3" y="117.3" width="1.0" height="1.0" fill="#acacac" opacity="0.8"/>
<rect x="58.4" y="115.4" width="1.0" height="1.0" fill="#bababa" opacity="0.8"/>
<rect x="42.7" y="126.1" width="1.0" height="1.0" fill="#d4d4d4" opacity="0.8"/>
<rect x="44.1" y="123.0" width="1.0" height="1.0" fill="#d4d4d4" opacity="0.8"/>
<rect x="47.1" y="117.0" width="1.0" height="1.0" fill="#e2e2e2" opacity="0.8"/>
<rect x="40.3" y="115.3" width="1.0" height="1.0" fill="#e2e2e2" opacity="0.8"/>
<rect x="43.2" y="125.7" width="1.0" height="1.0" fill="#d4d4d4" opacity="0.8"/>
<rect x="56.7" y="114.7" width="1.0" height="1.0" fill="#b0b0b0" opacity="0.8"/>
<rect x="48.6" y="119.8" width="1.0" height="1.0" fill="#bababa" opacity="0.8"/>
<rect x="56.9" y="114.0" width="1.0" height="1.0" fill="#e2e2e2" opacity="0.8"/>
<rect x="42.3" y="118.2" width="1.0" height="1.0" fill="#e8e8e8" opacity="0.8"/>
<rect x="47.8" y="114.5" width="1.0" height="1.0" fill="#b0b0b0" opacity="0.8"/>
<rect x="50.5" y="115.0" width="1.0" height="1.0" fill="#dcdcdc" opacity="0.8"/>
<rect x="39.4" y="118.7" width="1.0" height="1.0" fill="#d4d4d4" opacity="0.8"/>
<rect x="45.1" y="120.6" width="1.0" height="1.0" fill="#a6a6a6" opacity="0.8"/>
<rect x="45.1" y="118.7" width="1.0" height="1.0" fill="#bababa" opacity="0.8"/>
<rect x="45.9" y="119.6" width="1.0" height="1.0" fill="#acacac" opacity="0.8"/>
<rect x="46.0" y="124.6" width="1.0" height="1.0" fill="#bababa" opacity="0.8"/>
<rect x="38.7" y="118.8" width="1.0" height="1.0" fill="#acacac" opacity="0.8"/>
<rect x="48.9" y="119.4" width="1.0" height="1.0" fill="#e2e2e2" opacity="0.8"/>
<rect x="37.0" y="127.4" width="1.0" height="1.0" fill="#acacac" opacity="0.8"/>
<rect x="44.5" y="122.2" width="1.0" height="1.0" fill="#acacac" opacity="0.8"/>
<rect x="47.3" y="121.2" width="1.0" height="1.0" fill="#bababa" opacity="0.8"/>
<rect x="62.1" y="107.0" width="1.0" height="1.0" fill="#d4d4d4" opacity="0.8"/>
<rect x="39.9" y="117.9" width="1.0" height="1.0" fill="#acacac" opacity="0.8"/>
<rect x="40.4" y="122.1" width="1.0" height="1.0" fill="#bababa" opacity="0.8"/>
<rect x="46.7" y="116.0" width="1.0" height="1.0" fill="#e8e8e8" opacity="0.8"/>
<rect x="55.6" y="118.0" width="1.0" height="1.0" fill="#e2e2e2" opacity="0.8"/>
<rect x="54.3" y="115.6" width="1.0" height="1.0" fill="#bababa" opacity="0.8"/>
<rect x="44.1" y="121.7" width="1.0" height="1.0" fill="#b0b0b0" opacity="0.8"/>
<rect x="39.8" y="113.8" width="1.0" height="1.0" fill="#acacac" opacity="0.8"/>
<rect x="43.1" y="123.6" width="1.0" height="1.0" fill="#b0b0b0" opacity="0.8"/>
<rect x="57.6" y="116.8" width="1.0" height="1.0" fill="#e8e8e8" opacity="0.8"/>
<rect x="44.5" y="115.7" width="1.0" height="1.0" fill="#c4c4c4" opacity="0.8"/>
<rect x="49.6" y="117.9" width="1.0" height="1.0" fill="#e2e2e2" opacity="0.8"/>
<rect x="45.1" y="121.6" width="1.0" height="1.0" fill="#d4d4d4" opacity="0.8"/>
<rect x="44.5" y="110.5" width="1.0" height="1.0" fill="#bababa" opacity="0.8"/>
<rect x="48.1" y="115.9" width="1.0" height="1.0" fill="#dcdcdc" opacity="0.8"/>
<rect x="39.9" y="114.8" width="1.0" height="1.0" fill="#dcdcdc" opacity="0.8"/>
<rect x="46.0" y="117.1" width="1.0" height="1.0" fill="#d4d4d4" opacity="0.8"/>
<rect x="47.5" y="124.2" width="1.0" height="1.0" fill="#dcdcdc" opacity="0.8"/>
<rect x="46.9" y="116.3" width="1.0" height="1.0" fill="#c4c4c4" opacity="0.8"/>
<rect x="56.2" y="119.3" width="1.0" height="1.0" fill="#acacac" opacity="0.8"/>
<rect x="44.4" y="117.1" width="1.0" height="1.0" fill="#a6a6a6" opacity="0.8"/>
<rect x="39.7" y="117.4" width="1.0" height="1.0" fill="#c4c4c4" opacity="0.8"/>
<rect x="51.9" y="120.5" width="1.0" height="1.0" fill="#e8e8e8" opacity="0.8"/>
<rect x="43.7" y="123.3" width="1.0" height="1.0" fill="#bababa" opacity="0.8"/>
<rect x="41.0" y="118.3" width="1.0" height="1.0" fill="#d4d4d4" opacity="0.8"/>
<rect x="43.3" y="115.8" width="1.0" height="1.0" fill="#e2e2e2" opacity="0.8"/>
<rect x="40.2" y="115.4" width="1.0" height="1.0" fill="#a6a6a6" opacity="0.8"/>
<rect x="53.7" y="118.9" width="1.0" height="1.0" fill="#c4c4c4" opacity="0.8"/>
<rect x="53.0" y="110.6" width="1.0" height="1.0" fill="#a6a6a6" opacity="0.8"/>
<rect x="53.2" y="114.0" width="1.0" height="1.0" fill="#a6a6a6" opacity="0.8"/>
<rect x="45.3" y="115.4" width="1.0" height="1.0" fill="#dcdcdc" opacity="0.8"/>
<rect x="44.6" y="116.5" width="1.0" height="1.0" fill="#e2e2e2" opacity="0.8"/>
<rect x="52.9" y="115.0" width="1.0" height="1.0" fill="#acacac" opacity="0.8"/>
<rect x="45.1" y="119.5" width="1.0" height="1.0" fill="#e2e2e2" opacity="0.8"/>
<rect x="40.7" y="120.7" width="1.0" height="1.0" fill="#e8e8e8" opacity="0.8"/>
<rect x="42.1" y="112.0" width="1.0" height="1.0" fill="#d4d4d4" opacity="0.8"/>
<rect x="36.5" y="120.7" width="1.0" height="1.0" fill="#acacac" opacity="0.8"/>
<rect x="39.6" y="121.8" width="1.0" height="1.0" fill="#bababa" opacity="0.8"/>
<rect x="41.5" y="119.4" width="1.0" height="1.0" fill="#e8e8e8" opacity="0.8"/>
<rect x="46.1" y="122.2" width="1.0" height="1.0" fill="#acacac" opacity="0.8"/>
<rect x="40.7" y="118.7" width="1.0" height="1.0" fill="#a6a6a6" opacity="0.8"/>
<rect x="48.6" y="119.6" width="1.0" height="1.0" fill="#b0b0b0" opacity="0.8"/>
<rect x="47.5" y="120.1" width="1.0" height="1.0" fill="#bababa" opacity="0.8"/>
<rect x="41.3" y="115.3" width="1.0" height="1.0" fill="#d4d4d4" opacity="0.8"/>
<rect x="46.3" y="120.2" width="1.0" height="1.0" fill="#e8e8e8" opacity="0.8"/>
<rect x="43.4" y="116.7" width="1.0" height="1.0" fill="#dcdcdc" opacity="0.8"/>
<rect x="43.5" y="116.6" width="1.0" height="1.0" fill="#bababa" opacity="0.8"/>
<rect x="41.1" y="117.9" width="1.0" height="1.0" fill="#b0b0b0" opacity="0.8"/>
<rect x="35.4" y="119.6" width="1.0" height="1.0" fill="#bababa" opacity="0.8"/>
<rect x="43.0" y="116.7" width="1.0" height="1.0" fill="#d4d4d4" opacity="0.8"/>
<rect x="47.1" y="113.9" width="1.0" height="1.0" fill="#acacac" opacity="0.8"/>
<rect x="49.3" y="118.4" width="1.0" height="1.0" fill="#dcdcdc" opacity="0.8"/>
<rect x="43.5" y="118.6" width="1.0" height="1.0" fill="#c4c4c4" opacity="0.8"/>
<rect x="44.7" y="119.7" width="1.0" height="1.0" fill="#c4c4c4" opacity="0.8"/>
<rect x="42.7" y="119.4" width="1.0" height="1.0" fill="#dcdcdc" opacity="0.8"/>
<rect x="38.7" y="121.9" width="1.0" height="1.0" fill="#c4c4c4" opacity="0.8"/>
<rect x="46.6" y="118.6" width="1.0" height="1.0" fill="#a6a6a6" opacity="0.8"/>
<rect x="53.8" y="117.7" width="1.0" height="1.0" fill="#c4c4c4" opacity="0.8"/>
<rect x="51.0" y="118.5" width="1.0" height="1.0" fill="#e2e2e2" opacity="0.8"/>
<rect x="35.4" y="121.9" width="1.0" height="1.0" fill="#dcdcdc" opacity="0.8"/>
<rect x="57.9" y="113.7" width="1.0" height="1.0" fill="#c4c4c4" opacity="0.8"/>
<rect x="33.9" y="115.7" width="1.0" height="1.0" fill="#c4c4c4" opacity="0.8"/>
<rect x="65.1" y="113.2" width="1.0" height="1.0" fill="#a6a6a6" opacity="0.9"/>
<rect x="65.6" y="109.7" width="1.0" height="1.0" fill="#b0b0b0" opacity="0.9"/>
<rect x="65.2" y="107.2" width="1.0" height="1.0" fill="#b0b0b0" opacity="0.9"/>
<rect x="56.1" y="120.0" width="1.0" height="1.0" fill="#c4c4c4" opacity="0.9"/>
<rect x="60.1" y="119.3" width="1.0" height="1.0" fill="#bababa" opacity="0.9"/>
<rect x="59.6" y="120.8" width="1.0" height="1.0" fill="#bababa" opacity="0.9"/>
<rect x="59.5" y="119.2" width="1.0" height="1.0" fill="#acacac" opacity="0.9"/>
<rect x="68.0" y="108.0" width="1.0" height="1.0" fill="#acacac" opacity="0.9"/>
<rect x="66.0" y="111.1" width="1.0" height="1.0" fill="#a6a6a6" opacity="0.9"/>
<rect x="56.9" y="120.9" width="1.0" height="1.0" fill="#acacac" opacity="0.9"/>
<rect x="57.3" y="121.4" width="1.0" height="1.0" fill="#b0b0b0" opacity="0.9"/>
<rect x="57.6" y="119.3" width="1.0" height="1.0" fill="#c4c4c4" opacity="0.9"/>
<rect x="66.4" y="108.1" width="1.0" height="1.0" fill="#bababa" opacity="0.9"/>
<rect x="57.6" y="122.0" width="1.0" height="1.0" fill="#bababa" opacity="0.9"/>
<rect x="58.6" y="121.7" width="1.0" height="1.0" fill="#b0b0b0" opacity="0.9"/>
<rect x="67.2" y="109.3" width="1.0" height="1.0" fill="#acacac" opacity="0.9"/>
<rect x="64.8" y="108.8" width="1.0" height="1.0" fill="#acacac" opacity="0.9"/>
<rect x="55.6" y="122.3" width="1.0" height="1.0" fill="#c4c4c4" opacity="0.9"/>
<rect x="68.8" y="106.2" width="1.0" height="1.0" fill="#c4c4c4" opacity="0.9"/>
<rect x="63.2" y="112.5" width="1.0" height="1.0" fill="#bababa" opacity="0.9"/>
<rect x="62.5" y="114.4" width="1.0" height="1.0" fill="#bababa" opacity="0.9"/>
<rect x="60.7" y="114.3" width="1.0" height="1.0" fill="#bababa" opacity="0.9"/>
<rect x="60.5" y="112.7" width="1.0" height="1.0" fill="#b0b0b0" opacity="0.9"/>
<rect x="63.4" y="112.1" width="1.0" height="1.0" fill="#c4c4c4" opacity="0.9"/>
<rect x="58.8" y="116.2" width="1.0" height="1.0" fill="#c4c4c4" opacity="0.9"/>
<rect x="57.3" y="119.1" width="1.0" height="1.0" fill="#b0b0b0" opacity="0.9"/>
<rect x="58.4" y="118.8" width="1.0" height="1.0" fill="#a6a6a6" opacity="0.9"/>
<rect x="58.7" y="117.7" width="1.0" height="1.0" fill="#b0b0b0" opacity="0.9"/>
<rect x="61.9" y="115.5" width="1.0" height="1.0" fill="#c4c4c4" opacity="0.9"/>
<rect x="59.3" y="115.0" width="1.0" height="1.0" fill="#c4c4c4" opacity="0.9"/>
<rect x="64.9" y="107.5" width="1.0" height="1.0" fill="#a6a6a6" opacity="0.9"/>
<rect x="66.3" y="111.1" width="1.0" height="1.0" fill="#c4c4c4" opacity="0.9"/>
<rect x="64.3" y="110.9" width="1.0" height="1.0" fill="#c4c4c4" opacity="0.9"/>
<rect x="56.9" y="120.0" width="1.0" height="1.0" fill="#b0b0b0" opacity="0.9"/>
<rect x="68.0" y="108.7" width="1.0" height="1.0" fill="#a6a6a6" opacity="0.9"/>
<rect x="56.8" y="120.0" width="1.0" height="1.0" fill="#b0b0b0" opacity="0.9"/>
<rect x="57.3" y="122.2" width="1.0" height="1.0" fill="#b0b0b0" opacity="0.9"/>
<rect x="61.4" y="115.8" width="1.0" height="1.0" fill="#a6a6a6" opacity="0.9"/>
<rect x="64.1" y="111.9" width="1.0" height="1.0" fill="#bababa" opacity="0.9"/>
<rect x="57.2" y="118.9" width="1.0" height="1.0" fill="#a6a6a6" opacity="0.9"/>
<rect x="66.5" y="110.4" width="1.0" height="1.0" fill="#c4c4c4" opacity="0.9"/>
<rect x="67.3" y="107.5" width="1.0" height="1.0" fill="#c4c4c4" opacity="0.9"/>
<rect x="59.0" y="117.8" width="1.0" height="1.0" fill="#c4c4c4" opacity="0.9"/>
<rect x="57.9" y="120.0" width="1.0" height="1.0" fill="#bababa" opacity="0.9"/>
<rect x="59.5" y="116.8" width="1.0" height="1.0" fill="#c4c4c4" opacity="0.9"/>
<rect x="61.0" y="114.5" width="1.0" height="1.0" fill="#a6a6a6" opacity="0.9"/>
<rect x="66.0" y="111.4" width="1.0" height="1.0" fill="#bababa" opacity="0.9"/>
<rect x="65.3" y="107.1" width="1.0" height="1.0" fill="#c4c4c4" opacity="0.9"/>
<rect x="64.7" y="108.5" width="1.0" height="1.0" fill="#bababa" opacity="0.9"/>
<rect x="68.3" y="107.9" width="1.0" height="1.0" fill="#b0b0b0" opacity="0.9"/>
<rect x="61.1" y="115.0" width="1.0" height="1.0" fill="#a6a6a6" opacity="0.9"/>
<rect x="54.8" y="120.3" width="1.0" height="1.0" fill="#c4c4c4" opacity="0.9"/>
<rect x="59.5" y="116.5" width="1.0" height="1.0" fill="#acacac" opacity="0.9"/>
<rect x="61.2" y="115.3" width="1.0" height="1.0" fill="#a6a6a6" opacity="0.9"/>
<rect x="58.8" y="116.7" width="1.0" height="1.0" fill="#b0b0b0" opacity="0.9"/>
<rect x="63.3" y="113.5" width="1.0" height="1.0" fill="#bababa" opacity="0.9"/>
<rect x="63.8" y="112.3" width="1.0" height="1.0" fill="#bababa" opacity="0.9"/>
<rect x="58.4" y="118.7" width="1.0" height="1.0" fill="#b0b0b0" opacity="0.9"/>
<rect x="52.1" y="123.0" width="1.0" height="1.0" fill="#a6a6a6" opacity="0.9"/>
<rect x="63.1" y="112.1" width="1.0" height="1.0" fill="#acacac" opacity="0.9"/>
<rect x="57.7" y="118.3" width="1.0" height="1.0" fill="#c4c4c4" opacity="0.9"/>
<rect x="61.9" y="113.3" width="1.0" height="1.0" fill="#a6a6a6" opacity="0.9"/>
<rect x="67.3" y="108.0" width="1.0" height="1.0" fill="#b0b0b0" opacity="0.9"/>
<rect x="64.0" y="109.3" width="1.0" height="1.0" fill="#bababa" opacity="0.9"/>
<rect x="65.5" y="109.4" width="1.0" height="1.0" fill="#b0b0b0" opacity="0.9"/>
<rect x="63.2" y="113.7" width="1.0" height="1.0" fill="#bababa" opacity="0.9"/>
<rect x="60.9" y="113.8" width="1.0" height="1.0" fill="#c4c4c4" opacity="0.9"/>
<rect x="63.4" y="112.9" width="1.0" height="1.0" fill="#bababa" opacity="0.9"/>
<rect x="66.8" y="107.5" width="1.0" height="1.0" fill="#b0b0b0" opacity="0.9"/>
<rect x="66.1" y="109.9" width="1.0" height="1.0" fill="#b0b0b0" opacity="0.9"/>
<rect x="55.9" y="121.5" width="1.0" height="1.0" fill="#acacac" opacity="0.9"/>
<rect x="60.5" y="113.9" width="1.0" height="1.0" fill="#c4c4c4" opacity="0.9"/>
<rect x="55.6" y="122.4" width="1.0" height="1.0" fill="#c4c4c4" opacity="0.9"/>
<rect x="63.1" y="113.6" width="1.0" height="1.0" fill="#b0b0b0" opacity="0.9"/>
<rect x="63.2" y="113.8" width="1.0" height="1.0" fill="#c4c4c4" opacity="0.9"/>
<rect x="56.7" y="117.6" width="1.0" height="1.0" fill="#acacac" opacity="0.9"/>
<rect x="66.2" y="110.3" width="1.0" height="1.0" fill="#bababa" opacity="0.9"/>
<rect x="66.6" y="109.4" width="1.0" height="1.0" fill="#a6a6a6" opacity="0.9"/>
<rect x="64.3" y="110.2" width="1.0" height="1.0" fill="#a6a6a6" opacity="0.9"/>
<rect x="57.2" y="119.6" width="1.0" height="1.0" fill="#c4c4c4" opacity="0.9"/>
<rect x="58.2" y="118.1" width="1.0" height="1.0" fill="#b0b0b0" opacity="0.9"/>
<rect x="66.0" y="110.8" width="1.0" height="1.0" fill="#a6a6a6" opacity="0.9"/>
<rect x="56.5" y="120.0" width="1.0" height="1.0" fill="#b0b0b0" opacity="0.9"/>
<rect x="54.9" y="124.0" width="1.0" height="1.0" fill="#a6a6a6" opacity="0.9"/>
<rect x="64.0" y="112.2" width="1.0" height="1.0" fill="#bababa" opacity="0.9"/>
<rect x="67.5" y="109.3" width="1.0" height="1.0" fill="#c4c4c4" opacity="0.9"/>
<rect x="63.6" y="112.3" width="1.0" height="1.0" fill="#acacac" opacity="0.9"/>
<rect x="66.6" y="110.9" width="1.0" height="1.0" fill="#acacac" opacity="0.9"/>
<rect x="65.7" y="108.7" width="1.0" height="1.0" fill="#a6a6a6" opacity="0.9"/>
<rect x="54.7" y="123.6" width="1.0" height="1.0" fill="#bababa" opacity="0.9"/>
<rect x="54.4" y="120.5" width="1.0" height="1.0" fill="#bababa" opacity="0.9"/>
<rect x="57.8" y="120.2" width="1.0" height="1.0" fill="#c4c4c4" opacity="0.9"/>
<rect x="66.7" y="111.7" width="1.0" height="1.0" fill="#acacac" opacity="0.9"/>
<rect x="58.5" y="115.2" width="1.0" height="1.0" fill="#b0b0b0" opacity="0.9"/>
<rect x="62.8" y="111.7" width="1.0" height="1.0" fill="#c4c4c4" opacity="0.9"/>
<rect x="57.9" y="116.7" width="1.0" height="1.0" fill="#bababa" opacity="0.9"/>
<rect x="61.8" y="111.9" width="1.0" height="1.0" fill="#c4c4c4" opacity="0.9"/>
<rect x="56.0" y="117.8" width="1.0" height="1.0" fill="#b0b0b0" opacity="0.9"/>
<rect x="57.8" y="118.4" width="1.0" height="1.0" fill="#bababa" opacity="0.9"/>
<rect x="56.2" y="119.4" width="1.0" height="1.0" fill="#a6a6a6" opacity="0.9"/>
<ellipse cx="42.6" cy="122.4" rx="5.6" ry="2.4" fill="#2e2e2e" opacity="0.95" transform="rotate(-14 42.6 122.4)" filter="url(#blur1)"/>
<rect x="46.1" y="120.2" width="1.0" height="1.0" fill="#1a1a1a" opacity="0.6"/>
<rect x="45.8" y="121.6" width="1.0" height="1.0" fill="#222" opacity="0.6"/>
<rect x="42.3" y="120.8" width="1.0" height="1.0" fill="#222" opacity="0.6"/>
<rect x="41.0" y="122.7" width="1.0" height="1.0" fill="#2a2a2a" opacity="0.6"/>
<rect x="46.0" y="119.0" width="1.0" height="1.0" fill="#2a2a2a" opacity="0.6"/>
<rect x="39.1" y="122.4" width="1.0" height="1.0" fill="#555" opacity="0.6"/>
<rect x="43.4" y="125.4" width="1.0" height="1.0" fill="#4a4a4a" opacity="0.6"/>
<rect x="44.4" y="124.2" width="1.0" height="1.0" fill="#4a4a4a" opacity="0.6"/>
<rect x="39.4" y="122.9" width="1.0" height="1.0" fill="#1a1a1a" opacity="0.6"/>
<rect x="46.5" y="122.2" width="1.0" height="1.0" fill="#1a1a1a" opacity="0.6"/>
<rect x="43.9" y="118.7" width="1.0" height="1.0" fill="#555" opacity="0.6"/>
<rect x="42.8" y="121.4" width="1.0" height="1.0" fill="#222" opacity="0.6"/>
<rect x="37.6" y="125.1" width="1.0" height="1.0" fill="#4a4a4a" opacity="0.6"/>
<rect x="46.2" y="120.2" width="1.0" height="1.0" fill="#2a2a2a" opacity="0.6"/>
<rect x="42.8" y="121.8" width="1.0" height="1.0" fill="#555" opacity="0.6"/>
<rect x="40.1" y="122.8" width="1.0" height="1.0" fill="#2a2a2a" opacity="0.6"/>
<rect x="40.8" y="123.5" width="1.0" height="1.0" fill="#3a3a3a" opacity="0.6"/>
<rect x="40.0" y="126.5" width="1.0" height="1.0" fill="#2a2a2a" opacity="0.6"/>
<rect x="47.7" y="120.2" width="1.0" height="1.0" fill="#4a4a4a" opacity="0.6"/>
<rect x="45.8" y="118.9" width="1.0" height="1.0" fill="#3a3a3a" opacity="0.6"/>
<rect x="43.7" y="121.3" width="1.0" height="1.0" fill="#3a3a3a" opacity="0.6"/>
<rect x="41.8" y="123.2" width="1.0" height="1.0" fill="#4a4a4a" opacity="0.6"/>
<rect x="43.6" y="120.8" width="1.0" height="1.0" fill="#3a3a3a" opacity="0.6"/>
<rect x="39.9" y="120.8" width="1.0" height="1.0" fill="#4a4a4a" opacity="0.6"/>
<rect x="42.4" y="122.2" width="1.0" height="1.0" fill="#2a2a2a" opacity="0.6"/>
<rect x="44.8" y="119.5" width="1.0" height="1.0" fill="#1a1a1a" opacity="0.6"/>
<rect x="42.7" y="119.1" width="1.0" height="1.0" fill="#2a2a2a" opacity="0.6"/>
<rect x="40.6" y="122.6" width="1.0" height="1.0" fill="#3a3a3a" opacity="0.6"/>
<rect x="39.3" y="120.4" width="1.0" height="1.0" fill="#2a2a2a" opacity="0.6"/>
<rect x="42.5" y="121.8" width="1.0" height="1.0" fill="#3a3a3a" opacity="0.6"/>
<rect x="45.6" y="122.8" width="1.0" height="1.0" fill="#1a1a1a" opacity="0.6"/>
<rect x="41.8" y="120.5" width="1.0" height="1.0" fill="#4a4a4a" opacity="0.6"/>
<rect x="44.7" y="121.9" width="1.0" height="1.0" fill="#555" opacity="0.6"/>
<rect x="40.1" y="119.7" width="1.0" height="1.0" fill="#1a1a1a" opacity="0.6"/>
<rect x="40.1" y="121.9" width="1.0" height="1.0" fill="#555" opacity="0.6"/>
<rect x="41.7" y="121.7" width="1.0" height="1.0" fill="#222" opacity="0.6"/>
<rect x="38.4" y="121.8" width="1.0" height="1.0" fill="#555" opacity="0.6"/>
<rect x="42.6" y="121.9" width="1.0" height="1.0" fill="#3a3a3a" opacity="0.6"/>
<rect x="43.6" y="121.8" width="1.0" height="1.0" fill="#4a4a4a" opacity="0.6"/>
<rect x="45.9" y="120.7" width="1.0" height="1.0" fill="#1a1a1a" opacity="0.6"/>
<rect x="44.6" y="123.1" width="1.0" height="1.0" fill="#2a2a2a" opacity="0.6"/>
<rect x="39.1" y="121.4" width="1.0" height="1.0" fill="#1a1a1a" opacity="0.6"/>
<rect x="36.0" y="122.9" width="1.0" height="1.0" fill="#1a1a1a" opacity="0.6"/>
<rect x="41.0" y="122.9" width="1.0" height="1.0" fill="#2a2a2a" opacity="0.6"/>
<rect x="41.6" y="121.0" width="1.0" height="1.0" fill="#2a2a2a" opacity="0.6"/>
<rect x="44.6" y="121.4" width="1.0" height="1.0" fill="#1a1a1a" opacity="0.6"/>
<rect x="42.5" y="122.2" width="1.0" height="1.0" fill="#222" opacity="0.6"/>
<rect x="44.4" y="121.0" width="1.0" height="1.0" fill="#3a3a3a" opacity="0.6"/>
<rect x="39.9" y="120.6" width="1.0" height="1.0" fill="#222" opacity="0.6"/>
<rect x="41.8" y="123.2" width="1.0" height="1.0" fill="#4a4a4a" opacity="0.6"/>
<rect x="48.5" y="120.0" width="1.0" height="1.0" fill="#555" opacity="0.6"/>
<rect x="42.0" y="123.3" width="1.0" height="1.0" fill="#222" opacity="0.6"/>
<rect x="35.0" y="125.4" width="1.0" height="1.0" fill="#4a4a4a" opacity="0.6"/>
<rect x="41.9" y="119.2" width="1.0" height="1.0" fill="#2a2a2a" opacity="0.6"/>
<rect x="45.5" y="119.9" width="1.0" height="1.0" fill="#2a2a2a" opacity="0.6"/>
<rect x="36.0" y="121.5" width="1.0" height="1.0" fill="#3a3a3a" opacity="0.6"/>
<rect x="39.8" y="120.4" width="1.0" height="1.0" fill="#2a2a2a" opacity="0.6"/>
<rect x="43.8" y="119.7" width="1.0" height="1.0" fill="#1a1a1a" opacity="0.6"/>
<rect x="44.7" y="119.3" width="1.0" height="1.0" fill="#555" opacity="0.6"/>
<rect x="46.9" y="121.3" width="1.0" height="1.0" fill="#3a3a3a" opacity="0.6"/>
<rect x="40.4" y="121.0" width="1.0" height="1.0" fill="#555" opacity="0.6"/>
<rect x="39.4" y="125.8" width="1.0" height="1.0" fill="#1a1a1a" opacity="0.6"/>
<rect x="37.6" y="123.3" width="1.0" height="1.0" fill="#4a4a4a" opacity="0.6"/>
<rect x="37.8" y="122.9" width="1.0" height="1.0" fill="#4a4a4a" opacity="0.6"/>
<rect x="43.0" y="123.6" width="1.0" height="1.0" fill="#555" opacity="0.6"/>
<rect x="43.9" y="120.5" width="1.0" height="1.0" fill="#1a1a1a" opacity="0.6"/>
<rect x="39.3" y="123.6" width="1.0" height="1.0" fill="#222" opacity="0.6"/>
<rect x="38.4" y="120.7" width="1.0" height="1.0" fill="#1a1a1a" opacity="0.6"/>
<rect x="39.1" y="121.4" width="1.0" height="1.0" fill="#2a2a2a" opacity="0.6"/>
<rect x="46.7" y="119.7" width="1.0" height="1.0" fill="#3a3a3a" opacity="0.6"/>
<rect x="45.0" y="120.4" width="1.0" height="1.0" fill="#555" opacity="0.6"/>
<rect x="40.0" y="123.9" width="1.0" height="1.0" fill="#222" opacity="0.6"/>
<rect x="42.6" y="122.5" width="1.0" height="1.0" fill="#222" opacity="0.6"/>
<rect x="40.8" y="122.9" width="1.0" height="1.0" fill="#2a2a2a" opacity="0.6"/>
<rect x="42.8" y="120.8" width="1.0" height="1.0" fill="#2a2a2a" opacity="0.6"/>
<rect x="45.2" y="122.7" width="1.0" height="1.0" fill="#2a2a2a" opacity="0.6"/>
<rect x="37.8" y="121.0" width="1.0" height="1.0" fill="#555" opacity="0.6"/>
<rect x="42.7" y="121.5" width="1.0" height="1.0" fill="#4a4a4a" opacity="0.6"/>
<rect x="38.5" y="124.9" width="1.0" height="1.0" fill="#4a4a4a" opacity="0.6"/>
<rect x="43.6" y="122.1" width="1.0" height="1.0" fill="#3a3a3a" opacity="0.6"/>
<rect x="40.2" y="123.3" width="1.0" height="1.0" fill="#555" opacity="0.6"/>
<rect x="43.0" y="120.1" width="1.0" height="1.0" fill="#4a4a4a" opacity="0.6"/>
<rect x="40.5" y="121.4" width="1.0" height="1.0" fill="#3a3a3a" opacity="0.6"/>
<rect x="47.0" y="120.6" width="1.0" height="1.0" fill="#4a4a4a" opacity="0.6"/>
<rect x="38.3" y="121.2" width="1.0" height="1.0" fill="#2a2a2a" opacity="0.6"/>
<rect x="42.0" y="121.2" width="1.0" height="1.0" fill="#555" opacity="0.6"/>
<rect x="44.9" y="122.3" width="1.0" height="1.0" fill="#555" opacity="0.6"/>
<rect x="42.6" y="123.1" width="1.0" height="1.0" fill="#3a3a3a" opacity="0.6"/>
<rect x="42.7" y="120.8" width="1.0" height="1.0" fill="#222" opacity="0.6"/>
<rect x="43.8" y="123.1" width="1.0" height="1.0" fill="#1a1a1a" opacity="0.6"/>
</g>
<rect x="32.5" y="82.3" width="47.8" height="48.0" fill="none" stroke="#a2a2a2" stroke-width="0.85"/>
<line x1="54.5" y1="82.3" x2="54.5" y2="130.3" stroke="#999" stroke-width="0.85"/>
<line x1="32.5" y1="105.8" x2="80.3" y2="105.8" stroke="#999" stroke-width="0.85"/>
<text x="59.75" y="128.5" font-size="6.3" font-weight="bold" text-anchor="start" fill="#111" textLength="17" lengthAdjust="spacingAndGlyphs" stroke="#111" stroke-width="0.18">28.9%</text>
<rect x="86.4" y="82.5" width="46.9" height="47.9" fill="#fff" stroke="none" stroke-width="1"/>
<circle cx="84.4" cy="94.475" r="0.5" fill="#aaa"/>
<circle cx="84.4" cy="106.45" r="0.5" fill="#aaa"/>
<circle cx="84.4" cy="118.425" r="0.5" fill="#aaa"/>
<path d="M85.6 134.1L86.9 132.9M87.2 132.0L87.7 131.6" stroke="#9a9a9a" stroke-width="0.7" fill="none"/>
<path d="M96.9 134.1L98.2 132.9M98.5 132.0L99.0 131.6" stroke="#9a9a9a" stroke-width="0.7" fill="none"/>
<path d="M108.4 134.1L109.7 132.9M110.0 132.0L110.5 131.6" stroke="#9a9a9a" stroke-width="0.7" fill="none"/>
<path d="M119.6 134.1L120.9 132.9M121.2 132.0L121.7 131.6" stroke="#9a9a9a" stroke-width="0.7" fill="none"/>
<path d="M131.6 134.1L132.9 132.9M133.2 132.0L133.7 131.6" stroke="#9a9a9a" stroke-width="0.7" fill="none"/>
<path d="M108.5 135.0l1.2 0.6M108.8 136.4l1.6 -0.2l-0.3 1.2" stroke="#aaa" stroke-width="0.7" fill="none"/>
<text x="109.6" y="81" font-size="6.6" font-weight="bold" text-anchor="middle" fill="#111" textLength="20.5" lengthAdjust="spacingAndGlyphs" stroke="#111" stroke-width="0.18">200 nM</text>
<g filter="url(#soft)">
<rect x="114.7" y="97.9" width="1.0" height="1.0" fill="#d4d4d4" opacity="1.0"/>
<rect x="128.0" y="95.7" width="1.0" height="1.0" fill="#d4d4d4" opacity="1.0"/>
<rect x="124.6" y="88.4" width="1.0" height="1.0" fill="#e8e8e8" opacity="1.0"/>
<rect x="125.6" y="93.3" width="1.0" height="1.0" fill="#e8e8e8" opacity="1.0"/>
<rect x="129.7" y="97.2" width="1.0" height="1.0" fill="#d4d4d4" opacity="1.0"/>
<rect x="128.1" y="116.0" width="1.0" height="1.0" fill="#e8e8e8" opacity="1.0"/>
<rect x="105.6" y="115.8" width="1.0" height="1.0" fill="#d4d4d4" opacity="1.0"/>
<rect x="130.2" y="103.4" width="1.0" height="1.0" fill="#d4d4d4" opacity="1.0"/>
<rect x="105.0" y="101.4" width="1.0" height="1.0" fill="#e2e2e2" opacity="1.0"/>
<rect x="128.3" y="92.8" width="1.0" height="1.0" fill="#d4d4d4" opacity="1.0"/>
<rect x="93.2" y="93.3" width="1.0" height="1.0" fill="#dcdcdc" opacity="1.0"/>
<rect x="93.9" y="104.0" width="1.0" height="1.0" fill="#e8e8e8" opacity="1.0"/>
<rect x="112.0" y="106.3" width="1.0" height="1.0" fill="#dcdcdc" opacity="1.0"/>
<rect x="95.0" y="109.2" width="1.0" height="1.0" fill="#e8e8e8" opacity="1.0"/>
<rect x="119.2" y="103.6" width="1.0" height="1.0" fill="#e8e8e8" opacity="1.0"/>
<rect x="97.8" y="87.3" width="1.0" height="1.0" fill="#e8e8e8" opacity="1.0"/>
<rect x="110.6" y="106.9" width="1.0" height="1.0" fill="#dcdcdc" opacity="1.0"/>
<rect x="117.9" y="117.0" width="1.0" height="1.0" fill="#e8e8e8" opacity="1.0"/>
<rect x="112.7" y="125.2" width="1.0" height="1.0" fill="#d4d4d4" opacity="1.0"/>
<rect x="113.2" y="118.3" width="1.0" height="1.0" fill="#e8e8e8" opacity="1.0"/>
<rect x="95.4" y="94.1" width="1.0" height="1.0" fill="#dcdcdc" opacity="1.0"/>
<rect x="113.9" y="85.1" width="1.0" height="1.0" fill="#e8e8e8" opacity="1.0"/>
<rect x="94.2" y="117.6" width="1.0" height="1.0" fill="#e8e8e8" opacity="1.0"/>
<rect x="92.8" y="114.4" width="1.0" height="1.0" fill="#d4d4d4" opacity="1.0"/>
<rect x="110.3" y="86.8" width="1.0" height="1.0" fill="#e8e8e8" opacity="1.0"/>
<rect x="125.0" y="90.6" width="1.0" height="1.0" fill="#e8e8e8" opacity="1.0"/>
<rect x="123.9" y="122.8" width="1.0" height="1.0" fill="#e2e2e2" opacity="1.0"/>
<rect x="103.7" y="92.8" width="1.0" height="1.0" fill="#dcdcdc" opacity="1.0"/>
<rect x="98.2" y="108.1" width="1.0" height="1.0" fill="#d4d4d4" opacity="1.0"/>
<rect x="94.1" y="101.3" width="1.0" height="1.0" fill="#d4d4d4" opacity="1.0"/>
<rect x="113.3" y="106.9" width="1.0" height="1.0" fill="#e8e8e8" opacity="1.0"/>
<rect x="118.4" y="97.9" width="1.0" height="1.0" fill="#e2e2e2" opacity="1.0"/>
<rect x="126.0" y="119.7" width="1.0" height="1.0" fill="#d4d4d4" opacity="1.0"/>
<rect x="103.0" y="90.2" width="1.0" height="1.0" fill="#e2e2e2" opacity="1.0"/>
<rect x="112.5" y="100.9" width="1.0" height="1.0" fill="#e8e8e8" opacity="1.0"/>
<rect x="117.4" y="115.7" width="1.0" height="1.0" fill="#e2e2e2" opacity="1.0"/>
<rect x="105.5" y="119.7" width="1.0" height="1.0" fill="#e2e2e2" opacity="1.0"/>
<rect x="109.2" y="115.5" width="1.0" height="1.0" fill="#dcdcdc" opacity="1.0"/>
<rect x="120.3" y="84.8" width="1.0" height="1.0" fill="#dcdcdc" opacity="1.0"/>
<rect x="107.3" y="109.3" width="1.0" height="1.0" fill="#d4d4d4" opacity="1.0"/>
<rect x="92.0" y="94.1" width="1.0" height="1.0" fill="#e8e8e8" opacity="1.0"/>
<rect x="102.5" y="115.7" width="1.0" height="1.0" fill="#e8e8e8" opacity="1.0"/>
<rect x="107.2" y="116.5" width="1.0" height="1.0" fill="#e2e2e2" opacity="1.0"/>
<rect x="126.4" y="86.9" width="1.0" height="1.0" fill="#e8e8e8" opacity="1.0"/>
<rect x="125.6" y="89.9" width="1.0" height="1.0" fill="#e2e2e2" opacity="1.0"/>
<rect x="103.1" y="93.6" width="1.0" height="1.0" fill="#c8c8c8" opacity="1.0"/>
<rect x="102.1" y="94.5" width="1.0" height="1.0" fill="#c8c8c8" opacity="1.0"/>
<rect x="98.3" y="92.5" width="1.0" height="1.0" fill="#d8d8d8" opacity="1.0"/>
<rect x="103.2" y="99.2" width="1.0" height="1.0" fill="#c8c8c8" opacity="1.0"/>
<rect x="102.0" y="96.5" width="1.0" height="1.0" fill="#cfcfcf" opacity="1.0"/>
<rect x="105.9" y="99.8" width="1.0" height="1.0" fill="#cfcfcf" opacity="1.0"/>
<rect x="99.7" y="94.2" width="1.0" height="1.0" fill="#cfcfcf" opacity="1.0"/>
<rect x="103.8" y="87.3" width="1.0" height="1.0" fill="#d8d8d8" opacity="1.0"/>
<rect x="103.3" y="100.1" width="1.0" height="1.0" fill="#c8c8c8" opacity="1.0"/>
<rect x="105.7" y="92.0" width="1.0" height="1.0" fill="#cfcfcf" opacity="1.0"/>
<rect x="106.3" y="89.5" width="1.0" height="1.0" fill="#cfcfcf" opacity="1.0"/>
<rect x="107.1" y="96.0" width="1.0" height="1.0" fill="#d8d8d8" opacity="1.0"/>
<rect x="119.9" y="85.4" width="1.0" height="1.0" fill="#d8d8d8" opacity="1.0"/>
<rect x="117.8" y="87.4" width="1.0" height="1.0" fill="#d8d8d8" opacity="1.0"/>
<rect x="122.5" y="91.6" width="1.0" height="1.0" fill="#cfcfcf" opacity="1.0"/>
<rect x="123.6" y="99.4" width="1.0" height="1.0" fill="#cfcfcf" opacity="1.0"/>
<rect x="118.7" y="94.2" width="1.0" height="1.0" fill="#d8d8d8" opacity="1.0"/>
<rect x="121.3" y="96.3" width="1.0" height="1.0" fill="#c8c8c8" opacity="1.0"/>
<rect x="117.8" y="93.0" width="1.0" height="1.0" fill="#d8d8d8" opacity="1.0"/>
<rect x="121.0" y="95.6" width="1.0" height="1.0" fill="#d8d8d8" opacity="1.0"/>
<rect x="118.6" y="91.7" width="1.0" height="1.0" fill="#d8d8d8" opacity="1.0"/>
<rect x="126.0" y="99.8" width="1.0" height="1.0" fill="#c8c8c8" opacity="1.0"/>
<rect x="124.0" y="91.7" width="1.0" height="1.0" fill="#d8d8d8" opacity="1.0"/>
<rect x="118.7" y="93.5" width="1.0" height="1.0" fill="#d8d8d8" opacity="1.0"/>
<rect x="126.3" y="87.8" width="1.0" height="1.0" fill="#cfcfcf" opacity="1.0"/>
<rect x="111.5" y="94.3" width="1.0" height="1.0" fill="#c8c8c8" opacity="1.0"/>
<rect x="113.7" y="90.1" width="1.0" height="1.0" fill="#cfcfcf" opacity="1.0"/>
<rect x="121.5" y="95.9" width="1.0" height="1.0" fill="#cfcfcf" opacity="1.0"/>
<ellipse cx="98.4" cy="121.3" rx="9" ry="4.4" fill="#a8a8a8" opacity="0.5" transform="rotate(-25 96.4 123.3)" filter="url(#blur1)"/>
<rect x="112.6" y="117.0" width="1.0" height="1.0" fill="#b0b0b0" opacity="0.9"/>
<rect x="120.1" y="114.4" width="1.0" height="1.0" fill="#c4c4c4" opacity="0.9"/>
<rect x="98.2" y="122.7" width="1.0" height="1.0" fill="#acacac" opacity="0.9"/>
<rect x="106.3" y="117.5" width="1.0" height="1.0" fill="#c4c4c4" opacity="0.9"/>
<rect x="119.4" y="107.1" width="1.0" height="1.0" fill="#e8e8e8" opacity="0.9"/>
<rect x="103.1" y="121.6" width="1.0" height="1.0" fill="#a6a6a6" opacity="0.9"/>
<rect x="98.0" y="120.0" width="1.0" height="1.0" fill="#bababa" opacity="0.9"/>
<rect x="110.1" y="114.3" width="1.0" height="1.0" fill="#bababa" opacity="0.9"/>
<rect x="107.3" y="114.9" width="1.0" height="1.0" fill="#a6a6a6" opacity="0.9"/>
<rect x="123.2" y="107.5" width="1.0" height="1.0" fill="#bababa" opacity="0.9"/>
<rect x="107.2" y="118.6" width="1.0" height="1.0" fill="#bababa" opacity="0.9"/>
<rect x="110.2" y="114.0" width="1.0" height="1.0" fill="#d4d4d4" opacity="0.9"/>
<rect x="104.2" y="117.1" width="1.0" height="1.0" fill="#c4c4c4" opacity="0.9"/>
<rect x="109.2" y="118.8" width="1.0" height="1.0" fill="#acacac" opacity="0.9"/>
<rect x="128.7" y="105.5" width="1.0" height="1.0" fill="#e8e8e8" opacity="0.9"/>
<rect x="112.2" y="113.9" width="1.0" height="1.0" fill="#a6a6a6" opacity="0.9"/>
<rect x="112.4" y="110.6" width="1.0" height="1.0" fill="#acacac" opacity="0.9"/>
<rect x="103.5" y="124.5" width="1.0" height="1.0" fill="#a6a6a6" opacity="0.9"/>
<rect x="108.7" y="114.2" width="1.0" height="1.0" fill="#b0b0b0" opacity="0.9"/>
<rect x="98.8" y="118.4" width="1.0" height="1.0" fill="#e8e8e8" opacity="0.9"/>
<rect x="119.4" y="112.5" width="1.0" height="1.0" fill="#dcdcdc" opacity="0.9"/>
<rect x="128.6" y="109.3" width="1.0" height="1.0" fill="#bababa" opacity="0.9"/>
<rect x="117.1" y="114.9" width="1.0" height="1.0" fill="#d4d4d4" opacity="0.9"/>
<rect x="115.3" y="115.5" width="1.0" height="1.0" fill="#e2e2e2" opacity="0.9"/>
<rect x="124.5" y="111.7" width="1.0" height="1.0" fill="#bababa" opacity="0.9"/>
<rect x="117.2" y="109.8" width="1.0" height="1.0" fill="#dcdcdc" opacity="0.9"/>
<rect x="120.9" y="117.4" width="1.0" height="1.0" fill="#dcdcdc" opacity="0.9"/>
<rect x="117.5" y="111.7" width="1.0" height="1.0" fill="#d4d4d4" opacity="0.9"/>
<rect x="96.8" y="119.6" width="1.0" height="1.0" fill="#b0b0b0" opacity="0.9"/>
<rect x="117.1" y="109.6" width="1.0" height="1.0" fill="#a6a6a6" opacity="0.9"/>
<rect x="121.2" y="108.6" width="1.0" height="1.0" fill="#dcdcdc" opacity="0.9"/>
<rect x="115.1" y="109.9" width="1.0" height="1.0" fill="#d4d4d4" opacity="0.9"/>
<rect x="105.4" y="112.6" width="1.0" height="1.0" fill="#a6a6a6" opacity="0.9"/>
<rect x="120.9" y="106.5" width="1.0" height="1.0" fill="#bababa" opacity="0.9"/>
<rect x="112.4" y="110.4" width="1.0" height="1.0" fill="#e8e8e8" opacity="0.9"/>
<rect x="110.0" y="115.9" width="1.0" height="1.0" fill="#b0b0b0" opacity="0.9"/>
<rect x="101.4" y="114.4" width="1.0" height="1.0" fill="#acacac" opacity="0.9"/>
<rect x="101.6" y="115.5" width="1.0" height="1.0" fill="#d4d4d4" opacity="0.9"/>
<rect x="119.5" y="110.7" width="1.0" height="1.0" fill="#a6a6a6" opacity="0.9"/>
<rect x="110.0" y="110.4" width="1.0" height="1.0" fill="#dcdcdc" opacity="0.9"/>
<rect x="119.3" y="110.9" width="1.0" height="1.0" fill="#dcdcdc" opacity="0.9"/>
<rect x="118.7" y="110.4" width="1.0" height="1.0" fill="#c4c4c4" opacity="0.9"/>
<rect x="98.1" y="120.5" width="1.0" height="1.0" fill="#b0b0b0" opacity="0.9"/>
<rect x="118.7" y="110.0" width="1.0" height="1.0" fill="#c4c4c4" opacity="0.9"/>
<rect x="109.6" y="116.6" width="1.0" height="1.0" fill="#dcdcdc" opacity="0.9"/>
<rect x="108.2" y="115.7" width="1.0" height="1.0" fill="#dcdcdc" opacity="0.9"/>
<rect x="100.2" y="124.0" width="1.0" height="1.0" fill="#d4d4d4" opacity="0.9"/>
<rect x="107.1" y="114.9" width="1.0" height="1.0" fill="#acacac" opacity="0.9"/>
<rect x="122.0" y="113.4" width="1.0" height="1.0" fill="#bababa" opacity="0.9"/>
<rect x="108.0" y="117.1" width="1.0" height="1.0" fill="#bababa" opacity="0.9"/>
<rect x="107.6" y="115.1" width="1.0" height="1.0" fill="#e2e2e2" opacity="0.9"/>
<rect x="104.1" y="122.2" width="1.0" height="1.0" fill="#acacac" opacity="0.9"/>
<rect x="124.1" y="109.2" width="1.0" height="1.0" fill="#a6a6a6" opacity="0.9"/>
<rect x="101.8" y="126.9" width="1.0" height="1.0" fill="#d4d4d4" opacity="0.9"/>
<rect x="110.8" y="109.3" width="1.0" height="1.0" fill="#b0b0b0" opacity="0.9"/>
<rect x="124.1" y="103.2" width="1.0" height="1.0" fill="#e2e2e2" opacity="0.9"/>
<rect x="102.1" y="116.5" width="1.0" height="1.0" fill="#e2e2e2" opacity="0.9"/>
<rect x="98.2" y="117.3" width="1.0" height="1.0" fill="#c4c4c4" opacity="0.9"/>
<rect x="105.8" y="112.4" width="1.0" height="1.0" fill="#e2e2e2" opacity="0.9"/>
<rect x="123.7" y="107.8" width="1.0" height="1.0" fill="#d4d4d4" opacity="0.9"/>
<rect x="111.4" y="113.8" width="1.0" height="1.0" fill="#b0b0b0" opacity="0.9"/>
<rect x="108.5" y="115.1" width="1.0" height="1.0" fill="#bababa" opacity="0.9"/>
<rect x="117.8" y="110.6" width="1.0" height="1.0" fill="#dcdcdc" opacity="0.9"/>
<rect x="118.3" y="114.8" width="1.0" height="1.0" fill="#c4c4c4" opacity="0.9"/>
<rect x="99.0" y="116.6" width="1.0" height="1.0" fill="#a6a6a6" opacity="0.9"/>
<rect x="126.8" y="111.6" width="1.0" height="1.0" fill="#c4c4c4" opacity="0.9"/>
<rect x="115.4" y="117.8" width="1.0" height="1.0" fill="#a6a6a6" opacity="0.9"/>
<rect x="113.9" y="114.6" width="1.0" height="1.0" fill="#e2e2e2" opacity="0.9"/>
<rect x="114.4" y="113.9" width="1.0" height="1.0" fill="#c4c4c4" opacity="0.9"/>
<rect x="108.8" y="113.4" width="1.0" height="1.0" fill="#a6a6a6" opacity="0.9"/>
<rect x="118.6" y="111.9" width="1.0" height="1.0" fill="#e8e8e8" opacity="0.9"/>
<rect x="122.3" y="111.4" width="1.0" height="1.0" fill="#e8e8e8" opacity="0.9"/>
<rect x="102.6" y="119.3" width="1.0" height="1.0" fill="#c4c4c4" opacity="0.9"/>
<rect x="124.7" y="105.6" width="1.0" height="1.0" fill="#bababa" opacity="0.9"/>
<rect x="108.4" y="114.9" width="1.0" height="1.0" fill="#dcdcdc" opacity="0.9"/>
<rect x="119.4" y="111.5" width="1.0" height="1.0" fill="#dcdcdc" opacity="0.9"/>
<rect x="103.1" y="120.7" width="1.0" height="1.0" fill="#c4c4c4" opacity="0.9"/>
<rect x="105.2" y="117.2" width="1.0" height="1.0" fill="#e8e8e8" opacity="0.9"/>
<rect x="117.3" y="106.1" width="1.0" height="1.0" fill="#dcdcdc" opacity="0.9"/>
<rect x="99.0" y="123.6" width="1.0" height="1.0" fill="#e8e8e8" opacity="0.9"/>
<rect x="120.0" y="110.5" width="1.0" height="1.0" fill="#e2e2e2" opacity="0.9"/>
<rect x="111.3" y="114.1" width="1.0" height="1.0" fill="#c4c4c4" opacity="0.9"/>
<rect x="123.4" y="112.1" width="1.0" height="1.0" fill="#a6a6a6" opacity="0.9"/>
<rect x="101.4" y="116.5" width="1.0" height="1.0" fill="#dcdcdc" opacity="0.9"/>
<rect x="109.1" y="119.5" width="1.0" height="1.0" fill="#b0b0b0" opacity="0.9"/>
<rect x="125.1" y="111.9" width="1.0" height="1.0" fill="#e2e2e2" opacity="0.9"/>
<rect x="119.0" y="103.3" width="1.0" height="1.0" fill="#bababa" opacity="0.9"/>
<rect x="119.7" y="111.6" width="1.0" height="1.0" fill="#b0b0b0" opacity="0.9"/>
<rect x="113.4" y="115.2" width="1.0" height="1.0" fill="#dcdcdc" opacity="0.9"/>
<rect x="106.4" y="115.5" width="1.0" height="1.0" fill="#bababa" opacity="0.9"/>
<rect x="120.4" y="115.4" width="1.0" height="1.0" fill="#e2e2e2" opacity="0.9"/>
<rect x="117.5" y="111.2" width="1.0" height="1.0" fill="#dcdcdc" opacity="0.9"/>
<rect x="117.6" y="111.5" width="1.0" height="1.0" fill="#a6a6a6" opacity="0.9"/>
<rect x="119.1" y="106.4" width="1.0" height="1.0" fill="#e2e2e2" opacity="0.9"/>
<rect x="103.5" y="112.6" width="1.0" height="1.0" fill="#bababa" opacity="0.9"/>
<rect x="100.1" y="114.2" width="1.0" height="1.0" fill="#e8e8e8" opacity="0.9"/>
<rect x="101.7" y="119.7" width="1.0" height="1.0" fill="#e2e2e2" opacity="0.9"/>
<rect x="125.0" y="113.0" width="1.0" height="1.0" fill="#e2e2e2" opacity="0.9"/>
<rect x="114.6" y="114.0" width="1.0" height="1.0" fill="#e8e8e8" opacity="0.9"/>
<rect x="106.2" y="119.2" width="1.0" height="1.0" fill="#b0b0b0" opacity="0.9"/>
<rect x="102.3" y="113.4" width="1.0" height="1.0" fill="#b0b0b0" opacity="0.9"/>
<rect x="107.7" y="114.9" width="1.0" height="1.0" fill="#dcdcdc" opacity="0.9"/>
<rect x="99.4" y="119.1" width="1.0" height="1.0" fill="#d4d4d4" opacity="0.9"/>
<rect x="108.8" y="118.2" width="1.0" height="1.0" fill="#e8e8e8" opacity="0.9"/>
<rect x="117.9" y="113.8" width="1.0" height="1.0" fill="#d4d4d4" opacity="0.9"/>
<rect x="102.1" y="123.3" width="1.0" height="1.0" fill="#dcdcdc" opacity="0.9"/>
<rect x="121.9" y="108.0" width="1.0" height="1.0" fill="#e8e8e8" opacity="0.9"/>
<rect x="121.0" y="116.1" width="1.0" height="1.0" fill="#e8e8e8" opacity="0.9"/>
<rect x="117.7" y="113.4" width="1.0" height="1.0" fill="#e8e8e8" opacity="0.9"/>
<rect x="100.3" y="122.4" width="1.0" height="1.0" fill="#c4c4c4" opacity="0.9"/>
<rect x="115.1" y="109.9" width="1.0" height="1.0" fill="#e8e8e8" opacity="0.9"/>
<rect x="120.1" y="111.0" width="1.0" height="1.0" fill="#a6a6a6" opacity="0.9"/>
<rect x="122.4" y="109.8" width="1.0" height="1.0" fill="#c4c4c4" opacity="0.9"/>
<rect x="98.8" y="119.8" width="1.0" height="1.0" fill="#d4d4d4" opacity="0.9"/>
<rect x="127.2" y="105.5" width="1.0" height="1.0" fill="#acacac" opacity="0.9"/>
<rect x="108.7" y="119.1" width="1.0" height="1.0" fill="#c4c4c4" opacity="0.9"/>
<rect x="124.3" y="114.0" width="1.0" height="1.0" fill="#a6a6a6" opacity="0.9"/>
<rect x="111.6" y="119.4" width="1.0" height="1.0" fill="#acacac" opacity="0.9"/>
<rect x="120.5" y="115.6" width="1.0" height="1.0" fill="#c4c4c4" opacity="0.9"/>
<rect x="124.7" y="109.0" width="1.0" height="1.0" fill="#a6a6a6" opacity="0.9"/>
<rect x="100.3" y="120.2" width="1.0" height="1.0" fill="#e8e8e8" opacity="0.9"/>
<rect x="104.4" y="118.6" width="1.0" height="1.0" fill="#dcdcdc" opacity="0.9"/>
<rect x="124.5" y="109.0" width="1.0" height="1.0" fill="#bababa" opacity="0.9"/>
<rect x="116.2" y="112.2" width="1.0" height="1.0" fill="#d4d4d4" opacity="0.9"/>
<rect x="115.7" y="115.8" width="1.0" height="1.0" fill="#dcdcdc" opacity="0.9"/>
<rect x="110.1" y="112.4" width="1.0" height="1.0" fill="#dcdcdc" opacity="0.9"/>
<rect x="114.0" y="111.4" width="1.0" height="1.0" fill="#bababa" opacity="0.9"/>
<rect x="118.8" y="109.5" width="1.0" height="1.0" fill="#e2e2e2" opacity="0.9"/>
<rect x="104.0" y="118.5" width="1.0" height="1.0" fill="#acacac" opacity="0.9"/>
<rect x="125.2" y="108.8" width="1.0" height="1.0" fill="#e2e2e2" opacity="0.9"/>
<rect x="118.8" y="109.1" width="1.0" height="1.0" fill="#e2e2e2" opacity="0.9"/>
<rect x="104.1" y="119.0" width="1.0" height="1.0" fill="#e8e8e8" opacity="0.9"/>
<rect x="114.2" y="116.1" width="1.0" height="1.0" fill="#b0b0b0" opacity="0.9"/>
<rect x="116.8" y="116.4" width="1.0" height="1.0" fill="#e8e8e8" opacity="0.9"/>
<rect x="124.4" y="107.0" width="1.0" height="1.0" fill="#e8e8e8" opacity="0.9"/>
<rect x="117.7" y="109.8" width="1.0" height="1.0" fill="#acacac" opacity="0.9"/>
<rect x="99.5" y="123.1" width="1.0" height="1.0" fill="#b0b0b0" opacity="0.9"/>
<rect x="106.3" y="114.3" width="1.0" height="1.0" fill="#d4d4d4" opacity="0.9"/>
<rect x="106.9" y="112.6" width="1.0" height="1.0" fill="#d4d4d4" opacity="0.9"/>
<rect x="114.4" y="108.9" width="1.0" height="1.0" fill="#d4d4d4" opacity="0.9"/>
<rect x="99.5" y="113.5" width="1.0" height="1.0" fill="#acacac" opacity="0.9"/>
<rect x="111.4" y="112.7" width="1.0" height="1.0" fill="#bababa" opacity="0.9"/>
<rect x="98.7" y="119.1" width="1.0" height="1.0" fill="#acacac" opacity="0.9"/>
<rect x="119.9" y="110.3" width="1.0" height="1.0" fill="#acacac" opacity="0.9"/>
<rect x="115.3" y="111.7" width="1.0" height="1.0" fill="#b0b0b0" opacity="0.9"/>
<rect x="122.6" y="109.3" width="1.0" height="1.0" fill="#d4d4d4" opacity="0.9"/>
<rect x="100.2" y="126.8" width="1.0" height="1.0" fill="#acacac" opacity="0.9"/>
<rect x="122.7" y="111.9" width="1.0" height="1.0" fill="#e2e2e2" opacity="0.9"/>
<rect x="105.8" y="117.7" width="1.0" height="1.0" fill="#b0b0b0" opacity="0.9"/>
<rect x="119.6" y="110.1" width="1.0" height="1.0" fill="#bababa" opacity="0.9"/>
<rect x="121.8" y="113.5" width="1.0" height="1.0" fill="#b0b0b0" opacity="0.9"/>
<rect x="114.8" y="113.3" width="1.0" height="1.0" fill="#a6a6a6" opacity="0.9"/>
<rect x="104.7" y="120.4" width="1.0" height="1.0" fill="#b0b0b0" opacity="0.9"/>
<rect x="108.9" y="111.5" width="1.0" height="1.0" fill="#e8e8e8" opacity="0.9"/>
<rect x="104.1" y="120.8" width="1.0" height="1.0" fill="#c4c4c4" opacity="0.9"/>
<rect x="108.8" y="111.4" width="1.0" height="1.0" fill="#acacac" opacity="0.9"/>
<rect x="101.8" y="115.4" width="1.0" height="1.0" fill="#d4d4d4" opacity="0.9"/>
<rect x="102.8" y="113.2" width="1.0" height="1.0" fill="#e2e2e2" opacity="0.9"/>
<rect x="123.6" y="107.4" width="1.0" height="1.0" fill="#e8e8e8" opacity="0.9"/>
<rect x="111.9" y="118.8" width="1.0" height="1.0" fill="#b0b0b0" opacity="0.9"/>
<rect x="100.5" y="121.9" width="1.0" height="1.0" fill="#c4c4c4" opacity="0.9"/>
<rect x="95.9" y="113.5" width="1.0" height="1.0" fill="#acacac" opacity="0.9"/>
<rect x="100.0" y="121.1" width="1.0" height="1.0" fill="#acacac" opacity="0.9"/>
<rect x="109.3" y="114.8" width="1.0" height="1.0" fill="#acacac" opacity="0.9"/>
<rect x="122.2" y="103.7" width="1.0" height="1.0" fill="#a6a6a6" opacity="0.9"/>
<rect x="120.5" y="109.3" width="1.0" height="1.0" fill="#bababa" opacity="0.9"/>
<rect x="115.4" y="112.5" width="1.0" height="1.0" fill="#bababa" opacity="0.9"/>
<rect x="114.3" y="115.0" width="1.0" height="1.0" fill="#bababa" opacity="0.9"/>
<rect x="104.3" y="120.0" width="1.0" height="1.0" fill="#dcdcdc" opacity="0.9"/>
<rect x="109.6" y="117.2" width="1.0" height="1.0" fill="#d4d4d4" opacity="0.9"/>
<rect x="123.7" y="102.7" width="1.0" height="1.0" fill="#dcdcdc" opacity="0.9"/>
<rect x="105.8" y="120.2" width="1.0" height="1.0" fill="#a6a6a6" opacity="0.9"/>
<rect x="104.8" y="115.5" width="1.0" height="1.0" fill="#dcdcdc" opacity="0.9"/>
<rect x="98.8" y="118.3" width="1.0" height="1.0" fill="#dcdcdc" opacity="0.9"/>
<rect x="118.2" y="110.3" width="1.0" height="1.0" fill="#dcdcdc" opacity="0.9"/>
<rect x="109.2" y="116.1" width="1.0" height="1.0" fill="#b0b0b0" opacity="0.9"/>
<rect x="126.0" y="111.6" width="1.0" height="1.0" fill="#e8e8e8" opacity="0.9"/>
<rect x="111.0" y="114.0" width="1.0" height="1.0" fill="#e8e8e8" opacity="0.9"/>
<rect x="118.1" y="111.6" width="1.0" height="1.0" fill="#acacac" opacity="0.9"/>
<rect x="104.5" y="111.5" width="1.0" height="1.0" fill="#c4c4c4" opacity="0.9"/>
<rect x="115.3" y="120.0" width="1.0" height="1.0" fill="#d4d4d4" opacity="0.9"/>
<rect x="118.4" y="119.1" width="1.0" height="1.0" fill="#c4c4c4" opacity="0.9"/>
<rect x="118.5" y="113.4" width="1.0" height="1.0" fill="#a6a6a6" opacity="0.9"/>
<rect x="103.8" y="116.2" width="1.0" height="1.0" fill="#bababa" opacity="0.9"/>
<rect x="112.1" y="109.6" width="1.0" height="1.0" fill="#c4c4c4" opacity="0.9"/>
<rect x="100.1" y="115.8" width="1.0" height="1.0" fill="#b0b0b0" opacity="0.9"/>
<rect x="109.0" y="117.1" width="1.0" height="1.0" fill="#d4d4d4" opacity="0.9"/>
<rect x="109.5" y="112.0" width="1.0" height="1.0" fill="#d4d4d4" opacity="0.9"/>
<rect x="105.3" y="119.8" width="1.0" height="1.0" fill="#e2e2e2" opacity="0.9"/>
<rect x="121.2" y="119.8" width="1.0" height="1.0" fill="#b0b0b0" opacity="0.9"/>
<rect x="118.8" y="110.4" width="1.0" height="1.0" fill="#acacac" opacity="0.9"/>
<rect x="100.3" y="118.2" width="1.0" height="1.0" fill="#acacac" opacity="0.9"/>
<rect x="118.6" y="108.3" width="1.0" height="1.0" fill="#a6a6a6" opacity="0.9"/>
<rect x="122.1" y="110.5" width="1.0" height="1.0" fill="#c4c4c4" opacity="0.9"/>
<rect x="116.7" y="113.7" width="1.0" height="1.0" fill="#b0b0b0" opacity="0.9"/>
<rect x="122.8" y="110.8" width="1.0" height="1.0" fill="#b0b0b0" opacity="0.9"/>
<rect x="113.8" y="114.5" width="1.0" height="1.0" fill="#a6a6a6" opacity="0.9"/>
<rect x="112.0" y="114.2" width="1.0" height="1.0" fill="#dcdcdc" opacity="0.9"/>
<rect x="107.9" y="114.3" width="1.0" height="1.0" fill="#c4c4c4" opacity="0.9"/>
<rect x="110.5" y="119.7" width="1.0" height="1.0" fill="#acacac" opacity="0.9"/>
<rect x="125.2" y="113.5" width="1.0" height="1.0" fill="#a6a6a6" opacity="0.9"/>
<rect x="105.2" y="119.7" width="1.0" height="1.0" fill="#e2e2e2" opacity="0.9"/>
<rect x="121.5" y="116.2" width="1.0" height="1.0" fill="#c4c4c4" opacity="0.9"/>
<rect x="125.8" y="111.0" width="1.0" height="1.0" fill="#dcdcdc" opacity="0.9"/>
<rect x="107.9" y="118.2" width="1.0" height="1.0" fill="#b0b0b0" opacity="0.9"/>
<rect x="98.1" y="117.9" width="1.0" height="1.0" fill="#e2e2e2" opacity="0.9"/>
<rect x="99.8" y="119.3" width="1.0" height="1.0" fill="#acacac" opacity="0.9"/>
<rect x="111.6" y="115.9" width="1.0" height="1.0" fill="#c4c4c4" opacity="0.9"/>
<rect x="101.2" y="117.3" width="1.0" height="1.0" fill="#e8e8e8" opacity="0.9"/>
<rect x="96.6" y="119.6" width="1.0" height="1.0" fill="#acacac" opacity="0.9"/>
<rect x="118.7" y="107.9" width="1.0" height="1.0" fill="#e2e2e2" opacity="0.9"/>
<rect x="104.8" y="117.9" width="1.0" height="1.0" fill="#acacac" opacity="0.9"/>
<rect x="109.7" y="113.8" width="1.0" height="1.0" fill="#b0b0b0" opacity="0.9"/>
<rect x="100.0" y="126.2" width="1.0" height="1.0" fill="#d4d4d4" opacity="0.9"/>
<rect x="123.0" y="114.7" width="1.0" height="1.0" fill="#dcdcdc" opacity="0.9"/>
<rect x="100.1" y="124.5" width="1.0" height="1.0" fill="#b0b0b0" opacity="0.9"/>
<rect x="105.1" y="118.7" width="1.0" height="1.0" fill="#bababa" opacity="0.9"/>
<rect x="108.2" y="110.2" width="1.0" height="1.0" fill="#a6a6a6" opacity="0.9"/>
<rect x="115.3" y="111.7" width="1.0" height="1.0" fill="#acacac" opacity="0.9"/>
<rect x="118.1" y="109.4" width="1.0" height="1.0" fill="#dcdcdc" opacity="0.9"/>
<rect x="104.7" y="111.9" width="1.0" height="1.0" fill="#a6a6a6" opacity="0.9"/>
<rect x="116.9" y="114.6" width="1.0" height="1.0" fill="#bababa" opacity="0.9"/>
<rect x="120.4" y="112.1" width="1.0" height="1.0" fill="#b0b0b0" opacity="0.9"/>
<rect x="111.9" y="112.9" width="1.0" height="1.0" fill="#bababa" opacity="0.9"/>
<rect x="119.9" y="112.5" width="1.0" height="1.0" fill="#acacac" opacity="0.9"/>
<rect x="119.7" y="111.4" width="1.0" height="1.0" fill="#a6a6a6" opacity="0.9"/>
<rect x="106.9" y="116.1" width="1.0" height="1.0" fill="#dcdcdc" opacity="0.9"/>
<rect x="115.4" y="113.0" width="1.0" height="1.0" fill="#acacac" opacity="0.9"/>
<rect x="116.2" y="118.3" width="1.0" height="1.0" fill="#acacac" opacity="0.9"/>
<rect x="107.2" y="114.3" width="1.0" height="1.0" fill="#dcdcdc" opacity="0.9"/>
<rect x="100.7" y="122.9" width="1.0" height="1.0" fill="#a6a6a6" opacity="0.9"/>
<rect x="113.8" y="111.2" width="1.0" height="1.0" fill="#a6a6a6" opacity="0.9"/>
<rect x="104.2" y="114.8" width="1.0" height="1.0" fill="#d4d4d4" opacity="0.9"/>
<rect x="113.0" y="111.9" width="1.0" height="1.0" fill="#acacac" opacity="0.9"/>
<rect x="112.9" y="116.6" width="1.0" height="1.0" fill="#bababa" opacity="0.9"/>
<rect x="126.7" y="110.0" width="1.0" height="1.0" fill="#a6a6a6" opacity="0.9"/>
<rect x="101.9" y="119.0" width="1.0" height="1.0" fill="#d4d4d4" opacity="0.9"/>
<rect x="119.4" y="114.5" width="1.0" height="1.0" fill="#acacac" opacity="0.9"/>
<rect x="123.6" y="109.1" width="1.0" height="1.0" fill="#e2e2e2" opacity="0.9"/>
<rect x="95.9" y="121.5" width="1.0" height="1.0" fill="#a6a6a6" opacity="0.9"/>
<rect x="127.0" y="111.4" width="1.0" height="1.0" fill="#bababa" opacity="0.9"/>
<rect x="118.3" y="111.4" width="1.0" height="1.0" fill="#c4c4c4" opacity="0.9"/>
<rect x="117.8" y="107.5" width="1.0" height="1.0" fill="#b0b0b0" opacity="0.9"/>
<rect x="106.6" y="114.9" width="1.0" height="1.0" fill="#dcdcdc" opacity="0.9"/>
<rect x="124.2" y="108.8" width="1.0" height="1.0" fill="#b0b0b0" opacity="0.9"/>
<rect x="114.1" y="116.0" width="1.0" height="1.0" fill="#c4c4c4" opacity="0.9"/>
<rect x="109.2" y="116.4" width="1.0" height="1.0" fill="#c4c4c4" opacity="0.9"/>
<rect x="120.9" y="114.2" width="1.0" height="1.0" fill="#d4d4d4" opacity="0.9"/>
<rect x="100.9" y="123.8" width="1.0" height="1.0" fill="#d4d4d4" opacity="0.9"/>
<rect x="109.0" y="110.3" width="1.0" height="1.0" fill="#bababa" opacity="0.9"/>
<rect x="107.2" y="121.8" width="1.0" height="1.0" fill="#e2e2e2" opacity="0.9"/>
<rect x="104.5" y="118.7" width="1.0" height="1.0" fill="#e2e2e2" opacity="0.9"/>
<rect x="125.7" y="107.2" width="1.0" height="1.0" fill="#dcdcdc" opacity="0.9"/>
<rect x="105.7" y="115.9" width="1.0" height="1.0" fill="#acacac" opacity="0.9"/>
<rect x="116.5" y="111.5" width="1.0" height="1.0" fill="#e8e8e8" opacity="0.9"/>
<rect x="99.5" y="120.5" width="1.0" height="1.0" fill="#b0b0b0" opacity="0.9"/>
<rect x="108.4" y="115.4" width="1.0" height="1.0" fill="#e8e8e8" opacity="0.9"/>
<rect x="107.0" y="113.0" width="1.0" height="1.0" fill="#bababa" opacity="0.9"/>
<rect x="118.4" y="106.1" width="1.0" height="1.0" fill="#bababa" opacity="0.9"/>
<rect x="112.1" y="118.4" width="1.0" height="1.0" fill="#c4c4c4" opacity="0.9"/>
<rect x="105.2" y="108.6" width="1.0" height="1.0" fill="#b0b0b0" opacity="0.8"/>
<rect x="98.6" y="107.6" width="1.0" height="1.0" fill="#b0b0b0" opacity="0.8"/>
<rect x="99.7" y="117.7" width="1.0" height="1.0" fill="#bababa" opacity="0.8"/>
<rect x="104.5" y="113.0" width="1.0" height="1.0" fill="#acacac" opacity="0.8"/>
<rect x="106.6" y="107.0" width="1.0" height="1.0" fill="#c4c4c4" opacity="0.8"/>
<rect x="111.7" y="111.1" width="1.0" height="1.0" fill="#c4c4c4" opacity="0.8"/>
<rect x="97.3" y="113.8" width="1.0" height="1.0" fill="#bababa" opacity="0.8"/>
<rect x="110.4" y="110.9" width="1.0" height="1.0" fill="#b0b0b0" opacity="0.8"/>
<rect x="106.3" y="112.5" width="1.0" height="1.0" fill="#b0b0b0" opacity="0.8"/>
<rect x="104.5" y="114.2" width="1.0" height="1.0" fill="#b0b0b0" opacity="0.8"/>
<rect x="105.4" y="112.0" width="1.0" height="1.0" fill="#a6a6a6" opacity="0.8"/>
<rect x="105.5" y="111.5" width="1.0" height="1.0" fill="#bababa" opacity="0.8"/>
<rect x="107.0" y="112.3" width="1.0" height="1.0" fill="#bababa" opacity="0.8"/>
<rect x="100.3" y="115.2" width="1.0" height="1.0" fill="#bababa" opacity="0.8"/>
<rect x="100.9" y="118.7" width="1.0" height="1.0" fill="#bababa" opacity="0.8"/>
<rect x="104.7" y="113.1" width="1.0" height="1.0" fill="#c4c4c4" opacity="0.8"/>
<rect x="113.8" y="111.1" width="1.0" height="1.0" fill="#b0b0b0" opacity="0.8"/>
<rect x="103.7" y="108.3" width="1.0" height="1.0" fill="#bababa" opacity="0.8"/>
<rect x="101.4" y="113.2" width="1.0" height="1.0" fill="#c4c4c4" opacity="0.8"/>
<rect x="107.4" y="109.6" width="1.0" height="1.0" fill="#a6a6a6" opacity="0.8"/>
<rect x="101.9" y="108.0" width="1.0" height="1.0" fill="#acacac" opacity="0.8"/>
<rect x="99.9" y="116.6" width="1.0" height="1.0" fill="#b0b0b0" opacity="0.8"/>
<rect x="103.3" y="113.5" width="1.0" height="1.0" fill="#acacac" opacity="0.8"/>
<rect x="108.3" y="112.7" width="1.0" height="1.0" fill="#b0b0b0" opacity="0.8"/>
<rect x="103.7" y="109.6" width="1.0" height="1.0" fill="#acacac" opacity="0.8"/>
<rect x="103.6" y="110.6" width="1.0" height="1.0" fill="#a6a6a6" opacity="0.8"/>
<rect x="104.6" y="109.4" width="1.0" height="1.0" fill="#acacac" opacity="0.8"/>
<rect x="105.5" y="113.1" width="1.0" height="1.0" fill="#c4c4c4" opacity="0.8"/>
<rect x="106.6" y="116.3" width="1.0" height="1.0" fill="#acacac" opacity="0.8"/>
<rect x="104.3" y="114.3" width="1.0" height="1.0" fill="#acacac" opacity="0.8"/>
<rect x="100.1" y="113.4" width="1.0" height="1.0" fill="#a6a6a6" opacity="0.8"/>
<rect x="109.7" y="111.1" width="1.0" height="1.0" fill="#b0b0b0" opacity="0.8"/>
<rect x="100.9" y="113.3" width="1.0" height="1.0" fill="#acacac" opacity="0.8"/>
<rect x="96.2" y="111.4" width="1.0" height="1.0" fill="#b0b0b0" opacity="0.8"/>
<rect x="115.5" y="107.4" width="1.0" height="1.0" fill="#bababa" opacity="0.8"/>
<rect x="104.6" y="112.8" width="1.0" height="1.0" fill="#acacac" opacity="0.8"/>
<rect x="102.9" y="107.8" width="1.0" height="1.0" fill="#bababa" opacity="0.8"/>
<rect x="100.5" y="115.6" width="1.0" height="1.0" fill="#bababa" opacity="0.8"/>
<rect x="108.7" y="111.8" width="1.0" height="1.0" fill="#a6a6a6" opacity="0.8"/>
<rect x="103.3" y="114.8" width="1.0" height="1.0" fill="#b0b0b0" opacity="0.8"/>
<ellipse cx="96.4" cy="123.3" rx="5.2" ry="2.5" fill="#2e2e2e" opacity="0.95" transform="rotate(-16 96.4 123.3)" filter="url(#blur1)"/>
<rect x="100.5" y="124.0" width="1.0" height="1.0" fill="#2a2a2a" opacity="0.6"/>
<rect x="94.1" y="123.5" width="1.0" height="1.0" fill="#1a1a1a" opacity="0.6"/>
<rect x="96.3" y="120.6" width="1.0" height="1.0" fill="#3a3a3a" opacity="0.6"/>
<rect x="94.2" y="121.9" width="1.0" height="1.0" fill="#3a3a3a" opacity="0.6"/>
<rect x="95.9" y="122.2" width="1.0" height="1.0" fill="#1a1a1a" opacity="0.6"/>
<rect x="93.4" y="122.5" width="1.0" height="1.0" fill="#1a1a1a" opacity="0.6"/>
<rect x="96.4" y="124.7" width="1.0" height="1.0" fill="#2a2a2a" opacity="0.6"/>
<rect x="90.8" y="125.1" width="1.0" height="1.0" fill="#555" opacity="0.6"/>
<rect x="92.2" y="124.9" width="1.0" height="1.0" fill="#222" opacity="0.6"/>
<rect x="89.9" y="125.5" width="1.0" height="1.0" fill="#3a3a3a" opacity="0.6"/>
<rect x="94.8" y="122.7" width="1.0" height="1.0" fill="#4a4a4a" opacity="0.6"/>
<rect x="101.9" y="122.7" width="1.0" height="1.0" fill="#2a2a2a" opacity="0.6"/>
<rect x="104.0" y="121.4" width="1.0" height="1.0" fill="#222" opacity="0.6"/>
<rect x="98.4" y="123.2" width="1.0" height="1.0" fill="#222" opacity="0.6"/>
<rect x="100.1" y="122.0" width="1.0" height="1.0" fill="#555" opacity="0.6"/>
<rect x="95.9" y="121.4" width="1.0" height="1.0" fill="#1a1a1a" opacity="0.6"/>
<rect x="99.1" y="123.5" width="1.0" height="1.0" fill="#555" opacity="0.6"/>
<rect x="96.8" y="122.4" width="1.0" height="1.0" fill="#3a3a3a" opacity="0.6"/>
<rect x="99.2" y="120.8" width="1.0" height="1.0" fill="#222" opacity="0.6"/>
<rect x="96.9" y="122.8" width="1.0" height="1.0" fill="#2a2a2a" opacity="0.6"/>
<rect x="97.1" y="120.8" width="1.0" height="1.0" fill="#4a4a4a" opacity="0.6"/>
<rect x="97.0" y="123.2" width="1.0" height="1.0" fill="#4a4a4a" opacity="0.6"/>
<rect x="94.9" y="121.9" width="1.0" height="1.0" fill="#2a2a2a" opacity="0.6"/>
<rect x="92.5" y="124.2" width="1.0" height="1.0" fill="#1a1a1a" opacity="0.6"/>
<rect x="96.2" y="124.9" width="1.0" height="1.0" fill="#555" opacity="0.6"/>
<rect x="98.4" y="121.2" width="1.0" height="1.0" fill="#2a2a2a" opacity="0.6"/>
<rect x="93.8" y="122.7" width="1.0" height="1.0" fill="#4a4a4a" opacity="0.6"/>
<rect x="94.5" y="123.8" width="1.0" height="1.0" fill="#2a2a2a" opacity="0.6"/>
<rect x="95.1" y="120.0" width="1.0" height="1.0" fill="#4a4a4a" opacity="0.6"/>
<rect x="100.4" y="123.0" width="1.0" height="1.0" fill="#3a3a3a" opacity="0.6"/>
<rect x="96.0" y="122.5" width="1.0" height="1.0" fill="#222" opacity="0.6"/>
<rect x="87.5" y="126.0" width="1.0" height="1.0" fill="#2a2a2a" opacity="0.6"/>
<rect x="99.8" y="121.4" width="1.0" height="1.0" fill="#3a3a3a" opacity="0.6"/>
<rect x="98.6" y="124.0" width="1.0" height="1.0" fill="#3a3a3a" opacity="0.6"/>
<rect x="93.7" y="121.6" width="1.0" height="1.0" fill="#1a1a1a" opacity="0.6"/>
<rect x="97.8" y="119.8" width="1.0" height="1.0" fill="#222" opacity="0.6"/>
<rect x="93.6" y="125.4" width="1.0" height="1.0" fill="#3a3a3a" opacity="0.6"/>
<rect x="90.6" y="122.5" width="1.0" height="1.0" fill="#3a3a3a" opacity="0.6"/>
<rect x="96.6" y="123.8" width="1.0" height="1.0" fill="#3a3a3a" opacity="0.6"/>
<rect x="98.1" y="121.8" width="1.0" height="1.0" fill="#222" opacity="0.6"/>
<rect x="94.5" y="124.3" width="1.0" height="1.0" fill="#1a1a1a" opacity="0.6"/>
<rect x="96.3" y="122.6" width="1.0" height="1.0" fill="#555" opacity="0.6"/>
<rect x="92.7" y="124.7" width="1.0" height="1.0" fill="#222" opacity="0.6"/>
<rect x="95.7" y="121.8" width="1.0" height="1.0" fill="#555" opacity="0.6"/>
<rect x="97.8" y="118.4" width="1.0" height="1.0" fill="#555" opacity="0.6"/>
<rect x="96.9" y="123.2" width="1.0" height="1.0" fill="#3a3a3a" opacity="0.6"/>
<rect x="96.3" y="124.6" width="1.0" height="1.0" fill="#4a4a4a" opacity="0.6"/>
<rect x="93.7" y="123.9" width="1.0" height="1.0" fill="#2a2a2a" opacity="0.6"/>
<rect x="93.3" y="123.3" width="1.0" height="1.0" fill="#1a1a1a" opacity="0.6"/>
<rect x="93.3" y="125.7" width="1.0" height="1.0" fill="#3a3a3a" opacity="0.6"/>
<rect x="96.9" y="122.0" width="1.0" height="1.0" fill="#555" opacity="0.6"/>
<rect x="98.1" y="121.0" width="1.0" height="1.0" fill="#1a1a1a" opacity="0.6"/>
<rect x="96.7" y="120.1" width="1.0" height="1.0" fill="#4a4a4a" opacity="0.6"/>
<rect x="98.8" y="121.5" width="1.0" height="1.0" fill="#4a4a4a" opacity="0.6"/>
<rect x="96.4" y="120.0" width="1.0" height="1.0" fill="#2a2a2a" opacity="0.6"/>
<rect x="95.2" y="121.7" width="1.0" height="1.0" fill="#1a1a1a" opacity="0.6"/>
<rect x="98.2" y="122.9" width="1.0" height="1.0" fill="#1a1a1a" opacity="0.6"/>
<rect x="96.4" y="122.5" width="1.0" height="1.0" fill="#3a3a3a" opacity="0.6"/>
<rect x="96.9" y="122.7" width="1.0" height="1.0" fill="#555" opacity="0.6"/>
<rect x="101.5" y="122.1" width="1.0" height="1.0" fill="#555" opacity="0.6"/>
<rect x="92.0" y="125.3" width="1.0" height="1.0" fill="#4a4a4a" opacity="0.6"/>
<rect x="94.9" y="124.9" width="1.0" height="1.0" fill="#222" opacity="0.6"/>
<rect x="90.0" y="125.0" width="1.0" height="1.0" fill="#555" opacity="0.6"/>
<rect x="97.9" y="120.3" width="1.0" height="1.0" fill="#3a3a3a" opacity="0.6"/>
<rect x="94.6" y="122.9" width="1.0" height="1.0" fill="#222" opacity="0.6"/>
<rect x="102.0" y="121.0" width="1.0" height="1.0" fill="#1a1a1a" opacity="0.6"/>
<rect x="93.0" y="123.8" width="1.0" height="1.0" fill="#555" opacity="0.6"/>
<rect x="96.4" y="123.6" width="1.0" height="1.0" fill="#222" opacity="0.6"/>
<rect x="91.8" y="126.6" width="1.0" height="1.0" fill="#555" opacity="0.6"/>
<rect x="98.2" y="120.6" width="1.0" height="1.0" fill="#222" opacity="0.6"/>
<rect x="99.8" y="122.1" width="1.0" height="1.0" fill="#4a4a4a" opacity="0.6"/>
<rect x="97.4" y="122.5" width="1.0" height="1.0" fill="#1a1a1a" opacity="0.6"/>
<rect x="97.1" y="123.5" width="1.0" height="1.0" fill="#222" opacity="0.6"/>
<rect x="96.2" y="121.5" width="1.0" height="1.0" fill="#2a2a2a" opacity="0.6"/>
<rect x="96.5" y="120.9" width="1.0" height="1.0" fill="#1a1a1a" opacity="0.6"/>
<rect x="97.8" y="125.0" width="1.0" height="1.0" fill="#555" opacity="0.6"/>
<rect x="93.5" y="124.0" width="1.0" height="1.0" fill="#555" opacity="0.6"/>
<rect x="98.7" y="122.6" width="1.0" height="1.0" fill="#3a3a3a" opacity="0.6"/>
<rect x="95.4" y="124.1" width="1.0" height="1.0" fill="#555" opacity="0.6"/>
<rect x="99.1" y="121.6" width="1.0" height="1.0" fill="#222" opacity="0.6"/>
</g>
<rect x="86.4" y="82.5" width="46.9" height="47.9" fill="none" stroke="#a2a2a2" stroke-width="0.85"/>
<line x1="108.2" y1="82.5" x2="108.2" y2="130.4" stroke="#999" stroke-width="0.85"/>
<line x1="86.4" y1="105.6" x2="133.3" y2="105.6" stroke="#999" stroke-width="0.85"/>
<text x="113.25" y="128.5" font-size="6.3" font-weight="bold" text-anchor="start" fill="#111" textLength="17.5" lengthAdjust="spacingAndGlyphs" stroke="#111" stroke-width="0.18">28.7%</text>
<line x1="23" y1="51.08" x2="23" y2="169" stroke="#333" stroke-width="1.1"/>
<line x1="20.8" y1="169.0" x2="23" y2="169.0" stroke="#333" stroke-width="0.8"/>
<text x="18.3" y="171.2" font-size="6.3" font-weight="normal" text-anchor="end" fill="#555">0</text>
<line x1="20.8" y1="139.52" x2="23" y2="139.52" stroke="#333" stroke-width="0.8"/>
<text x="18.3" y="141.72" font-size="6.3" font-weight="normal" text-anchor="end" fill="#555">20</text>
<line x1="20.8" y1="110.03999999999999" x2="23" y2="110.03999999999999" stroke="#333" stroke-width="0.8"/>
<text x="18.3" y="112.24" font-size="6.3" font-weight="normal" text-anchor="end" fill="#555">40</text>
<line x1="20.8" y1="80.56" x2="23" y2="80.56" stroke="#333" stroke-width="0.8"/>
<text x="18.3" y="82.76" font-size="6.3" font-weight="normal" text-anchor="end" fill="#555">60</text>
<line x1="20.8" y1="51.08" x2="23" y2="51.08" stroke="#333" stroke-width="0.8"/>
<text x="18.3" y="53.28" font-size="6.3" font-weight="normal" text-anchor="end" fill="#555">80</text>
<line x1="23" y1="169" x2="250.2" y2="169" stroke="#333" stroke-width="1.1"/>
<text x="10.2" y="110.6" font-size="9.2" font-weight="bold" text-anchor="middle" fill="#111" transform="rotate(-90 10.2 110.6)" stroke="#111" stroke-width="0.18">% Subdiploid</text>
<rect x="28.700000000000003" y="157.7" width="8.3" height="11.300000000000011" fill="#3b3b3b" stroke="none" stroke-width="1"/>
<line x1="32.85" y1="157" x2="32.85" y2="158.4" stroke="#1a1a1a" stroke-width="0.8"/>
<line x1="31.05" y1="157" x2="34.65" y2="157" stroke="#1a1a1a" stroke-width="0.8"/>
<line x1="31.05" y1="158.4" x2="34.65" y2="158.4" stroke="#1a1a1a" stroke-width="0.8"/>
<rect x="37.0" y="160" width="8.2" height="9" fill="#fff" stroke="#bbb" stroke-width="0.5"/>
<line x1="37.0" y1="160" x2="45.2" y2="160" stroke="#666" stroke-width="0.7"/>
<line x1="41.1" y1="158.5" x2="41.1" y2="161.5" stroke="#222" stroke-width="0.8"/>
<line x1="39.300000000000004" y1="158.5" x2="42.9" y2="158.5" stroke="#222" stroke-width="0.8"/>
<line x1="39.300000000000004" y1="161.5" x2="42.9" y2="161.5" stroke="#222" stroke-width="0.8"/>
<rect x="45.2" y="157.2" width="8.3" height="11.800000000000011" fill="url(#hatch)" stroke="#555" stroke-width="0.6"/>
<line x1="49.35" y1="154.3" x2="49.35" y2="160" stroke="#222" stroke-width="0.8"/>
<line x1="47.550000000000004" y1="154.3" x2="51.15" y2="154.3" stroke="#222" stroke-width="0.8"/>
<line x1="47.550000000000004" y1="160" x2="51.15" y2="160" stroke="#222" stroke-width="0.8"/>
<rect x="64.88" y="155.4" width="8.3" height="13.599999999999994" fill="#3b3b3b" stroke="none" stroke-width="1"/>
<line x1="69.03" y1="154.7" x2="69.03" y2="156.1" stroke="#1a1a1a" stroke-width="0.8"/>
<line x1="67.23" y1="154.7" x2="70.83" y2="154.7" stroke="#1a1a1a" stroke-width="0.8"/>
<line x1="67.23" y1="156.1" x2="70.83" y2="156.1" stroke="#1a1a1a" stroke-width="0.8"/>
<rect x="73.18" y="161.5" width="8.2" height="7.5" fill="#fff" stroke="#bbb" stroke-width="0.5"/>
<line x1="73.18" y1="161.5" x2="81.38" y2="161.5" stroke="#666" stroke-width="0.7"/>
<rect x="81.38" y="155.4" width="8.3" height="13.599999999999994" fill="url(#hatch)" stroke="#555" stroke-width="0.6"/>
<line x1="85.53" y1="152" x2="85.53" y2="158.5" stroke="#222" stroke-width="0.8"/>
<line x1="83.73" y1="152" x2="87.33" y2="152" stroke="#222" stroke-width="0.8"/>
<line x1="83.73" y1="158.5" x2="87.33" y2="158.5" stroke="#222" stroke-width="0.8"/>
<rect x="101.06" y="151.8" width="8.3" height="17.19999999999999" fill="#3b3b3b" stroke="none" stroke-width="1"/>
<line x1="105.21000000000001" y1="151.1" x2="105.21000000000001" y2="152.5" stroke="#1a1a1a" stroke-width="0.8"/>
<line x1="103.41000000000001" y1="151.1" x2="107.01" y2="151.1" stroke="#1a1a1a" stroke-width="0.8"/>
<line x1="103.41000000000001" y1="152.5" x2="107.01" y2="152.5" stroke="#1a1a1a" stroke-width="0.8"/>
<rect x="109.36000000000001" y="159" width="8.2" height="10" fill="#fff" stroke="#bbb" stroke-width="0.5"/>
<line x1="109.36000000000001" y1="159" x2="117.56" y2="159" stroke="#666" stroke-width="0.7"/>
<line x1="113.46000000000001" y1="157.5" x2="113.46000000000001" y2="160.5" stroke="#222" stroke-width="0.8"/>
<line x1="111.66000000000001" y1="157.5" x2="115.26" y2="157.5" stroke="#222" stroke-width="0.8"/>
<line x1="111.66000000000001" y1="160.5" x2="115.26" y2="160.5" stroke="#222" stroke-width="0.8"/>
<rect x="117.56" y="157.2" width="8.3" height="11.800000000000011" fill="url(#hatch)" stroke="#555" stroke-width="0.6"/>
<line x1="121.71000000000001" y1="152.3" x2="121.71000000000001" y2="162" stroke="#222" stroke-width="0.8"/>
<line x1="119.91000000000001" y1="152.3" x2="123.51" y2="152.3" stroke="#222" stroke-width="0.8"/>
<line x1="119.91000000000001" y1="162" x2="123.51" y2="162" stroke="#222" stroke-width="0.8"/>
<rect x="137.23999999999998" y="117" width="8.3" height="52" fill="#3b3b3b" stroke="none" stroke-width="1"/>
<line x1="141.39" y1="107.8" x2="141.39" y2="127" stroke="#1a1a1a" stroke-width="0.8"/>
<line x1="139.58999999999997" y1="107.8" x2="143.19" y2="107.8" stroke="#1a1a1a" stroke-width="0.8"/>
<line x1="139.58999999999997" y1="127" x2="143.19" y2="127" stroke="#1a1a1a" stroke-width="0.8"/>
<rect x="145.54" y="140.8" width="8.2" height="28.19999999999999" fill="#fff" stroke="#bbb" stroke-width="0.5"/>
<line x1="145.54" y1="140.8" x2="153.73999999999998" y2="140.8" stroke="#666" stroke-width="0.7"/>
<line x1="149.64" y1="133.4" x2="149.64" y2="147.7" stroke="#222" stroke-width="0.8"/>
<line x1="147.83999999999997" y1="133.4" x2="151.44" y2="133.4" stroke="#222" stroke-width="0.8"/>
<line x1="147.83999999999997" y1="147.7" x2="151.44" y2="147.7" stroke="#222" stroke-width="0.8"/>
<rect x="153.73999999999998" y="129.7" width="8.3" height="39.30000000000001" fill="url(#hatch)" stroke="#555" stroke-width="0.6"/>
<line x1="157.89" y1="124.6" x2="157.89" y2="134" stroke="#222" stroke-width="0.8"/>
<line x1="156.08999999999997" y1="124.6" x2="159.69" y2="124.6" stroke="#222" stroke-width="0.8"/>
<line x1="156.08999999999997" y1="134" x2="159.69" y2="134" stroke="#222" stroke-width="0.8"/>
<rect x="173.42" y="105.5" width="8.3" height="63.5" fill="#3b3b3b" stroke="none" stroke-width="1"/>
<line x1="177.57" y1="89.5" x2="177.57" y2="121.4" stroke="#1a1a1a" stroke-width="0.8"/>
<line x1="175.76999999999998" y1="89.5" x2="179.37" y2="89.5" stroke="#1a1a1a" stroke-width="0.8"/>
<line x1="175.76999999999998" y1="121.4" x2="179.37" y2="121.4" stroke="#1a1a1a" stroke-width="0.8"/>
<rect x="181.72" y="115.4" width="8.2" height="53.599999999999994" fill="#fff" stroke="#bbb" stroke-width="0.5"/>
<line x1="181.72" y1="115.4" x2="189.92" y2="115.4" stroke="#666" stroke-width="0.7"/>
<line x1="185.82" y1="107.4" x2="185.82" y2="123.3" stroke="#222" stroke-width="0.8"/>
<line x1="184.01999999999998" y1="107.4" x2="187.62" y2="107.4" stroke="#222" stroke-width="0.8"/>
<line x1="184.01999999999998" y1="123.3" x2="187.62" y2="123.3" stroke="#222" stroke-width="0.8"/>
<rect x="189.92" y="106.2" width="8.3" height="62.8" fill="url(#hatch)" stroke="#555" stroke-width="0.6"/>
<line x1="194.07" y1="101.5" x2="194.07" y2="111" stroke="#222" stroke-width="0.8"/>
<line x1="192.26999999999998" y1="101.5" x2="195.87" y2="101.5" stroke="#222" stroke-width="0.8"/>
<line x1="192.26999999999998" y1="111" x2="195.87" y2="111" stroke="#222" stroke-width="0.8"/>
<rect x="209.6" y="96.5" width="8.3" height="72.5" fill="#3b3b3b" stroke="none" stroke-width="1"/>
<line x1="213.75" y1="71.8" x2="213.75" y2="122" stroke="#1a1a1a" stroke-width="0.8"/>
<line x1="211.95" y1="71.8" x2="215.55" y2="71.8" stroke="#1a1a1a" stroke-width="0.8"/>
<line x1="211.95" y1="122" x2="215.55" y2="122" stroke="#1a1a1a" stroke-width="0.8"/>
<rect x="217.9" y="97" width="8.2" height="72" fill="#fff" stroke="#bbb" stroke-width="0.5"/>
<line x1="217.9" y1="97" x2="226.1" y2="97" stroke="#666" stroke-width="0.7"/>
<line x1="222.0" y1="91.2" x2="222.0" y2="103.8" stroke="#222" stroke-width="0.8"/>
<line x1="220.2" y1="91.2" x2="223.8" y2="91.2" stroke="#222" stroke-width="0.8"/>
<line x1="220.2" y1="103.8" x2="223.8" y2="103.8" stroke="#222" stroke-width="0.8"/>
<rect x="226.1" y="95.8" width="8.3" height="73.2" fill="url(#hatch)" stroke="#555" stroke-width="0.6"/>
<line x1="230.25" y1="80.2" x2="230.25" y2="110" stroke="#222" stroke-width="0.8"/>
<line x1="228.45" y1="80.2" x2="232.05" y2="80.2" stroke="#222" stroke-width="0.8"/>
<line x1="228.45" y1="110" x2="232.05" y2="110" stroke="#222" stroke-width="0.8"/>
<text x="40.4" y="177.1" font-size="6.9" font-weight="bold" text-anchor="middle" fill="#111" stroke="#111" stroke-width="0.18">Control</text>
<text x="77.28" y="177.1" font-size="6.9" font-weight="bold" text-anchor="middle" fill="#111" stroke="#111" stroke-width="0.18">1 nM</text>
<text x="113.46000000000001" y="177.1" font-size="6.9" font-weight="bold" text-anchor="middle" fill="#111" stroke="#111" stroke-width="0.18">10 nM</text>
<text x="149.64" y="177.1" font-size="6.9" font-weight="bold" text-anchor="middle" fill="#111" stroke="#111" stroke-width="0.18">50 nM</text>
<text x="185.82" y="177.1" font-size="6.9" font-weight="bold" text-anchor="middle" fill="#111" stroke="#111" stroke-width="0.18">200 nM</text>
<text x="222.0" y="177.1" font-size="6.9" font-weight="bold" text-anchor="middle" fill="#111" stroke="#111" stroke-width="0.18">1 &#181;M</text>
<line x1="63" y1="183.4" x2="240.5" y2="183.4" stroke="#000" stroke-width="1.3"/>
<text x="151.3" y="200.4" font-size="10.9" font-weight="bold" text-anchor="middle" fill="#111" stroke="#111" stroke-width="0.18">NPI-0052</text>
<rect x="207.5" y="35.7" width="9.7" height="4.6" fill="#111" stroke="none" stroke-width="1"/>
<rect x="207.8" y="45.6" width="9.2" height="4.1" fill="#fff" stroke="#111" stroke-width="0.8"/>
<rect x="208.2" y="54.8" width="9.4" height="4.5" fill="#fff" stroke="#111" stroke-width="0.9"/>
<polygon points="212.4,59.3 215.9,54.8 217.6,54.8 217.6,56.3 215.3,59.3" fill="#111"/>
<text x="222" y="40.6" font-size="7.9" font-weight="normal" text-anchor="start" fill="#111" stroke="#111" stroke-width="0.15">Jurkat</text>
<text x="222" y="50.4" font-size="7.9" font-weight="normal" text-anchor="start" fill="#111" stroke="#111" stroke-width="0.15">K562</text>
<text x="222.3" y="60.2" font-size="7.9" font-weight="normal" text-anchor="start" fill="#111" stroke="#111" stroke-width="0.15">ML-1</text>
<text x="269.6" y="15.4" font-size="16.3" font-weight="bold" text-anchor="start" fill="#000">C</text>
<line x1="295.5" y1="69.0" x2="295.5" y2="168.9" stroke="#333" stroke-width="1"/>
<line x1="293.3" y1="168.9" x2="295.5" y2="168.9" stroke="#333" stroke-width="0.8"/>
<text x="290.9" y="171.0" font-size="6.2" font-weight="normal" text-anchor="end" fill="#444">0</text>
<line x1="293.3" y1="157.8" x2="295.5" y2="157.8" stroke="#333" stroke-width="0.8"/>
<text x="290.9" y="159.9" font-size="6.2" font-weight="normal" text-anchor="end" fill="#444">10</text>
<line x1="293.3" y1="146.7" x2="295.5" y2="146.7" stroke="#333" stroke-width="0.8"/>
<text x="290.9" y="148.79999999999998" font-size="6.2" font-weight="normal" text-anchor="end" fill="#444">20</text>
<line x1="293.3" y1="135.6" x2="295.5" y2="135.6" stroke="#333" stroke-width="0.8"/>
<text x="290.9" y="137.7" font-size="6.2" font-weight="normal" text-anchor="end" fill="#444">30</text>
<line x1="293.3" y1="124.5" x2="295.5" y2="124.5" stroke="#333" stroke-width="0.8"/>
<text x="290.9" y="126.6" font-size="6.2" font-weight="normal" text-anchor="end" fill="#444">40</text>
<line x1="293.3" y1="113.4" x2="295.5" y2="113.4" stroke="#333" stroke-width="0.8"/>
<text x="290.9" y="115.5" font-size="6.2" font-weight="normal" text-anchor="end" fill="#444">50</text>
<line x1="293.3" y1="102.3" x2="295.5" y2="102.3" stroke="#333" stroke-width="0.8"/>
<text x="290.9" y="104.39999999999999" font-size="6.2" font-weight="normal" text-anchor="end" fill="#444">60</text>
<line x1="293.3" y1="91.2" x2="295.5" y2="91.2" stroke="#333" stroke-width="0.8"/>
<text x="290.9" y="93.3" font-size="6.2" font-weight="normal" text-anchor="end" fill="#444">70</text>
<line x1="293.3" y1="80.1" x2="295.5" y2="80.1" stroke="#333" stroke-width="0.8"/>
<text x="290.9" y="82.19999999999999" font-size="6.2" font-weight="normal" text-anchor="end" fill="#444">80</text>
<line x1="293.3" y1="69.0" x2="295.5" y2="69.0" stroke="#333" stroke-width="0.8"/>
<text x="290.9" y="71.1" font-size="6.2" font-weight="normal" text-anchor="end" fill="#444">90</text>
<line x1="295.2" y1="168.9" x2="515.7" y2="168.9" stroke="#555" stroke-width="1"/>
<text x="277.1" y="117.5" font-size="9.3" font-weight="bold" text-anchor="middle" fill="#111" transform="rotate(-90 277.1 117.5)" stroke="#111" stroke-width="0.18">% Subdiploid</text>
<rect x="300.5" y="162" width="8.1" height="6.900000000000006" fill="#111" stroke="none" stroke-width="1"/>
<line x1="304.55" y1="160.5" x2="304.55" y2="163.5" stroke="#111" stroke-width="0.8"/>
<line x1="302.95" y1="160.5" x2="306.15000000000003" y2="160.5" stroke="#111" stroke-width="0.8"/>
<line x1="302.95" y1="163.5" x2="306.15000000000003" y2="163.5" stroke="#111" stroke-width="0.8"/>
<rect x="309.0" y="161.70000000000002" width="7.8" height="7.199999999999994" fill="#fff" stroke="#111" stroke-width="0.8"/>
<line x1="312.90000000000003" y1="159.4" x2="312.90000000000003" y2="163.2" stroke="#111" stroke-width="0.8"/>
<line x1="311.3" y1="159.4" x2="314.50000000000006" y2="159.4" stroke="#111" stroke-width="0.8"/>
<line x1="311.3" y1="163.2" x2="314.50000000000006" y2="163.2" stroke="#111" stroke-width="0.8"/>
<rect x="327.68" y="161.3" width="8.1" height="7.599999999999994" fill="#111" stroke="none" stroke-width="1"/>
<line x1="331.73" y1="159.5" x2="331.73" y2="163" stroke="#111" stroke-width="0.8"/>
<line x1="330.13" y1="159.5" x2="333.33000000000004" y2="159.5" stroke="#111" stroke-width="0.8"/>
<line x1="330.13" y1="163" x2="333.33000000000004" y2="163" stroke="#111" stroke-width="0.8"/>
<rect x="336.18" y="161.70000000000002" width="7.8" height="7.199999999999994" fill="#fff" stroke="#111" stroke-width="0.8"/>
<line x1="340.08000000000004" y1="158.4" x2="340.08000000000004" y2="166.4" stroke="#111" stroke-width="0.8"/>
<line x1="338.48" y1="158.4" x2="341.68000000000006" y2="158.4" stroke="#111" stroke-width="0.8"/>
<line x1="338.48" y1="166.4" x2="341.68000000000006" y2="166.4" stroke="#111" stroke-width="0.8"/>
<rect x="354.86" y="159" width="8.1" height="9.900000000000006" fill="#111" stroke="none" stroke-width="1"/>
<line x1="358.91" y1="157.8" x2="358.91" y2="160.2" stroke="#111" stroke-width="0.8"/>
<line x1="357.31" y1="157.8" x2="360.51000000000005" y2="157.8" stroke="#111" stroke-width="0.8"/>
<line x1="357.31" y1="160.2" x2="360.51000000000005" y2="160.2" stroke="#111" stroke-width="0.8"/>
<rect x="363.36" y="158.8" width="7.8" height="10.1" fill="#fff" stroke="#111" stroke-width="0.8"/>
<line x1="367.26000000000005" y1="157.6" x2="367.26000000000005" y2="159.2" stroke="#111" stroke-width="0.8"/>
<line x1="365.66" y1="157.6" x2="368.86000000000007" y2="157.6" stroke="#111" stroke-width="0.8"/>
<line x1="365.66" y1="159.2" x2="368.86000000000007" y2="159.2" stroke="#111" stroke-width="0.8"/>
<rect x="382.03999999999996" y="141.9" width="8.1" height="27.0" fill="#111" stroke="none" stroke-width="1"/>
<line x1="386.09" y1="139.4" x2="386.09" y2="144.4" stroke="#111" stroke-width="0.8"/>
<line x1="384.48999999999995" y1="139.4" x2="387.69" y2="139.4" stroke="#111" stroke-width="0.8"/>
<line x1="384.48999999999995" y1="144.4" x2="387.69" y2="144.4" stroke="#111" stroke-width="0.8"/>
<rect x="390.53999999999996" y="141.6" width="7.8" height="27.30000000000002" fill="#fff" stroke="#111" stroke-width="0.8"/>
<line x1="394.44" y1="140.6" x2="394.44" y2="141.8" stroke="#111" stroke-width="0.8"/>
<line x1="392.84" y1="140.6" x2="396.04" y2="140.6" stroke="#111" stroke-width="0.8"/>
<line x1="392.84" y1="141.8" x2="396.04" y2="141.8" stroke="#111" stroke-width="0.8"/>
<rect x="409.22" y="111.6" width="8.1" height="57.30000000000001" fill="#111" stroke="none" stroke-width="1"/>
<line x1="413.27000000000004" y1="111" x2="413.27000000000004" y2="112.2" stroke="#111" stroke-width="0.8"/>
<line x1="411.67" y1="111" x2="414.87000000000006" y2="111" stroke="#111" stroke-width="0.8"/>
<line x1="411.67" y1="112.2" x2="414.87000000000006" y2="112.2" stroke="#111" stroke-width="0.8"/>
<rect x="417.72" y="112.7" width="7.8" height="56.20000000000001" fill="#fff" stroke="#111" stroke-width="0.8"/>
<line x1="421.62000000000006" y1="109.6" x2="421.62000000000006" y2="115.6" stroke="#111" stroke-width="0.8"/>
<line x1="420.02000000000004" y1="109.6" x2="423.2200000000001" y2="109.6" stroke="#111" stroke-width="0.8"/>
<line x1="420.02000000000004" y1="115.6" x2="423.2200000000001" y2="115.6" stroke="#111" stroke-width="0.8"/>
<rect x="436.4" y="95.4" width="8.1" height="73.5" fill="#111" stroke="none" stroke-width="1"/>
<line x1="440.45" y1="74.9" x2="440.45" y2="116" stroke="#111" stroke-width="0.8"/>
<line x1="438.84999999999997" y1="74.9" x2="442.05" y2="74.9" stroke="#111" stroke-width="0.8"/>
<line x1="438.84999999999997" y1="116" x2="442.05" y2="116" stroke="#111" stroke-width="0.8"/>
<rect x="444.9" y="92.80000000000001" width="7.8" height="76.1" fill="#fff" stroke="#111" stroke-width="0.8"/>
<line x1="448.8" y1="73.9" x2="448.8" y2="112" stroke="#111" stroke-width="0.8"/>
<line x1="447.2" y1="73.9" x2="450.40000000000003" y2="73.9" stroke="#111" stroke-width="0.8"/>
<line x1="447.2" y1="112" x2="450.40000000000003" y2="112" stroke="#111" stroke-width="0.8"/>
<rect x="463.58" y="86.5" width="8.1" height="82.4" fill="#111" stroke="none" stroke-width="1"/>
<line x1="467.63" y1="83.5" x2="467.63" y2="89.5" stroke="#111" stroke-width="0.8"/>
<line x1="466.03" y1="83.5" x2="469.23" y2="83.5" stroke="#111" stroke-width="0.8"/>
<line x1="466.03" y1="89.5" x2="469.23" y2="89.5" stroke="#111" stroke-width="0.8"/>
<rect x="472.08" y="86.2" width="7.8" height="82.7" fill="#fff" stroke="#111" stroke-width="0.8"/>
<line x1="475.98" y1="82.5" x2="475.98" y2="90.4" stroke="#111" stroke-width="0.8"/>
<line x1="474.38" y1="82.5" x2="477.58000000000004" y2="82.5" stroke="#111" stroke-width="0.8"/>
<line x1="474.38" y1="90.4" x2="477.58000000000004" y2="90.4" stroke="#111" stroke-width="0.8"/>
<text x="307" y="179.4" font-size="9" font-weight="normal" text-anchor="middle" fill="#222">0</text>
<text x="335" y="179.4" font-size="9" font-weight="normal" text-anchor="middle" fill="#222">2</text>
<text x="362.9" y="179.4" font-size="9" font-weight="normal" text-anchor="middle" fill="#222">4</text>
<text x="390.8" y="179.4" font-size="9" font-weight="normal" text-anchor="middle" fill="#222">6</text>
<text x="419" y="179.4" font-size="9" font-weight="normal" text-anchor="middle" fill="#222">8</text>
<text x="445.3" y="179.4" font-size="9" font-weight="normal" text-anchor="middle" fill="#222">16</text>
<text x="472.6" y="179.4" font-size="9" font-weight="normal" text-anchor="middle" fill="#222">24</text>
<text x="396" y="195.6" font-size="9.1" font-weight="bold" text-anchor="middle" fill="#111" stroke="#111" stroke-width="0.18">Hours</text>
<path d="M467.50 77.56L467.50 75.41M467.50 77.56L469.55 76.90M467.50 77.56L468.76 79.30M467.50 77.56L466.24 79.30M467.50 77.56L465.45 76.90" stroke="#2a2a2a" stroke-width="1.22" stroke-linecap="round" fill="none"/>
<path d="M475.50 77.56L475.50 75.41M475.50 77.56L477.55 76.90M475.50 77.56L476.76 79.30M475.50 77.56L474.24 79.30M475.50 77.56L473.45 76.90" stroke="#2a2a2a" stroke-width="1.22" stroke-linecap="round" fill="none"/>
<rect x="299.3" y="70.2" width="9.2" height="6.1" fill="#111" stroke="none" stroke-width="1"/>
<rect x="299.7" y="81.8" width="8.6" height="6.3" fill="#fff" stroke="#111" stroke-width="0.8"/>
<text x="311.6" y="76.3" font-size="7.6" font-weight="bold" text-anchor="start" fill="#111" stroke="#111" stroke-width="0.18">200 nM NPI-0052</text>
<text x="311.8" y="90" font-size="7.6" font-weight="bold" text-anchor="start" fill="#111" stroke="#111" stroke-width="0.18">1&#181;M NPI-0052</text>
<path d="M484.90 46.85L484.90 44.47M484.90 46.85L487.16 46.12M484.90 46.85L486.30 48.77M484.90 46.85L483.50 48.77M484.90 46.85L482.64 46.12" stroke="#2a2a2a" stroke-width="1.35" stroke-linecap="round" fill="none"/>
<text x="490.4" y="53.8" font-size="7.8" font-weight="normal" text-anchor="start" fill="#222" font-style="italic">P</text>
<text x="497.3" y="53.8" font-size="7.4" font-weight="normal" text-anchor="start" fill="#222">&lt;</text>
<text x="507.1" y="53.8" font-size="7.1" font-weight="normal" text-anchor="start" fill="#222">.05</text>
<text x="1.4" y="245" font-size="16" font-weight="bold" text-anchor="start" fill="#000">B</text>
<line x1="40" y1="253.10000000000002" x2="40" y2="363.5" stroke="#444" stroke-width="1"/>
<line x1="38" y1="363.5" x2="40" y2="363.5" stroke="#444" stroke-width="0.8"/>
<text x="34.9" y="365.7" font-size="6.4" font-weight="normal" text-anchor="end" fill="#444">0</text>
<line x1="38" y1="352.46" x2="40" y2="352.46" stroke="#444" stroke-width="0.8"/>
<text x="34.9" y="354.65999999999997" font-size="6.4" font-weight="normal" text-anchor="end" fill="#444">1000</text>
<line x1="38" y1="341.42" x2="40" y2="341.42" stroke="#444" stroke-width="0.8"/>
<text x="34.9" y="343.62" font-size="6.4" font-weight="normal" text-anchor="end" fill="#444">2000</text>
<line x1="38" y1="330.38" x2="40" y2="330.38" stroke="#444" stroke-width="0.8"/>
<text x="34.9" y="332.58" font-size="6.4" font-weight="normal" text-anchor="end" fill="#444">3000</text>
<line x1="38" y1="319.34000000000003" x2="40" y2="319.34000000000003" stroke="#444" stroke-width="0.8"/>
<text x="34.9" y="321.54" font-size="6.4" font-weight="normal" text-anchor="end" fill="#444">4000</text>
<line x1="38" y1="308.3" x2="40" y2="308.3" stroke="#444" stroke-width="0.8"/>
<text x="34.9" y="310.5" font-size="6.4" font-weight="normal" text-anchor="end" fill="#444">5000</text>
<line x1="38" y1="297.26" x2="40" y2="297.26" stroke="#444" stroke-width="0.8"/>
<text x="34.9" y="299.46" font-size="6.4" font-weight="normal" text-anchor="end" fill="#444">6000</text>
<line x1="38" y1="286.22" x2="40" y2="286.22" stroke="#444" stroke-width="0.8"/>
<text x="34.9" y="288.42" font-size="6.4" font-weight="normal" text-anchor="end" fill="#444">7000</text>
<line x1="38" y1="275.18" x2="40" y2="275.18" stroke="#444" stroke-width="0.8"/>
<text x="34.9" y="277.38" font-size="6.4" font-weight="normal" text-anchor="end" fill="#444">8000</text>
<line x1="38" y1="264.14" x2="40" y2="264.14" stroke="#444" stroke-width="0.8"/>
<text x="34.9" y="266.34" font-size="6.4" font-weight="normal" text-anchor="end" fill="#444">9000</text>
<line x1="38" y1="253.10000000000002" x2="40" y2="253.10000000000002" stroke="#444" stroke-width="0.8"/>
<text x="34.9" y="255.3" font-size="6.4" font-weight="normal" text-anchor="end" fill="#444">10000</text>
<line x1="40" y1="363.6" x2="247.5" y2="363.6" stroke="#444" stroke-width="1"/>
<text x="7.8" y="305" font-size="7.3" font-weight="bold" text-anchor="middle" fill="#111" transform="rotate(-90 7.8 305)" stroke="#111" stroke-width="0.18">Chymotrypsin-like Activity</text>
<text x="15.6" y="304" font-size="7.4" font-weight="bold" text-anchor="middle" fill="#111" transform="rotate(-90 15.6 304)" stroke="#111" stroke-width="0.18">(RFU)</text>
<rect x="50.1" y="288" width="14.6" height="75.60000000000002" fill="#1a1a1a" stroke="none" stroke-width="1"/>
<line x1="57.4" y1="264.7" x2="57.4" y2="288" stroke="#222" stroke-width="0.95"/>
<line x1="55.4" y1="264.7" x2="59.4" y2="264.7" stroke="#222" stroke-width="0.95"/>
<rect x="84.95" y="321.7" width="14.6" height="41.900000000000034" fill="#1a1a1a" stroke="none" stroke-width="1"/>
<line x1="92.25" y1="299.5" x2="92.25" y2="321.7" stroke="#222" stroke-width="0.95"/>
<line x1="90.25" y1="299.5" x2="94.25" y2="299.5" stroke="#222" stroke-width="0.95"/>
<rect x="119.8" y="357.7" width="14.6" height="5.900000000000034" fill="#1a1a1a" stroke="none" stroke-width="1"/>
<line x1="127.1" y1="355.2" x2="127.1" y2="357.7" stroke="#222" stroke-width="0.95"/>
<line x1="125.1" y1="355.2" x2="129.1" y2="355.2" stroke="#222" stroke-width="0.95"/>
<rect x="154.65" y="361.2" width="14.6" height="2.400000000000034" fill="#1a1a1a" stroke="none" stroke-width="1"/>
<line x1="161.95000000000002" y1="360.3" x2="161.95000000000002" y2="361.2" stroke="#222" stroke-width="0.95"/>
<line x1="159.95000000000002" y1="360.3" x2="163.95000000000002" y2="360.3" stroke="#222" stroke-width="0.95"/>
<rect x="189.5" y="361" width="14.6" height="2.6000000000000227" fill="#1a1a1a" stroke="none" stroke-width="1"/>
<rect x="224.35" y="361.2" width="14.6" height="2.400000000000034" fill="#1a1a1a" stroke="none" stroke-width="1"/>
<line x1="231.65" y1="360.3" x2="231.65" y2="361.2" stroke="#222" stroke-width="0.95"/>
<line x1="229.65" y1="360.3" x2="233.65" y2="360.3" stroke="#222" stroke-width="0.95"/>
<text x="57.4" y="371.9" font-size="6.4" font-weight="bold" text-anchor="middle" fill="#111" stroke="#111" stroke-width="0.18">Control</text>
<text x="92.25" y="371.9" font-size="6.4" font-weight="bold" text-anchor="middle" fill="#111" stroke="#111" stroke-width="0.18">1 nM</text>
<text x="127.1" y="371.9" font-size="6.4" font-weight="bold" text-anchor="middle" fill="#111" stroke="#111" stroke-width="0.18">10 nM</text>
<text x="161.95000000000002" y="371.9" font-size="6.4" font-weight="bold" text-anchor="middle" fill="#111" stroke="#111" stroke-width="0.18">50 nM</text>
<text x="196.8" y="371.9" font-size="6.4" font-weight="bold" text-anchor="middle" fill="#111" stroke="#111" stroke-width="0.18">200 nM</text>
<text x="231.65" y="371.9" font-size="6.4" font-weight="bold" text-anchor="middle" fill="#111" stroke="#111" stroke-width="0.18">1 &#181;M</text>
<line x1="79.5" y1="377" x2="249.8" y2="377" stroke="#000" stroke-width="1.3"/>
<text x="161.3" y="391.4" font-size="9.9" font-weight="bold" text-anchor="middle" fill="#111" stroke="#111" stroke-width="0.18">NPI-0052</text>
<path d="M92.50 291.62L92.50 289.58M92.50 291.62L94.44 290.99M92.50 291.62L93.70 293.27M92.50 291.62L91.30 293.27M92.50 291.62L90.56 290.99" stroke="#2a2a2a" stroke-width="1.16" stroke-linecap="round" fill="none"/>
<path d="M123.40 349.46L123.40 347.54M123.40 349.46L125.22 348.87M123.40 349.46L124.52 351.01M123.40 349.46L122.28 351.01M123.40 349.46L121.58 348.87" stroke="#2a2a2a" stroke-width="1.09" stroke-linecap="round" fill="none"/>
<path d="M130.40 349.46L130.40 347.54M130.40 349.46L132.22 348.87M130.40 349.46L131.52 351.01M130.40 349.46L129.28 351.01M130.40 349.46L128.58 348.87" stroke="#2a2a2a" stroke-width="1.09" stroke-linecap="round" fill="none"/>
<path d="M208.70 258.99L208.70 256.90M208.70 258.99L210.69 258.34M208.70 258.99L209.93 260.69M208.70 258.99L207.47 260.69M208.70 258.99L206.71 258.34" stroke="#2a2a2a" stroke-width="1.19" stroke-linecap="round" fill="none"/>
<path d="M202.20 271.49L202.20 269.40M202.20 271.49L204.19 270.84M202.20 271.49L203.43 273.19M202.20 271.49L200.97 273.19M202.20 271.49L200.21 270.84" stroke="#2a2a2a" stroke-width="1.19" stroke-linecap="round" fill="none"/>
<path d="M208.70 271.49L208.70 269.40M208.70 271.49L210.69 270.84M208.70 271.49L209.93 273.19M208.70 271.49L207.47 273.19M208.70 271.49L206.71 270.84" stroke="#2a2a2a" stroke-width="1.19" stroke-linecap="round" fill="none"/>
<text x="213.8" y="265.0" font-size="6.8" font-weight="normal" text-anchor="start" fill="#333" font-style="italic">P</text>
<text x="220.4" y="265.0" font-size="6.8" font-weight="normal" text-anchor="start" fill="#333">&lt;</text>
<text x="228.6" y="265.0" font-size="6.9" font-weight="normal" text-anchor="start" fill="#333">.05</text>
<text x="213.8" y="277.5" font-size="6.8" font-weight="normal" text-anchor="start" fill="#333" font-style="italic">P</text>
<text x="220.4" y="277.5" font-size="6.8" font-weight="normal" text-anchor="start" fill="#333">&lt;</text>
<text x="228.6" y="277.5" font-size="6.9" font-weight="normal" text-anchor="start" fill="#333">.001</text>
<text x="269.6" y="245" font-size="16" font-weight="bold" text-anchor="start" fill="#000">D</text>
<line x1="305.4" y1="272.2" x2="305.4" y2="366.2" stroke="#333" stroke-width="1"/>
<line x1="303.2" y1="366.2" x2="305.4" y2="366.2" stroke="#333" stroke-width="0.8"/>
<text x="300.8" y="368.5" font-size="6.6" font-weight="normal" text-anchor="end" fill="#444">0</text>
<line x1="303.2" y1="347.4" x2="305.4" y2="347.4" stroke="#333" stroke-width="0.8"/>
<text x="300.8" y="349.7" font-size="6.6" font-weight="normal" text-anchor="end" fill="#444">0.5</text>
<line x1="303.2" y1="328.59999999999997" x2="305.4" y2="328.59999999999997" stroke="#333" stroke-width="0.8"/>
<text x="300.8" y="330.9" font-size="6.6" font-weight="normal" text-anchor="end" fill="#444">1</text>
<line x1="303.2" y1="309.79999999999995" x2="305.4" y2="309.79999999999995" stroke="#333" stroke-width="0.8"/>
<text x="300.8" y="312.09999999999997" font-size="6.6" font-weight="normal" text-anchor="end" fill="#444">1.5</text>
<line x1="303.2" y1="291.0" x2="305.4" y2="291.0" stroke="#333" stroke-width="0.8"/>
<text x="300.8" y="293.3" font-size="6.6" font-weight="normal" text-anchor="end" fill="#444">2</text>
<line x1="303.2" y1="272.2" x2="305.4" y2="272.2" stroke="#333" stroke-width="0.8"/>
<text x="300.8" y="274.5" font-size="6.6" font-weight="normal" text-anchor="end" fill="#444">2.5</text>
<line x1="305" y1="366.2" x2="515.5" y2="366.2" stroke="#444" stroke-width="1"/>
<line x1="304.9" y1="366.2" x2="304.9" y2="368.2" stroke="#444" stroke-width="0.8"/>
<text x="305.7" y="378" font-size="6.3" font-weight="normal" text-anchor="middle" fill="#555">15</text>
<line x1="347.15" y1="366.2" x2="347.15" y2="368.2" stroke="#444" stroke-width="0.8"/>
<text x="347.15" y="378" font-size="6.3" font-weight="normal" text-anchor="middle" fill="#555">20</text>
<line x1="389.4" y1="366.2" x2="389.4" y2="368.2" stroke="#444" stroke-width="0.8"/>
<text x="389.4" y="378" font-size="6.3" font-weight="normal" text-anchor="middle" fill="#555">25</text>
<line x1="431.65" y1="366.2" x2="431.65" y2="368.2" stroke="#444" stroke-width="0.8"/>
<text x="431.65" y="378" font-size="6.3" font-weight="normal" text-anchor="middle" fill="#555">30</text>
<line x1="473.9" y1="366.2" x2="473.9" y2="368.2" stroke="#444" stroke-width="0.8"/>
<text x="473.9" y="378" font-size="6.3" font-weight="normal" text-anchor="middle" fill="#555">35</text>
<line x1="516.15" y1="366.2" x2="516.15" y2="368.2" stroke="#444" stroke-width="0.8"/>
<text x="516.15" y="378" font-size="6.3" font-weight="normal" text-anchor="middle" fill="#555">40</text>
<text x="399.3" y="390.5" font-size="7.1" font-weight="bold" text-anchor="middle" fill="#111" stroke="#111" stroke-width="0.18">Days</text>
<text x="277.9" y="316.2" font-size="7.27" font-weight="bold" text-anchor="middle" fill="#111" transform="rotate(-90 277.9 316.2)" stroke="#111" stroke-width="0.18">White Blood Cell Count</text>
<text x="286.4" y="314.5" font-size="7.0" font-weight="bold" text-anchor="middle" fill="#111" transform="rotate(-90 286.4 314.5)" stroke="#111" stroke-width="0.18">(x10<tspan font-size="4.6" dy="-2.6">3</tspan><tspan dy="2.6">/&#181;L)</tspan></text>
<line x1="321.9" y1="313.9" x2="474.3" y2="291.6" stroke="#111" stroke-width="1"/>
<line x1="321.9" y1="316.2" x2="471" y2="332.2" stroke="#111" stroke-width="1.1" stroke-dasharray="11,4" stroke-dashoffset="4.4"/>
<circle cx="321.79999999999995" cy="314.6" r="1.9" fill="#fff" stroke="#444" stroke-width="0.75"/>
<circle cx="355.59999999999997" cy="299.8" r="1.9" fill="#fff" stroke="#444" stroke-width="0.75"/>
<circle cx="355.59999999999997" cy="313.1" r="1.9" fill="#fff" stroke="#444" stroke-width="0.75"/>
<circle cx="372.5" cy="288" r="1.9" fill="#fff" stroke="#444" stroke-width="0.75"/>
<circle cx="372.5" cy="314.2" r="1.9" fill="#fff" stroke="#444" stroke-width="0.75"/>
<circle cx="372.5" cy="321.3" r="1.9" fill="#fff" stroke="#444" stroke-width="0.75"/>
<circle cx="448.54999999999995" cy="288.7" r="1.9" fill="#fff" stroke="#444" stroke-width="0.75"/>
<circle cx="448.54999999999995" cy="287.8" r="1.9" fill="#fff" stroke="#444" stroke-width="0.75"/>
<circle cx="473.9" cy="302" r="1.9" fill="#fff" stroke="#444" stroke-width="0.75"/>
<rect x="319.69999999999993" y="331.2" width="4.2" height="4.2" fill="#111" stroke="none" stroke-width="1"/>
<rect x="353.49999999999994" y="324.59999999999997" width="4.2" height="4.2" fill="#111" stroke="none" stroke-width="1"/>
<rect x="353.49999999999994" y="330.9" width="4.2" height="4.2" fill="#111" stroke="none" stroke-width="1"/>
<rect x="370.4" y="289.09999999999997" width="4.2" height="4.2" fill="#111" stroke="none" stroke-width="1"/>
<rect x="370.4" y="295.2" width="4.2" height="4.2" fill="#111" stroke="none" stroke-width="1"/>
<rect x="446.44999999999993" y="299.5" width="4.2" height="4.2" fill="#111" stroke="none" stroke-width="1"/>
<rect x="446.44999999999993" y="345.29999999999995" width="4.2" height="4.2" fill="#111" stroke="none" stroke-width="1"/>
<rect x="446.44999999999993" y="356.29999999999995" width="4.2" height="4.2" fill="#111" stroke="none" stroke-width="1"/>
<rect x="471.79999999999995" y="328.79999999999995" width="4.2" height="4.2" fill="#111" stroke="none" stroke-width="1"/>
<circle cx="313.8" cy="258.4" r="2.1" fill="#fff" stroke="#333" stroke-width="0.85"/>
<rect x="311.7" y="267.3" width="4.1" height="4.1" fill="#111" stroke="none" stroke-width="1"/>
<text x="318.7" y="260.6" font-size="6.5" font-weight="bold" text-anchor="start" fill="#111" stroke="#111" stroke-width="0.18">Control</text>
<text x="344.8" y="260.6" font-size="6.5" font-weight="bold" text-anchor="start" fill="#111" stroke="#111" stroke-width="0.18">(linear</text>
<line x1="366.3" y1="258.2" x2="380.8" y2="258.2" stroke="#222" stroke-width="0.9"/>
<text x="384.2" y="260.6" font-size="6.5" font-weight="bold" text-anchor="start" fill="#111" stroke="#111" stroke-width="0.18">)</text>
<text x="318.7" y="272" font-size="6.6" font-weight="bold" text-anchor="start" fill="#111" textLength="83" lengthAdjust="spacingAndGlyphs" stroke="#111" stroke-width="0.18">0.15mg/kg NPI-0052(linear</text>
<line x1="403" y1="270" x2="417.5" y2="270" stroke="#222" stroke-width="0.9" stroke-dasharray="3,2.3"/>
<text x="421" y="272" font-size="6.5" font-weight="bold" text-anchor="start" fill="#111" stroke="#111" stroke-width="0.18">)</text>
</svg>
</body></html>
